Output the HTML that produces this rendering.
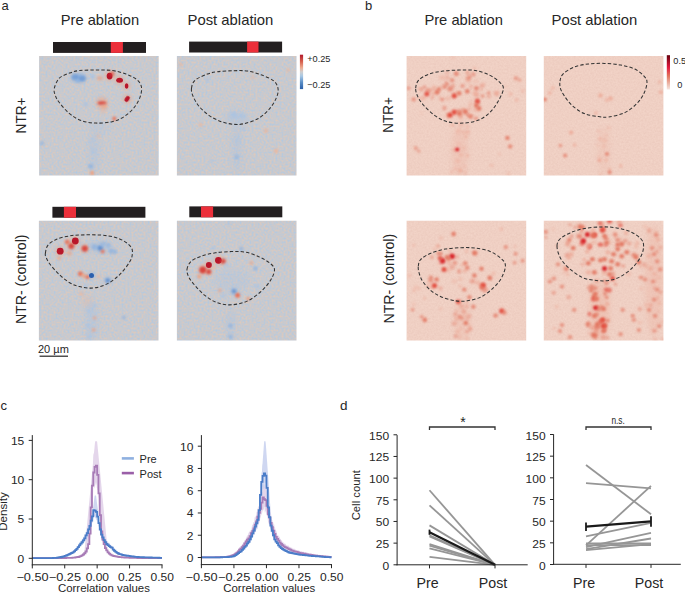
<!DOCTYPE html>
<html><head><meta charset="utf-8"><style>
html,body{margin:0;padding:0;background:#fff;}
body{width:685px;height:593px;overflow:hidden;}
svg{display:block;font-family:"Liberation Sans",sans-serif;}
</style></head><body>
<svg width="685" height="593" viewBox="0 0 685 593">

<defs>
<filter id="b0" x="-50%" y="-50%" width="200%" height="200%"><feGaussianBlur stdDeviation="0.6"/></filter>
<filter id="b1" x="-50%" y="-50%" width="200%" height="200%"><feGaussianBlur stdDeviation="0.9"/></filter>
<filter id="b2" x="-50%" y="-50%" width="200%" height="200%"><feGaussianBlur stdDeviation="1.6"/></filter>
<filter id="b3" x="-50%" y="-50%" width="200%" height="200%"><feGaussianBlur stdDeviation="2.6"/></filter>
<filter id="nA" x="0" y="0" width="100%" height="100%" filterUnits="objectBoundingBox" color-interpolation-filters="sRGB">
<feTurbulence type="fractalNoise" baseFrequency="0.5" numOctaves="2" seed="3" result="n"/>
<feColorMatrix in="n" type="matrix" values="0.26 0 0 0 0.655  0 0 0 0 0.79  -0.22 0 0 0 0.918  0 0 0 0 1"/>
<feGaussianBlur stdDeviation="0.4"/>
</filter>
<filter id="nB" x="0" y="0" width="100%" height="100%" filterUnits="objectBoundingBox" color-interpolation-filters="sRGB">
<feTurbulence type="fractalNoise" baseFrequency="0.55" numOctaves="2" seed="7" result="n"/>
<feColorMatrix in="n" type="matrix" values="0.04 0 0 0 0.918  0.06 0 0 0 0.783  0.06 0 0 0 0.735  0 0 0 0 1"/>
<feGaussianBlur stdDeviation="0.35"/>
</filter>
<linearGradient id="cbA" x1="0" y1="0" x2="0" y2="1">
<stop offset="0" stop-color="#b2182b"/><stop offset="0.2" stop-color="#d6604d"/><stop offset="0.38" stop-color="#eeab8f"/>
<stop offset="0.5" stop-color="#cfcfcf"/><stop offset="0.62" stop-color="#a8c8e4"/><stop offset="0.8" stop-color="#5b8fc7"/><stop offset="1" stop-color="#2a5ea8"/>
</linearGradient>
<linearGradient id="cbB" x1="0" y1="0" x2="0" y2="1">
<stop offset="0" stop-color="#67000d"/><stop offset="0.35" stop-color="#e3183e"/><stop offset="0.6" stop-color="#e2735c"/>
<stop offset="0.85" stop-color="#edbcae"/><stop offset="1" stop-color="#f6e6e0"/>
</linearGradient>
</defs>

<text x="1.60" y="10.40" font-size="13" fill="#262626" text-anchor="start" >a</text>
<text x="365.00" y="10.40" font-size="13" fill="#262626" text-anchor="start" >b</text>
<text x="0.50" y="410.20" font-size="13" fill="#262626" text-anchor="start" >c</text>
<text x="340.00" y="409.80" font-size="13.5" fill="#262626" text-anchor="start" >d</text>
<text x="60.80" y="24.70" font-size="14.6" fill="#262626" text-anchor="start"  textLength="78.3" lengthAdjust="spacingAndGlyphs">Pre ablation</text>
<text x="187.50" y="24.70" font-size="14.6" fill="#262626" text-anchor="start"  textLength="85.9" lengthAdjust="spacingAndGlyphs">Post ablation</text>
<text x="424.40" y="24.70" font-size="14.6" fill="#262626" text-anchor="start"  textLength="78.6" lengthAdjust="spacingAndGlyphs">Pre ablation</text>
<text x="551.60" y="24.70" font-size="14.6" fill="#262626" text-anchor="start"  textLength="85.6" lengthAdjust="spacingAndGlyphs">Post ablation</text>
<text transform="translate(25.80,115.50) rotate(-90)" font-size="14.6" fill="#262626" text-anchor="middle" textLength="35.8" lengthAdjust="spacingAndGlyphs">NTR+</text>
<text transform="translate(25.60,279.30) rotate(-90)" font-size="14.6" fill="#262626" text-anchor="middle" textLength="89.6" lengthAdjust="spacingAndGlyphs">NTR- (control)</text>
<text transform="translate(393.20,115.00) rotate(-90)" font-size="14.6" fill="#262626" text-anchor="middle" textLength="35.4" lengthAdjust="spacingAndGlyphs">NTR+</text>
<text transform="translate(393.50,278.70) rotate(-90)" font-size="14.6" fill="#262626" text-anchor="middle" textLength="89.8" lengthAdjust="spacingAndGlyphs">NTR- (control)</text>
<rect x="53" y="42" width="93" height="10.9" fill="#231f20"/>
<rect x="110.8" y="42" width="12.1" height="10.9" fill="#ec2f3a"/>
<rect x="189.1" y="41.6" width="93" height="10.9" fill="#231f20"/>
<rect x="247.1" y="41.6" width="11.4" height="10.9" fill="#ec2f3a"/>
<rect x="52.4" y="206.8" width="93" height="10.9" fill="#231f20"/>
<rect x="63.9" y="206.8" width="12.1" height="10.9" fill="#ec2f3a"/>
<rect x="189.3" y="206.4" width="93" height="10.9" fill="#231f20"/>
<rect x="201" y="206.4" width="12.1" height="10.9" fill="#ec2f3a"/>
<clipPath id="ca1"><rect x="39.1" y="55.9" width="119.6" height="119.6"/></clipPath>
<g clip-path="url(#ca1)">
<rect x="39.1" y="55.9" width="119.6" height="119.6" fill="#ccc" filter="url(#nA)"/>
<circle cx="75.1" cy="76.9" r="4.7" fill="#8fb3e0" opacity="0.4" filter="url(#b2)"/>
<circle cx="82.1" cy="78.4" r="4.7" fill="#8fb3e0" opacity="0.4" filter="url(#b2)"/>
<circle cx="109.6" cy="76.1" r="5.1" fill="#f0a07f" opacity="0.4" filter="url(#b2)"/>
<circle cx="112.1" cy="73.9" r="3.4" fill="#f0a07f" opacity="0.4" filter="url(#b2)"/>
<circle cx="119.6" cy="80.2" r="5.1" fill="#f0a07f" opacity="0.4" filter="url(#b2)"/>
<circle cx="126.6" cy="86.0" r="4.1" fill="#f0a07f" opacity="0.4" filter="url(#b2)"/>
<circle cx="127.2" cy="98.9" r="4.8" fill="#f0a07f" opacity="0.4" filter="url(#b2)"/>
<circle cx="102.0" cy="103.0" r="6.5" fill="#f0a07f" opacity="0.4" filter="url(#b2)"/>
<ellipse cx="94.1" cy="152.9" rx="5.0" ry="20.0" fill="#a9c3e3" opacity="0.35" filter="url(#b3)"/>
<ellipse cx="99.1" cy="127.9" rx="10.0" ry="6.0" fill="#a9c3e3" opacity="0.25" filter="url(#b3)"/>
<ellipse cx="78.6" cy="77.9" rx="7.0" ry="4.5" fill="#8fb3e0" opacity="0.75" filter="url(#b2)"/>
<ellipse cx="75.1" cy="76.9" rx="3.5" ry="2.6" fill="#5e8fd0" opacity="0.55" filter="url(#b1)"/>
<ellipse cx="82.1" cy="78.4" rx="3.5" ry="2.6" fill="#5e8fd0" opacity="0.6" filter="url(#b1)"/>
<ellipse cx="78.1" cy="80.9" rx="2.2" ry="2.2" fill="#8fb3e0" opacity="0.5" filter="url(#b1)"/>
<ellipse cx="92.7" cy="76.7" rx="2.5" ry="2.5" fill="#a9c3e3" opacity="0.8" filter="url(#b1)"/>
<ellipse cx="99.8" cy="78.3" rx="3.0" ry="2.2" fill="#f0a07f" opacity="0.6" filter="url(#b1)"/>
<ellipse cx="109.6" cy="76.1" rx="2.9" ry="3.4" fill="#b8152a" opacity="1" filter="url(#b0)"/>
<ellipse cx="112.1" cy="73.9" rx="2.3" ry="2.3" fill="#d9453c" opacity="0.6" filter="url(#b1)"/>
<ellipse cx="119.6" cy="80.2" rx="3.4" ry="2.5" fill="#b8152a" opacity="1" filter="url(#b0)"/>
<ellipse cx="126.6" cy="86.0" rx="1.8" ry="2.8" fill="#b8152a" opacity="1" filter="url(#b0)"/>
<ellipse cx="127.2" cy="98.9" rx="2.1" ry="3.2" fill="#b8152a" opacity="1" filter="url(#b0)" transform="rotate(35 127.2 98.9)"/>
<ellipse cx="102.0" cy="103.0" rx="4.4" ry="1.8" fill="#d9453c" opacity="0.95" filter="url(#b1)"/>
<ellipse cx="104.1" cy="106.4" rx="3.0" ry="3.0" fill="#f0a07f" opacity="0.55" filter="url(#b2)"/>
<ellipse cx="103.1" cy="110.9" rx="3.0" ry="3.0" fill="#e9b8a0" opacity="0.45" filter="url(#b2)"/>
<ellipse cx="114.3" cy="118.7" rx="2.1" ry="2.1" fill="#e8735a" opacity="0.9" filter="url(#b1)"/>
<ellipse cx="85.7" cy="104.5" rx="2.5" ry="2.5" fill="#a9c3e3" opacity="0.7" filter="url(#b1)"/>
<ellipse cx="42.1" cy="143.3" rx="2.2" ry="2.2" fill="#8fb3e0" opacity="0.6" filter="url(#b1)"/>
<ellipse cx="93.1" cy="150.9" rx="2.0" ry="3.0" fill="#a9c3e3" opacity="0.55" filter="url(#b2)"/>
<ellipse cx="91.1" cy="140.9" rx="2.5" ry="2.5" fill="#a9c3e3" opacity="0.4" filter="url(#b2)"/>
<ellipse cx="90.7" cy="166.2" rx="2.5" ry="2.5" fill="#8fb3e0" opacity="0.8" filter="url(#b1)"/>
<ellipse cx="92.1" cy="172.9" rx="2.2" ry="2.2" fill="#f0a07f" opacity="0.9" filter="url(#b1)"/>
<ellipse cx="98.1" cy="135.9" rx="2.0" ry="2.0" fill="#e9b8a0" opacity="0.5" filter="url(#b1)"/>
</g>
<path d="M54.30,88.30 C54.97,85.43 56.77,80.73 59.30,78.20 C61.83,75.67 66.12,74.38 69.50,73.10 C72.88,71.82 75.22,71.00 79.60,70.50 C83.98,70.00 90.40,70.10 95.80,70.10 C101.20,70.10 106.95,69.83 112.00,70.50 C117.05,71.17 122.05,72.65 126.10,74.10 C130.15,75.55 133.77,77.17 136.30,79.20 C138.83,81.23 140.63,83.43 141.30,86.30 C141.97,89.17 141.48,92.87 140.30,96.40 C139.12,99.93 136.90,104.13 134.20,107.50 C131.50,110.87 127.80,114.23 124.10,116.60 C120.40,118.97 116.72,120.62 112.00,121.70 C107.28,122.78 100.87,123.27 95.80,123.10 C90.73,122.93 85.98,122.28 81.60,120.70 C77.22,119.12 73.22,116.63 69.50,113.60 C65.78,110.57 61.67,105.53 59.30,102.50 C56.93,99.47 56.13,97.77 55.30,95.40 C54.47,93.03 53.63,91.17 54.30,88.30Z" fill="none" stroke="#333" stroke-width="1.05" stroke-dasharray="3.4 2.1"/>
<clipPath id="ca2"><rect x="176.9" y="55.9" width="119.6" height="119.6"/></clipPath>
<g clip-path="url(#ca2)">
<rect x="176.9" y="55.9" width="119.6" height="119.6" fill="#ccc" filter="url(#nA)"/>
<ellipse cx="236.9" cy="147.9" rx="5.0" ry="24.0" fill="#a9c3e3" opacity="0.3" filter="url(#b3)"/>
<ellipse cx="236.9" cy="117.9" rx="12.0" ry="7.0" fill="#a9c3e3" opacity="0.35" filter="url(#b3)"/>
<ellipse cx="233.9" cy="114.9" rx="3.5" ry="3.5" fill="#a9c3e3" opacity="0.8" filter="url(#b2)"/>
<ellipse cx="241.9" cy="115.9" rx="3.0" ry="3.0" fill="#a9c3e3" opacity="0.7" filter="url(#b2)"/>
<ellipse cx="207.3" cy="79.8" rx="2.2" ry="2.2" fill="#a9c3e3" opacity="0.7" filter="url(#b1)"/>
<ellipse cx="243.7" cy="128.8" rx="2.2" ry="2.2" fill="#a9c3e3" opacity="0.6" filter="url(#b1)"/>
<ellipse cx="236.6" cy="157.1" rx="2.5" ry="2.5" fill="#8fb3e0" opacity="0.6" filter="url(#b1)"/>
<ellipse cx="265.9" cy="130.8" rx="2.2" ry="2.2" fill="#e9b8a0" opacity="0.9" filter="url(#b1)"/>
<ellipse cx="276.1" cy="151.0" rx="2.4" ry="2.4" fill="#e9b8a0" opacity="0.9" filter="url(#b1)"/>
<ellipse cx="200.8" cy="124.7" rx="2.0" ry="2.0" fill="#e9b8a0" opacity="0.8" filter="url(#b1)"/>
<ellipse cx="288.2" cy="70.1" rx="1.8" ry="1.8" fill="#e9b8a0" opacity="0.8" filter="url(#b1)"/>
<ellipse cx="180.9" cy="64.4" rx="1.8" ry="1.8" fill="#e9b8a0" opacity="0.8" filter="url(#b1)"/>
<ellipse cx="252.8" cy="77.2" rx="2.0" ry="2.0" fill="#e9b8a0" opacity="0.6" filter="url(#b1)"/>
<ellipse cx="236.9" cy="140.9" rx="3.0" ry="3.0" fill="#a9c3e3" opacity="0.4" filter="url(#b2)"/>
<ellipse cx="211.9" cy="160.9" rx="2.5" ry="2.5" fill="#a9c3e3" opacity="0.4" filter="url(#b2)"/>
</g>
<path d="M191.50,88.30 C191.83,85.60 192.47,82.57 195.10,80.20 C197.73,77.83 203.58,75.52 207.30,74.10 C211.02,72.68 213.02,72.27 217.40,71.70 C221.78,71.13 228.53,70.80 233.60,70.70 C238.67,70.60 243.08,70.37 247.80,71.10 C252.52,71.83 257.52,73.42 261.90,75.10 C266.28,76.78 271.40,78.83 274.10,81.20 C276.80,83.57 277.77,86.43 278.10,89.30 C278.43,92.17 277.62,95.03 276.10,98.40 C274.58,101.77 272.03,106.12 269.00,109.50 C265.97,112.88 262.12,116.33 257.90,118.70 C253.68,121.07 247.75,122.77 243.70,123.70 C239.65,124.63 237.32,124.63 233.60,124.30 C229.88,123.97 225.45,123.15 221.40,121.70 C217.35,120.25 213.00,118.13 209.30,115.60 C205.60,113.07 201.90,109.70 199.20,106.50 C196.50,103.30 194.38,99.43 193.10,96.40 C191.82,93.37 191.17,91.00 191.50,88.30Z" fill="none" stroke="#333" stroke-width="1.05" stroke-dasharray="3.4 2.1"/>
<clipPath id="ca3"><rect x="38.9" y="220.8" width="119.6" height="119.6"/></clipPath>
<g clip-path="url(#ca3)">
<rect x="38.9" y="220.8" width="119.6" height="119.6" fill="#ccc" filter="url(#nA)"/>
<circle cx="100.2" cy="248.1" r="4.7" fill="#8fb3e0" opacity="0.4" filter="url(#b2)"/>
<circle cx="75.3" cy="241.0" r="5.1" fill="#f0a07f" opacity="0.4" filter="url(#b2)"/>
<circle cx="60.2" cy="251.2" r="5.1" fill="#f0a07f" opacity="0.4" filter="url(#b2)"/>
<circle cx="71.3" cy="246.1" r="4.2" fill="#f0a07f" opacity="0.4" filter="url(#b2)"/>
<circle cx="84.8" cy="248.5" r="4.6" fill="#f0a07f" opacity="0.4" filter="url(#b2)"/>
<circle cx="91.5" cy="275.5" r="4.0" fill="#8fb3e0" opacity="0.4" filter="url(#b2)"/>
<circle cx="107.7" cy="280.5" r="4.0" fill="#8fb3e0" opacity="0.4" filter="url(#b2)"/>
<ellipse cx="91.9" cy="320.8" rx="6.0" ry="20.0" fill="#a9c3e3" opacity="0.4" filter="url(#b3)"/>
<ellipse cx="86.9" cy="300.8" rx="5.0" ry="6.0" fill="#e9b8a0" opacity="0.3" filter="url(#b3)"/>
<ellipse cx="100.9" cy="246.8" rx="13.0" ry="5.0" fill="#a9c3e3" opacity="0.45" filter="url(#b3)"/>
<ellipse cx="94.3" cy="247.0" rx="3.0" ry="3.0" fill="#8fb3e0" opacity="0.8" filter="url(#b1)"/>
<ellipse cx="100.2" cy="248.1" rx="2.6" ry="2.6" fill="#5e8fd0" opacity="0.9" filter="url(#b1)"/>
<ellipse cx="103.1" cy="243.8" rx="2.6" ry="2.6" fill="#8fb3e0" opacity="0.6" filter="url(#b1)"/>
<ellipse cx="108.2" cy="245.2" rx="2.6" ry="2.6" fill="#8fb3e0" opacity="0.6" filter="url(#b1)"/>
<ellipse cx="111.1" cy="251.1" rx="2.6" ry="2.6" fill="#8fb3e0" opacity="0.8" filter="url(#b1)"/>
<ellipse cx="114.8" cy="251.8" rx="2.4" ry="2.4" fill="#8fb3e0" opacity="0.75" filter="url(#b1)"/>
<ellipse cx="90.9" cy="243.8" rx="2.0" ry="2.0" fill="#a9c3e3" opacity="0.5" filter="url(#b1)"/>
<ellipse cx="75.3" cy="241.0" rx="3.4" ry="3.4" fill="#b8152a" opacity="1" filter="url(#b0)"/>
<ellipse cx="60.2" cy="251.2" rx="3.4" ry="3.4" fill="#b8152a" opacity="1" filter="url(#b0)"/>
<ellipse cx="71.3" cy="246.1" rx="2.9" ry="2.9" fill="#d9453c" opacity="0.95" filter="url(#b1)"/>
<ellipse cx="67.2" cy="242.1" rx="2.5" ry="2.5" fill="#e8735a" opacity="0.9" filter="url(#b1)"/>
<ellipse cx="84.8" cy="248.5" rx="3.1" ry="3.1" fill="#d9453c" opacity="0.95" filter="url(#b1)"/>
<ellipse cx="69.3" cy="253.2" rx="2.5" ry="2.5" fill="#f0a07f" opacity="0.6" filter="url(#b1)"/>
<ellipse cx="59.1" cy="258.2" rx="2.0" ry="2.0" fill="#f0a07f" opacity="0.6" filter="url(#b1)"/>
<ellipse cx="102.7" cy="251.6" rx="2.0" ry="2.0" fill="#e8735a" opacity="0.9" filter="url(#b1)"/>
<ellipse cx="80.4" cy="273.8" rx="2.5" ry="2.5" fill="#e8735a" opacity="0.95" filter="url(#b1)"/>
<ellipse cx="83.9" cy="275.8" rx="2.2" ry="2.2" fill="#f0a07f" opacity="0.8" filter="url(#b1)"/>
<ellipse cx="87.5" cy="277.1" rx="2.2" ry="2.2" fill="#e8735a" opacity="0.9" filter="url(#b1)"/>
<ellipse cx="91.5" cy="275.5" rx="2.5" ry="2.5" fill="#2c5fae" opacity="1" filter="url(#b0)"/>
<ellipse cx="98.6" cy="276.5" rx="2.0" ry="2.0" fill="#e9b8a0" opacity="0.7" filter="url(#b1)"/>
<ellipse cx="107.7" cy="280.5" rx="2.2" ry="2.2" fill="#5e8fd0" opacity="0.9" filter="url(#b1)"/>
<ellipse cx="85.5" cy="285.6" rx="2.2" ry="2.2" fill="#a9c3e3" opacity="0.6" filter="url(#b1)"/>
<ellipse cx="81.4" cy="293.7" rx="2.5" ry="2.5" fill="#e9b8a0" opacity="0.6" filter="url(#b1)"/>
<ellipse cx="123.9" cy="317.6" rx="2.0" ry="2.0" fill="#8fb3e0" opacity="0.7" filter="url(#b1)"/>
<ellipse cx="88.9" cy="310.8" rx="3.0" ry="3.0" fill="#a9c3e3" opacity="0.5" filter="url(#b2)"/>
<ellipse cx="94.6" cy="318.0" rx="2.0" ry="2.0" fill="#f0a07f" opacity="0.6" filter="url(#b1)"/>
<ellipse cx="93.6" cy="330.1" rx="2.0" ry="2.0" fill="#f0a07f" opacity="0.7" filter="url(#b1)"/>
<ellipse cx="87.9" cy="325.8" rx="2.5" ry="2.5" fill="#a9c3e3" opacity="0.6" filter="url(#b1)"/>
<ellipse cx="88.9" cy="336.8" rx="2.5" ry="2.5" fill="#a9c3e3" opacity="0.6" filter="url(#b1)"/>
<ellipse cx="94.9" cy="305.8" rx="2.0" ry="2.0" fill="#a9c3e3" opacity="0.5" filter="url(#b1)"/>
</g>
<path d="M45.40,253.20 C45.73,251.18 46.05,247.47 48.00,245.10 C49.95,242.73 53.55,240.52 57.10,239.00 C60.65,237.48 65.58,236.67 69.30,236.00 C73.02,235.33 74.35,235.17 79.40,235.00 C84.45,234.83 93.87,234.67 99.60,235.00 C105.33,235.33 109.75,236.00 113.80,237.00 C117.85,238.00 121.03,239.32 123.90,241.00 C126.77,242.68 129.58,245.07 131.00,247.10 C132.42,249.13 132.57,250.83 132.40,253.20 C132.23,255.57 132.08,257.77 130.00,261.30 C127.92,264.83 123.62,270.68 119.90,274.40 C116.18,278.12 112.08,281.33 107.70,283.60 C103.32,285.87 98.32,287.50 93.60,288.00 C88.88,288.50 83.45,287.52 79.40,286.60 C75.35,285.68 72.68,284.53 69.30,282.50 C65.92,280.47 62.32,277.43 59.10,274.40 C55.88,271.37 52.18,267.17 50.00,264.30 C47.82,261.43 46.77,259.05 46.00,257.20 C45.23,255.35 45.07,255.22 45.40,253.20Z" fill="none" stroke="#333" stroke-width="1.05" stroke-dasharray="3.4 2.1"/>
<clipPath id="ca4"><rect x="176.9" y="220.8" width="119.6" height="119.6"/></clipPath>
<g clip-path="url(#ca4)">
<rect x="176.9" y="220.8" width="119.6" height="119.6" fill="#ccc" filter="url(#nA)"/>
<circle cx="218.4" cy="260.3" r="5.1" fill="#f0a07f" opacity="0.4" filter="url(#b2)"/>
<circle cx="223.1" cy="261.3" r="3.7" fill="#f0a07f" opacity="0.4" filter="url(#b2)"/>
<circle cx="208.9" cy="264.9" r="4.4" fill="#f0a07f" opacity="0.4" filter="url(#b2)"/>
<circle cx="202.8" cy="270.0" r="5.1" fill="#f0a07f" opacity="0.4" filter="url(#b2)"/>
<circle cx="208.7" cy="271.8" r="3.7" fill="#f0a07f" opacity="0.4" filter="url(#b2)"/>
<circle cx="234.0" cy="291.2" r="4.0" fill="#8fb3e0" opacity="0.4" filter="url(#b2)"/>
<ellipse cx="230.9" cy="325.8" rx="4.0" ry="15.0" fill="#a9c3e3" opacity="0.35" filter="url(#b3)"/>
<ellipse cx="231.9" cy="280.8" rx="18.0" ry="12.0" fill="#a9c3e3" opacity="0.25" filter="url(#b3)"/>
<ellipse cx="218.4" cy="260.3" rx="3.4" ry="3.4" fill="#b8152a" opacity="1" filter="url(#b0)"/>
<ellipse cx="223.1" cy="261.3" rx="2.5" ry="2.5" fill="#d9453c" opacity="0.9" filter="url(#b1)"/>
<ellipse cx="208.9" cy="264.9" rx="3.0" ry="3.0" fill="#b8152a" opacity="1" filter="url(#b0)"/>
<ellipse cx="202.8" cy="270.0" rx="3.4" ry="3.4" fill="#d9453c" opacity="1" filter="url(#b1)"/>
<ellipse cx="208.7" cy="271.8" rx="2.5" ry="2.5" fill="#d9453c" opacity="0.9" filter="url(#b1)"/>
<ellipse cx="199.2" cy="276.5" rx="2.2" ry="2.2" fill="#f0a07f" opacity="0.8" filter="url(#b1)"/>
<ellipse cx="214.3" cy="267.4" rx="2.2" ry="2.2" fill="#e9b8a0" opacity="0.7" filter="url(#b1)"/>
<ellipse cx="237.6" cy="295.3" rx="2.5" ry="2.5" fill="#e8735a" opacity="1" filter="url(#b1)"/>
<ellipse cx="248.2" cy="298.7" rx="2.0" ry="2.0" fill="#f0a07f" opacity="0.9" filter="url(#b1)"/>
<ellipse cx="219.8" cy="290.6" rx="2.0" ry="2.0" fill="#f0a07f" opacity="0.6" filter="url(#b1)"/>
<ellipse cx="251.4" cy="262.9" rx="2.0" ry="2.0" fill="#f0a07f" opacity="0.6" filter="url(#b1)"/>
<ellipse cx="255.4" cy="268.4" rx="2.2" ry="2.2" fill="#8fb3e0" opacity="0.8" filter="url(#b1)"/>
<ellipse cx="241.3" cy="248.7" rx="2.2" ry="2.2" fill="#8fb3e0" opacity="0.7" filter="url(#b1)"/>
<ellipse cx="213.3" cy="248.1" rx="2.0" ry="2.0" fill="#a9c3e3" opacity="0.6" filter="url(#b1)"/>
<ellipse cx="234.0" cy="291.2" rx="2.2" ry="2.2" fill="#5e8fd0" opacity="0.8" filter="url(#b1)"/>
<ellipse cx="223.5" cy="295.7" rx="2.5" ry="2.5" fill="#a9c3e3" opacity="0.6" filter="url(#b1)"/>
<ellipse cx="256.9" cy="286.6" rx="2.5" ry="2.5" fill="#a9c3e3" opacity="0.6" filter="url(#b1)"/>
<ellipse cx="230.5" cy="325.8" rx="2.3" ry="2.3" fill="#8fb3e0" opacity="0.8" filter="url(#b1)"/>
<ellipse cx="230.5" cy="336.8" rx="2.3" ry="2.3" fill="#8fb3e0" opacity="0.7" filter="url(#b1)"/>
<ellipse cx="226.5" cy="265.3" rx="2.5" ry="2.5" fill="#a9c3e3" opacity="0.5" filter="url(#b1)"/>
<ellipse cx="228.9" cy="222.8" rx="2.0" ry="2.0" fill="#a9c3e3" opacity="0.5" filter="url(#b1)"/>
</g>
<path d="M187.00,269.40 C187.35,266.70 188.73,263.50 191.10,261.30 C193.47,259.10 197.15,257.62 201.20,256.20 C205.25,254.78 210.33,253.57 215.40,252.80 C220.47,252.03 226.55,251.70 231.60,251.60 C236.65,251.50 240.98,251.27 245.70,252.20 C250.42,253.13 255.85,255.35 259.90,257.20 C263.95,259.05 267.57,261.27 270.00,263.30 C272.43,265.33 274.33,266.70 274.50,269.40 C274.67,272.10 273.10,275.97 271.00,279.50 C268.90,283.03 265.77,287.05 261.90,290.60 C258.03,294.15 252.85,298.43 247.80,300.80 C242.75,303.17 236.67,304.47 231.60,304.80 C226.53,305.13 221.80,304.32 217.40,302.80 C213.00,301.28 208.92,298.57 205.20,295.70 C201.48,292.83 197.80,288.63 195.10,285.60 C192.40,282.57 190.35,280.20 189.00,277.50 C187.65,274.80 186.65,272.10 187.00,269.40Z" fill="none" stroke="#333" stroke-width="1.05" stroke-dasharray="3.4 2.1"/>
<clipPath id="cb1"><rect x="406.6" y="55.9" width="119.6" height="119.6"/></clipPath>
<g clip-path="url(#cb1)">
<rect x="406.6" y="55.9" width="119.6" height="119.6" fill="#ccc" filter="url(#nB)"/>
<ellipse cx="459.6" cy="150.9" rx="8.0" ry="26.0" fill="#eca592" opacity="0.22" filter="url(#b3)"/>
<ellipse cx="488.9" cy="96.6" rx="2.3" ry="1.9" fill="#e2705a" opacity="0.29" filter="url(#b1)"/>
<ellipse cx="450.1" cy="88.8" rx="2.7" ry="2.2" fill="#e2705a" opacity="0.26" filter="url(#b1)"/>
<ellipse cx="481.9" cy="85.9" rx="2.6" ry="2.1" fill="#e2705a" opacity="0.34" filter="url(#b1)"/>
<ellipse cx="427.1" cy="90.3" rx="2.4" ry="2.3" fill="#eca592" opacity="0.26" filter="url(#b1)"/>
<ellipse cx="450.2" cy="88.9" rx="2.7" ry="2.6" fill="#e2705a" opacity="0.5" filter="url(#b1)"/>
<ellipse cx="496.6" cy="93.6" rx="2.2" ry="2.4" fill="#e2705a" opacity="0.33" filter="url(#b1)"/>
<ellipse cx="442.7" cy="86.2" rx="2.8" ry="2.2" fill="#eca592" opacity="0.32" filter="url(#b1)"/>
<ellipse cx="428.6" cy="90.6" rx="3.1" ry="2.5" fill="#e2705a" opacity="0.43" filter="url(#b1)"/>
<ellipse cx="442.2" cy="99.5" rx="2.1" ry="2.0" fill="#e2705a" opacity="0.55" filter="url(#b1)"/>
<ellipse cx="421.5" cy="89.3" rx="2.0" ry="2.3" fill="#e2705a" opacity="0.4" filter="url(#b1)"/>
<ellipse cx="477.0" cy="95.3" rx="2.5" ry="2.2" fill="#e2705a" opacity="0.28" filter="url(#b1)"/>
<ellipse cx="432.2" cy="97.7" rx="1.5" ry="1.9" fill="#e2705a" opacity="0.42" filter="url(#b1)"/>
<ellipse cx="477.0" cy="99.7" rx="1.6" ry="1.8" fill="#e2705a" opacity="0.48" filter="url(#b1)"/>
<ellipse cx="419.6" cy="88.7" rx="1.9" ry="2.0" fill="#eca592" opacity="0.39" filter="url(#b1)"/>
<ellipse cx="447.9" cy="98.6" rx="3.0" ry="2.5" fill="#eca592" opacity="0.38" filter="url(#b1)"/>
<ellipse cx="496.5" cy="93.1" rx="2.8" ry="2.6" fill="#eca592" opacity="0.43" filter="url(#b1)"/>
<ellipse cx="423.3" cy="98.1" rx="2.2" ry="2.1" fill="#eca592" opacity="0.58" filter="url(#b1)"/>
<ellipse cx="453.0" cy="85.9" rx="2.0" ry="2.5" fill="#e2705a" opacity="0.41" filter="url(#b1)"/>
<ellipse cx="433.3" cy="94.1" rx="2.4" ry="2.0" fill="#eca592" opacity="0.53" filter="url(#b1)"/>
<ellipse cx="439.8" cy="97.7" rx="2.0" ry="2.5" fill="#eca592" opacity="0.28" filter="url(#b1)"/>
<ellipse cx="481.3" cy="89.4" rx="1.6" ry="1.8" fill="#eca592" opacity="0.53" filter="url(#b1)"/>
<ellipse cx="432.5" cy="89.5" rx="2.3" ry="2.0" fill="#eca592" opacity="0.48" filter="url(#b1)"/>
<ellipse cx="476.9" cy="92.9" rx="2.0" ry="2.0" fill="#eca592" opacity="0.26" filter="url(#b1)"/>
<ellipse cx="434.2" cy="87.4" rx="2.2" ry="2.1" fill="#eca592" opacity="0.59" filter="url(#b1)"/>
<ellipse cx="437.3" cy="91.5" rx="2.3" ry="2.6" fill="#eca592" opacity="0.5" filter="url(#b1)"/>
<ellipse cx="474.9" cy="93.5" rx="2.6" ry="2.4" fill="#eca592" opacity="0.59" filter="url(#b1)"/>
<ellipse cx="456.0" cy="93.2" rx="2.6" ry="2.4" fill="#eca592" opacity="0.39" filter="url(#b1)"/>
<ellipse cx="471.0" cy="86.7" rx="1.9" ry="2.1" fill="#e2705a" opacity="0.29" filter="url(#b1)"/>
<ellipse cx="424.5" cy="87.0" rx="1.9" ry="1.8" fill="#e2705a" opacity="0.51" filter="url(#b1)"/>
<ellipse cx="419.3" cy="98.2" rx="1.8" ry="2.0" fill="#eca592" opacity="0.46" filter="url(#b1)"/>
<ellipse cx="468.2" cy="81.2" rx="2.8" ry="2.2" fill="#eca592" opacity="0.33" filter="url(#b1)"/>
<ellipse cx="467.5" cy="78.3" rx="2.5" ry="2.2" fill="#eca592" opacity="0.4" filter="url(#b1)"/>
<ellipse cx="457.7" cy="74.2" rx="2.3" ry="1.9" fill="#eca592" opacity="0.22" filter="url(#b1)"/>
<ellipse cx="469.6" cy="76.6" rx="1.6" ry="1.9" fill="#e2705a" opacity="0.48" filter="url(#b1)"/>
<ellipse cx="475.9" cy="81.2" rx="3.3" ry="2.5" fill="#eca592" opacity="0.23" filter="url(#b1)"/>
<ellipse cx="442.0" cy="77.8" rx="3.2" ry="2.6" fill="#eca592" opacity="0.39" filter="url(#b1)"/>
<ellipse cx="483.5" cy="84.3" rx="1.9" ry="2.2" fill="#eca592" opacity="0.38" filter="url(#b1)"/>
<ellipse cx="468.7" cy="78.5" rx="2.6" ry="2.3" fill="#e2705a" opacity="0.39" filter="url(#b1)"/>
<ellipse cx="445.8" cy="82.9" rx="1.8" ry="1.9" fill="#e2705a" opacity="0.32" filter="url(#b1)"/>
<ellipse cx="468.9" cy="73.5" rx="2.3" ry="2.4" fill="#eca592" opacity="0.32" filter="url(#b1)"/>
<ellipse cx="473.3" cy="74.4" rx="2.3" ry="2.3" fill="#e2705a" opacity="0.49" filter="url(#b1)"/>
<ellipse cx="447.3" cy="77.9" rx="2.4" ry="2.2" fill="#e2705a" opacity="0.27" filter="url(#b1)"/>
<ellipse cx="447.2" cy="73.0" rx="2.3" ry="2.4" fill="#e2705a" opacity="0.21" filter="url(#b1)"/>
<ellipse cx="467.2" cy="72.6" rx="2.0" ry="2.1" fill="#e2705a" opacity="0.33" filter="url(#b1)"/>
<ellipse cx="471.4" cy="115.5" rx="2.3" ry="2.0" fill="#eca592" opacity="0.48" filter="url(#b1)"/>
<ellipse cx="469.5" cy="108.5" rx="2.3" ry="2.5" fill="#eca592" opacity="0.44" filter="url(#b1)"/>
<ellipse cx="460.7" cy="117.6" rx="2.5" ry="2.0" fill="#eca592" opacity="0.6" filter="url(#b1)"/>
<ellipse cx="476.0" cy="118.3" rx="2.2" ry="1.9" fill="#e2705a" opacity="0.54" filter="url(#b1)"/>
<ellipse cx="475.9" cy="109.5" rx="3.0" ry="2.6" fill="#eca592" opacity="0.42" filter="url(#b1)"/>
<ellipse cx="460.6" cy="111.0" rx="2.5" ry="2.3" fill="#e2705a" opacity="0.47" filter="url(#b1)"/>
<ellipse cx="467.6" cy="114.8" rx="2.2" ry="2.1" fill="#e2705a" opacity="0.49" filter="url(#b1)"/>
<ellipse cx="448.3" cy="115.4" rx="2.3" ry="2.4" fill="#e2705a" opacity="0.44" filter="url(#b1)"/>
<ellipse cx="457.6" cy="111.1" rx="1.9" ry="1.9" fill="#e2705a" opacity="0.46" filter="url(#b1)"/>
<ellipse cx="463.2" cy="109.2" rx="2.2" ry="1.9" fill="#eca592" opacity="0.56" filter="url(#b1)"/>
<ellipse cx="460.7" cy="114.7" rx="2.2" ry="1.9" fill="#e2705a" opacity="0.39" filter="url(#b1)"/>
<ellipse cx="444.4" cy="107.9" rx="2.2" ry="2.5" fill="#e2705a" opacity="0.47" filter="url(#b1)"/>
<ellipse cx="467.7" cy="126.8" rx="2.1" ry="2.4" fill="#eca592" opacity="0.31" filter="url(#b1)"/>
<ellipse cx="466.1" cy="136.7" rx="2.4" ry="2.2" fill="#eca592" opacity="0.38" filter="url(#b1)"/>
<ellipse cx="458.9" cy="144.0" rx="1.7" ry="1.6" fill="#eca592" opacity="0.36" filter="url(#b1)"/>
<ellipse cx="452.2" cy="125.3" rx="2.2" ry="1.7" fill="#eca592" opacity="0.48" filter="url(#b1)"/>
<ellipse cx="466.6" cy="132.3" rx="1.5" ry="1.9" fill="#eca592" opacity="0.27" filter="url(#b1)"/>
<ellipse cx="453.9" cy="149.9" rx="1.8" ry="1.8" fill="#eca592" opacity="0.5" filter="url(#b1)"/>
<ellipse cx="460.5" cy="170.2" rx="1.8" ry="1.9" fill="#eca592" opacity="0.44" filter="url(#b1)"/>
<ellipse cx="468.0" cy="132.1" rx="2.5" ry="2.4" fill="#eca592" opacity="0.41" filter="url(#b1)"/>
<ellipse cx="459.9" cy="171.1" rx="2.0" ry="2.0" fill="#eca592" opacity="0.4" filter="url(#b1)"/>
<ellipse cx="457.6" cy="160.9" rx="2.1" ry="2.3" fill="#eca592" opacity="0.35" filter="url(#b1)"/>
<ellipse cx="463.5" cy="132.4" rx="1.9" ry="1.8" fill="#eca592" opacity="0.43" filter="url(#b1)"/>
<ellipse cx="465.2" cy="166.3" rx="1.6" ry="1.8" fill="#eca592" opacity="0.29" filter="url(#b1)"/>
<ellipse cx="467.5" cy="155.7" rx="1.9" ry="2.0" fill="#eca592" opacity="0.44" filter="url(#b1)"/>
<ellipse cx="465.5" cy="174.8" rx="1.7" ry="1.5" fill="#eca592" opacity="0.22" filter="url(#b1)"/>
<ellipse cx="455.5" cy="168.6" rx="1.5" ry="1.7" fill="#eca592" opacity="0.43" filter="url(#b1)"/>
<ellipse cx="465.6" cy="172.0" rx="2.0" ry="1.7" fill="#eca592" opacity="0.33" filter="url(#b1)"/>
<ellipse cx="457.8" cy="132.7" rx="2.0" ry="1.5" fill="#eca592" opacity="0.22" filter="url(#b1)"/>
<ellipse cx="464.0" cy="125.0" rx="1.9" ry="1.5" fill="#eca592" opacity="0.24" filter="url(#b1)"/>
<ellipse cx="460.5" cy="124.0" rx="2.0" ry="2.2" fill="#eca592" opacity="0.44" filter="url(#b1)"/>
<ellipse cx="451.7" cy="171.8" rx="2.5" ry="2.4" fill="#eca592" opacity="0.29" filter="url(#b1)"/>
<ellipse cx="461.0" cy="154.8" rx="2.1" ry="1.8" fill="#eca592" opacity="0.47" filter="url(#b1)"/>
<ellipse cx="463.6" cy="148.0" rx="2.6" ry="2.3" fill="#eca592" opacity="0.23" filter="url(#b1)"/>
<ellipse cx="471.4" cy="99.9" rx="1.4" ry="1.7" fill="#eca592" opacity="0.31" filter="url(#b1)"/>
<ellipse cx="506.3" cy="86.8" rx="1.7" ry="1.5" fill="#eca592" opacity="0.2" filter="url(#b1)"/>
<ellipse cx="472.0" cy="103.2" rx="1.6" ry="1.9" fill="#eca592" opacity="0.21" filter="url(#b1)"/>
<ellipse cx="453.0" cy="57.7" rx="2.7" ry="2.1" fill="#eca592" opacity="0.19" filter="url(#b1)"/>
<ellipse cx="499.4" cy="153.9" rx="1.8" ry="1.5" fill="#eca592" opacity="0.27" filter="url(#b1)"/>
<ellipse cx="491.6" cy="165.5" rx="2.3" ry="2.1" fill="#eca592" opacity="0.33" filter="url(#b1)"/>
<ellipse cx="422.6" cy="99.4" rx="2.0" ry="2.2" fill="#eca592" opacity="0.18" filter="url(#b1)"/>
<ellipse cx="458.5" cy="130.5" rx="2.6" ry="2.2" fill="#eca592" opacity="0.26" filter="url(#b1)"/>
<ellipse cx="470.2" cy="104.4" rx="2.2" ry="1.9" fill="#eca592" opacity="0.38" filter="url(#b1)"/>
<ellipse cx="508.5" cy="173.8" rx="2.1" ry="2.2" fill="#eca592" opacity="0.32" filter="url(#b1)"/>
<ellipse cx="474.7" cy="68.3" rx="2.4" ry="1.9" fill="#eca592" opacity="0.31" filter="url(#b1)"/>
<ellipse cx="421.4" cy="113.3" rx="2.0" ry="1.7" fill="#eca592" opacity="0.17" filter="url(#b1)"/>
<ellipse cx="426.8" cy="94.0" rx="2.5" ry="2.5" fill="#e34c3e" opacity="0.9" filter="url(#b1)"/>
<ellipse cx="437.0" cy="92.3" rx="2.4" ry="2.4" fill="#e2705a" opacity="0.8" filter="url(#b1)"/>
<ellipse cx="439.0" cy="89.3" rx="2.3" ry="2.3" fill="#e2705a" opacity="0.7" filter="url(#b1)"/>
<ellipse cx="454.2" cy="95.8" rx="2.6" ry="2.6" fill="#e34c3e" opacity="0.95" filter="url(#b1)"/>
<ellipse cx="459.2" cy="93.3" rx="2.4" ry="2.4" fill="#e2705a" opacity="0.8" filter="url(#b1)"/>
<ellipse cx="467.3" cy="91.3" rx="2.4" ry="2.4" fill="#e2705a" opacity="0.8" filter="url(#b1)"/>
<ellipse cx="476.4" cy="88.3" rx="2.4" ry="2.4" fill="#e2705a" opacity="0.7" filter="url(#b1)"/>
<ellipse cx="477.5" cy="101.4" rx="2.6" ry="2.6" fill="#e34c3e" opacity="0.9" filter="url(#b1)"/>
<ellipse cx="476.4" cy="105.5" rx="2.4" ry="2.4" fill="#e2705a" opacity="0.9" filter="url(#b1)"/>
<ellipse cx="479.1" cy="108.5" rx="2.4" ry="2.4" fill="#e2705a" opacity="0.85" filter="url(#b1)"/>
<ellipse cx="450.1" cy="115.0" rx="2.6" ry="2.6" fill="#e34c3e" opacity="0.95" filter="url(#b1)"/>
<ellipse cx="454.2" cy="112.2" rx="2.6" ry="2.6" fill="#e34c3e" opacity="0.95" filter="url(#b1)"/>
<ellipse cx="459.2" cy="113.6" rx="2.4" ry="2.4" fill="#e2705a" opacity="0.85" filter="url(#b1)"/>
<ellipse cx="465.3" cy="111.6" rx="2.6" ry="2.6" fill="#e2705a" opacity="0.85" filter="url(#b1)"/>
<ellipse cx="470.4" cy="116.6" rx="2.4" ry="2.4" fill="#e2705a" opacity="0.7" filter="url(#b1)"/>
<ellipse cx="456.2" cy="73.7" rx="2.4" ry="2.4" fill="#e2705a" opacity="0.7" filter="url(#b1)"/>
<ellipse cx="452.1" cy="80.2" rx="2.2" ry="2.2" fill="#e2705a" opacity="0.6" filter="url(#b1)"/>
<ellipse cx="447.1" cy="84.2" rx="2.2" ry="2.2" fill="#e2705a" opacity="0.5" filter="url(#b1)"/>
<ellipse cx="457.2" cy="149.4" rx="2.0" ry="2.0" fill="#d9262b" opacity="1" filter="url(#b1)"/>
<ellipse cx="507.4" cy="137.9" rx="2.2" ry="2.2" fill="#e2705a" opacity="0.8" filter="url(#b1)"/>
<ellipse cx="510.2" cy="146.4" rx="2.2" ry="2.2" fill="#e2705a" opacity="0.7" filter="url(#b1)"/>
<ellipse cx="413.7" cy="99.4" rx="2.2" ry="2.2" fill="#e2705a" opacity="0.6" filter="url(#b1)"/>
<ellipse cx="408.6" cy="88.3" rx="2.0" ry="2.0" fill="#e2705a" opacity="0.5" filter="url(#b1)"/>
<ellipse cx="515.9" cy="78.2" rx="2.2" ry="2.2" fill="#e2705a" opacity="0.5" filter="url(#b1)"/>
<ellipse cx="519.6" cy="79.9" rx="2.0" ry="2.0" fill="#e2705a" opacity="0.4" filter="url(#b1)"/>
<ellipse cx="415.7" cy="148.0" rx="2.0" ry="2.0" fill="#e2705a" opacity="0.5" filter="url(#b1)"/>
<ellipse cx="418.6" cy="150.9" rx="2.0" ry="2.0" fill="#e2705a" opacity="0.4" filter="url(#b1)"/>
<ellipse cx="444.6" cy="86.9" rx="2.2" ry="2.2" fill="#e2705a" opacity="0.6" filter="url(#b1)"/>
<ellipse cx="462.6" cy="85.9" rx="2.2" ry="2.2" fill="#e2705a" opacity="0.5" filter="url(#b1)"/>
<ellipse cx="482.6" cy="95.9" rx="2.0" ry="2.0" fill="#e2705a" opacity="0.5" filter="url(#b1)"/>
<ellipse cx="488.6" cy="92.9" rx="2.0" ry="2.0" fill="#e2705a" opacity="0.5" filter="url(#b1)"/>
<ellipse cx="510.6" cy="93.9" rx="2.0" ry="2.0" fill="#eca592" opacity="0.5" filter="url(#b1)"/>
<ellipse cx="516.6" cy="99.9" rx="2.0" ry="2.0" fill="#eca592" opacity="0.5" filter="url(#b1)"/>
<ellipse cx="522.6" cy="90.9" rx="2.0" ry="2.0" fill="#eca592" opacity="0.4" filter="url(#b1)"/>
</g>
<path d="M415.70,88.30 C415.87,85.60 416.50,82.57 418.70,80.20 C420.90,77.83 424.85,75.62 428.90,74.10 C432.95,72.58 437.95,71.77 443.00,71.10 C448.05,70.43 453.80,70.20 459.20,70.10 C464.60,70.00 470.33,69.67 475.40,70.50 C480.47,71.33 485.55,73.15 489.60,75.10 C493.65,77.05 497.40,80.00 499.70,82.20 C502.00,84.40 503.40,85.60 503.40,88.30 C503.40,91.00 501.67,94.68 499.70,98.40 C497.73,102.12 494.97,107.05 491.60,110.60 C488.23,114.15 484.22,117.62 479.50,119.70 C474.78,121.78 468.70,122.77 463.30,123.10 C457.90,123.43 451.83,122.95 447.10,121.70 C442.37,120.45 438.78,118.30 434.90,115.60 C431.02,112.90 426.67,108.70 423.80,105.50 C420.93,102.30 419.05,99.27 417.70,96.40 C416.35,93.53 415.53,91.00 415.70,88.30Z" fill="none" stroke="#333" stroke-width="1.05" stroke-dasharray="3.4 2.1"/>
<clipPath id="cb2"><rect x="543.8" y="55.9" width="119.6" height="119.6"/></clipPath>
<g clip-path="url(#cb2)">
<rect x="543.8" y="55.9" width="119.6" height="119.6" fill="#ccc" filter="url(#nB)"/>
<ellipse cx="603.8" cy="150.9" rx="6.0" ry="24.0" fill="#eca592" opacity="0.15" filter="url(#b3)"/>
<ellipse cx="597.5" cy="145.3" rx="1.3" ry="1.7" fill="#eca592" opacity="0.22" filter="url(#b1)"/>
<ellipse cx="600.4" cy="174.4" rx="2.0" ry="1.9" fill="#eca592" opacity="0.26" filter="url(#b1)"/>
<ellipse cx="598.6" cy="131.1" rx="1.4" ry="1.7" fill="#eca592" opacity="0.44" filter="url(#b1)"/>
<ellipse cx="600.0" cy="139.2" rx="2.2" ry="1.9" fill="#eca592" opacity="0.28" filter="url(#b1)"/>
<ellipse cx="609.5" cy="169.0" rx="1.9" ry="2.0" fill="#eca592" opacity="0.41" filter="url(#b1)"/>
<ellipse cx="599.8" cy="138.0" rx="2.2" ry="1.8" fill="#eca592" opacity="0.22" filter="url(#b1)"/>
<ellipse cx="604.6" cy="140.6" rx="2.6" ry="2.1" fill="#eca592" opacity="0.34" filter="url(#b1)"/>
<ellipse cx="603.9" cy="146.2" rx="1.8" ry="2.1" fill="#eca592" opacity="0.31" filter="url(#b1)"/>
<ellipse cx="608.8" cy="128.0" rx="2.2" ry="1.7" fill="#eca592" opacity="0.32" filter="url(#b1)"/>
<ellipse cx="606.2" cy="160.2" rx="1.7" ry="1.9" fill="#eca592" opacity="0.45" filter="url(#b1)"/>
<ellipse cx="599.0" cy="156.9" rx="1.8" ry="1.8" fill="#eca592" opacity="0.25" filter="url(#b1)"/>
<ellipse cx="606.0" cy="135.6" rx="1.6" ry="1.9" fill="#eca592" opacity="0.23" filter="url(#b1)"/>
<ellipse cx="600.5" cy="95.4" rx="2.2" ry="2.2" fill="#eca592" opacity="0.8" filter="url(#b1)"/>
<ellipse cx="610.6" cy="98.4" rx="2.2" ry="2.2" fill="#eca592" opacity="0.8" filter="url(#b1)"/>
<ellipse cx="606.8" cy="99.9" rx="2.0" ry="2.0" fill="#eca592" opacity="0.6" filter="url(#b1)"/>
<ellipse cx="544.8" cy="99.4" rx="2.0" ry="2.0" fill="#e2705a" opacity="0.8" filter="url(#b1)"/>
<ellipse cx="549.8" cy="92.9" rx="2.0" ry="2.0" fill="#eca592" opacity="0.6" filter="url(#b1)"/>
<ellipse cx="552.8" cy="87.9" rx="2.0" ry="2.0" fill="#eca592" opacity="0.5" filter="url(#b1)"/>
<ellipse cx="571.1" cy="132.4" rx="2.0" ry="2.0" fill="#eca592" opacity="0.9" filter="url(#b1)"/>
<ellipse cx="560.4" cy="145.6" rx="1.8" ry="1.8" fill="#e2705a" opacity="0.6" filter="url(#b1)"/>
<ellipse cx="565.1" cy="155.5" rx="2.0" ry="2.0" fill="#e2705a" opacity="0.7" filter="url(#b1)"/>
<ellipse cx="574.6" cy="145.0" rx="1.8" ry="1.8" fill="#eca592" opacity="0.7" filter="url(#b1)"/>
<ellipse cx="607.0" cy="154.1" rx="2.0" ry="2.0" fill="#e2705a" opacity="0.7" filter="url(#b1)"/>
<ellipse cx="599.5" cy="160.2" rx="2.0" ry="2.0" fill="#eca592" opacity="0.8" filter="url(#b1)"/>
<ellipse cx="609.6" cy="172.3" rx="2.0" ry="2.0" fill="#e2705a" opacity="0.7" filter="url(#b1)"/>
<ellipse cx="660.8" cy="92.3" rx="2.0" ry="2.0" fill="#eca592" opacity="0.7" filter="url(#b1)"/>
<ellipse cx="659.8" cy="81.9" rx="2.0" ry="2.0" fill="#eca592" opacity="0.5" filter="url(#b1)"/>
<ellipse cx="595.8" cy="112.9" rx="2.0" ry="2.0" fill="#eca592" opacity="0.5" filter="url(#b1)"/>
<ellipse cx="620.8" cy="165.9" rx="1.8" ry="1.8" fill="#eca592" opacity="0.6" filter="url(#b1)"/>
</g>
<path d="M560.00,81.20 C560.43,78.83 560.63,76.47 563.00,74.10 C565.37,71.73 569.98,68.68 574.20,67.00 C578.42,65.32 583.25,64.60 588.30,64.00 C593.35,63.40 599.10,63.23 604.50,63.40 C609.90,63.57 615.63,64.05 620.70,65.00 C625.77,65.95 631.02,67.25 634.90,69.10 C638.78,70.95 641.98,73.92 644.00,76.10 C646.02,78.28 647.00,79.33 647.00,82.20 C647.00,85.07 645.68,89.75 644.00,93.30 C642.32,96.85 640.10,100.28 636.90,103.50 C633.70,106.72 629.52,110.35 624.80,112.60 C620.08,114.85 612.98,116.33 608.60,117.00 C604.22,117.67 602.55,117.17 598.50,116.60 C594.45,116.03 588.70,115.45 584.30,113.60 C579.90,111.75 575.48,108.53 572.10,105.50 C568.72,102.47 565.95,98.27 564.00,95.40 C562.05,92.53 561.07,90.67 560.40,88.30 C559.73,85.93 559.57,83.57 560.00,81.20Z" fill="none" stroke="#333" stroke-width="1.05" stroke-dasharray="3.4 2.1"/>
<clipPath id="cb3"><rect x="406.6" y="220.8" width="119.6" height="119.6"/></clipPath>
<g clip-path="url(#cb3)">
<rect x="406.6" y="220.8" width="119.6" height="119.6" fill="#ccc" filter="url(#nB)"/>
<ellipse cx="461.6" cy="320.8" rx="8.0" ry="20.0" fill="#eca592" opacity="0.2" filter="url(#b3)"/>
<ellipse cx="477.6" cy="282.6" rx="2.7" ry="2.3" fill="#eca592" opacity="0.5" filter="url(#b1)"/>
<ellipse cx="432.0" cy="257.1" rx="1.8" ry="2.0" fill="#e2705a" opacity="0.39" filter="url(#b1)"/>
<ellipse cx="466.5" cy="251.3" rx="2.0" ry="2.2" fill="#eca592" opacity="0.37" filter="url(#b1)"/>
<ellipse cx="454.3" cy="281.3" rx="2.8" ry="2.5" fill="#eca592" opacity="0.29" filter="url(#b1)"/>
<ellipse cx="428.7" cy="285.7" rx="2.4" ry="1.9" fill="#eca592" opacity="0.48" filter="url(#b1)"/>
<ellipse cx="439.6" cy="263.3" rx="2.2" ry="1.9" fill="#eca592" opacity="0.41" filter="url(#b1)"/>
<ellipse cx="490.7" cy="278.4" rx="1.9" ry="2.0" fill="#e2705a" opacity="0.34" filter="url(#b1)"/>
<ellipse cx="438.2" cy="253.4" rx="2.1" ry="1.9" fill="#e2705a" opacity="0.5" filter="url(#b1)"/>
<ellipse cx="475.3" cy="253.4" rx="2.4" ry="2.3" fill="#e2705a" opacity="0.5" filter="url(#b1)"/>
<ellipse cx="460.4" cy="279.0" rx="2.6" ry="2.1" fill="#eca592" opacity="0.33" filter="url(#b1)"/>
<ellipse cx="452.2" cy="267.0" rx="2.8" ry="2.6" fill="#e2705a" opacity="0.36" filter="url(#b1)"/>
<ellipse cx="431.7" cy="258.0" rx="1.7" ry="1.8" fill="#eca592" opacity="0.29" filter="url(#b1)"/>
<ellipse cx="459.1" cy="271.3" rx="2.1" ry="2.5" fill="#e2705a" opacity="0.48" filter="url(#b1)"/>
<ellipse cx="481.2" cy="285.2" rx="3.1" ry="2.4" fill="#eca592" opacity="0.38" filter="url(#b1)"/>
<ellipse cx="462.5" cy="265.3" rx="2.5" ry="2.0" fill="#eca592" opacity="0.35" filter="url(#b1)"/>
<ellipse cx="449.2" cy="263.5" rx="2.5" ry="2.2" fill="#eca592" opacity="0.49" filter="url(#b1)"/>
<ellipse cx="449.0" cy="270.2" rx="2.6" ry="2.4" fill="#eca592" opacity="0.27" filter="url(#b1)"/>
<ellipse cx="430.7" cy="280.4" rx="2.6" ry="2.5" fill="#e2705a" opacity="0.5" filter="url(#b1)"/>
<ellipse cx="432.3" cy="287.4" rx="2.1" ry="2.1" fill="#eca592" opacity="0.49" filter="url(#b1)"/>
<ellipse cx="493.4" cy="273.4" rx="2.3" ry="2.0" fill="#eca592" opacity="0.44" filter="url(#b1)"/>
<ellipse cx="457.3" cy="256.8" rx="1.9" ry="1.9" fill="#e2705a" opacity="0.34" filter="url(#b1)"/>
<ellipse cx="484.8" cy="289.8" rx="3.0" ry="2.6" fill="#e2705a" opacity="0.54" filter="url(#b1)"/>
<ellipse cx="446.7" cy="269.6" rx="2.5" ry="2.1" fill="#eca592" opacity="0.28" filter="url(#b1)"/>
<ellipse cx="440.4" cy="288.3" rx="2.3" ry="2.2" fill="#e2705a" opacity="0.3" filter="url(#b1)"/>
<ellipse cx="464.8" cy="270.9" rx="2.6" ry="2.2" fill="#eca592" opacity="0.49" filter="url(#b1)"/>
<ellipse cx="472.4" cy="281.2" rx="2.7" ry="2.4" fill="#e2705a" opacity="0.42" filter="url(#b1)"/>
<ellipse cx="467.4" cy="318.7" rx="2.0" ry="2.2" fill="#e2705a" opacity="0.21" filter="url(#b1)"/>
<ellipse cx="470.0" cy="328.9" rx="1.9" ry="2.1" fill="#e2705a" opacity="0.43" filter="url(#b1)"/>
<ellipse cx="465.7" cy="315.8" rx="2.4" ry="2.2" fill="#eca592" opacity="0.26" filter="url(#b1)"/>
<ellipse cx="457.4" cy="331.7" rx="2.2" ry="2.2" fill="#eca592" opacity="0.45" filter="url(#b1)"/>
<ellipse cx="467.0" cy="331.8" rx="2.0" ry="1.7" fill="#e2705a" opacity="0.41" filter="url(#b1)"/>
<ellipse cx="466.9" cy="302.8" rx="1.9" ry="2.2" fill="#eca592" opacity="0.38" filter="url(#b1)"/>
<ellipse cx="459.1" cy="337.0" rx="2.4" ry="2.1" fill="#eca592" opacity="0.35" filter="url(#b1)"/>
<ellipse cx="467.1" cy="338.8" rx="2.0" ry="2.2" fill="#eca592" opacity="0.39" filter="url(#b1)"/>
<ellipse cx="459.0" cy="303.7" rx="2.2" ry="1.9" fill="#eca592" opacity="0.24" filter="url(#b1)"/>
<ellipse cx="456.1" cy="318.6" rx="2.3" ry="1.8" fill="#eca592" opacity="0.38" filter="url(#b1)"/>
<ellipse cx="462.0" cy="306.5" rx="2.2" ry="2.3" fill="#eca592" opacity="0.21" filter="url(#b1)"/>
<ellipse cx="463.8" cy="311.4" rx="2.2" ry="2.3" fill="#e2705a" opacity="0.36" filter="url(#b1)"/>
<ellipse cx="461.4" cy="306.4" rx="2.2" ry="2.1" fill="#e2705a" opacity="0.23" filter="url(#b1)"/>
<ellipse cx="454.2" cy="323.5" rx="2.7" ry="2.2" fill="#e2705a" opacity="0.33" filter="url(#b1)"/>
<ellipse cx="461.9" cy="318.1" rx="2.0" ry="2.2" fill="#e2705a" opacity="0.48" filter="url(#b1)"/>
<ellipse cx="460.7" cy="328.4" rx="2.3" ry="2.1" fill="#eca592" opacity="0.21" filter="url(#b1)"/>
<ellipse cx="467.0" cy="306.5" rx="1.9" ry="1.8" fill="#e2705a" opacity="0.3" filter="url(#b1)"/>
<ellipse cx="469.3" cy="316.1" rx="2.5" ry="2.4" fill="#e2705a" opacity="0.28" filter="url(#b1)"/>
<ellipse cx="455.2" cy="314.3" rx="2.0" ry="2.0" fill="#e2705a" opacity="0.39" filter="url(#b1)"/>
<ellipse cx="455.5" cy="336.2" rx="1.8" ry="1.9" fill="#e2705a" opacity="0.41" filter="url(#b1)"/>
<ellipse cx="470.2" cy="328.7" rx="2.0" ry="2.1" fill="#eca592" opacity="0.48" filter="url(#b1)"/>
<ellipse cx="460.7" cy="301.1" rx="1.7" ry="1.6" fill="#eca592" opacity="0.38" filter="url(#b1)"/>
<ellipse cx="424.6" cy="298.3" rx="1.5" ry="1.8" fill="#eca592" opacity="0.41" filter="url(#b1)"/>
<ellipse cx="514.9" cy="246.3" rx="1.6" ry="1.9" fill="#eca592" opacity="0.31" filter="url(#b1)"/>
<ellipse cx="457.1" cy="319.2" rx="1.8" ry="1.7" fill="#eca592" opacity="0.44" filter="url(#b1)"/>
<ellipse cx="414.0" cy="290.5" rx="1.6" ry="1.9" fill="#eca592" opacity="0.44" filter="url(#b1)"/>
<ellipse cx="441.1" cy="238.0" rx="2.3" ry="2.1" fill="#eca592" opacity="0.34" filter="url(#b1)"/>
<ellipse cx="418.9" cy="288.8" rx="2.2" ry="2.0" fill="#eca592" opacity="0.29" filter="url(#b1)"/>
<ellipse cx="413.7" cy="245.3" rx="1.7" ry="1.6" fill="#eca592" opacity="0.39" filter="url(#b1)"/>
<ellipse cx="449.6" cy="250.4" rx="2.0" ry="2.2" fill="#eca592" opacity="0.37" filter="url(#b1)"/>
<ellipse cx="469.1" cy="324.9" rx="2.5" ry="1.9" fill="#eca592" opacity="0.27" filter="url(#b1)"/>
<ellipse cx="456.4" cy="310.9" rx="1.7" ry="1.7" fill="#eca592" opacity="0.43" filter="url(#b1)"/>
<ellipse cx="415.8" cy="287.2" rx="2.1" ry="2.2" fill="#eca592" opacity="0.29" filter="url(#b1)"/>
<ellipse cx="501.4" cy="229.0" rx="2.0" ry="1.9" fill="#eca592" opacity="0.44" filter="url(#b1)"/>
<ellipse cx="413.8" cy="304.3" rx="2.0" ry="2.0" fill="#eca592" opacity="0.27" filter="url(#b1)"/>
<ellipse cx="409.3" cy="275.7" rx="2.1" ry="2.0" fill="#eca592" opacity="0.35" filter="url(#b1)"/>
<ellipse cx="440.8" cy="308.7" rx="2.1" ry="1.7" fill="#eca592" opacity="0.3" filter="url(#b1)"/>
<ellipse cx="460.1" cy="286.2" rx="2.0" ry="1.6" fill="#eca592" opacity="0.4" filter="url(#b1)"/>
<ellipse cx="456.0" cy="263.5" rx="1.5" ry="1.8" fill="#eca592" opacity="0.44" filter="url(#b1)"/>
<ellipse cx="434.2" cy="248.6" rx="1.5" ry="1.7" fill="#eca592" opacity="0.41" filter="url(#b1)"/>
<ellipse cx="452.1" cy="256.2" rx="2.8" ry="2.8" fill="#d9262b" opacity="1" filter="url(#b1)"/>
<ellipse cx="442.6" cy="260.9" rx="2.8" ry="2.8" fill="#d9262b" opacity="0.95" filter="url(#b1)"/>
<ellipse cx="440.0" cy="258.2" rx="2.4" ry="2.4" fill="#e34c3e" opacity="0.8" filter="url(#b1)"/>
<ellipse cx="447.1" cy="257.2" rx="2.4" ry="2.4" fill="#e2705a" opacity="0.8" filter="url(#b1)"/>
<ellipse cx="444.0" cy="269.4" rx="2.5" ry="2.5" fill="#e34c3e" opacity="0.95" filter="url(#b1)"/>
<ellipse cx="474.4" cy="252.8" rx="2.4" ry="2.4" fill="#e2705a" opacity="0.8" filter="url(#b1)"/>
<ellipse cx="465.3" cy="263.3" rx="2.3" ry="2.3" fill="#e2705a" opacity="0.7" filter="url(#b1)"/>
<ellipse cx="467.3" cy="267.8" rx="2.3" ry="2.3" fill="#e2705a" opacity="0.7" filter="url(#b1)"/>
<ellipse cx="481.5" cy="268.8" rx="2.3" ry="2.3" fill="#e2705a" opacity="0.8" filter="url(#b1)"/>
<ellipse cx="474.4" cy="275.5" rx="2.3" ry="2.3" fill="#e2705a" opacity="0.8" filter="url(#b1)"/>
<ellipse cx="489.6" cy="277.9" rx="2.3" ry="2.3" fill="#e2705a" opacity="0.8" filter="url(#b1)"/>
<ellipse cx="483.1" cy="285.2" rx="2.8" ry="2.8" fill="#e34c3e" opacity="0.95" filter="url(#b1)"/>
<ellipse cx="481.6" cy="287.8" rx="2.2" ry="2.2" fill="#e2705a" opacity="0.8" filter="url(#b1)"/>
<ellipse cx="434.5" cy="285.6" rx="2.6" ry="2.6" fill="#e34c3e" opacity="0.95" filter="url(#b1)"/>
<ellipse cx="436.6" cy="279.5" rx="2.3" ry="2.3" fill="#e2705a" opacity="0.8" filter="url(#b1)"/>
<ellipse cx="430.9" cy="277.5" rx="2.2" ry="2.2" fill="#e2705a" opacity="0.6" filter="url(#b1)"/>
<ellipse cx="458.2" cy="301.8" rx="2.4" ry="2.4" fill="#e34c3e" opacity="0.9" filter="url(#b1)"/>
<ellipse cx="464.3" cy="289.6" rx="2.2" ry="2.2" fill="#e2705a" opacity="0.7" filter="url(#b1)"/>
<ellipse cx="469.4" cy="297.3" rx="2.2" ry="2.2" fill="#e2705a" opacity="0.7" filter="url(#b1)"/>
<ellipse cx="453.6" cy="234.0" rx="2.4" ry="2.4" fill="#e2705a" opacity="0.8" filter="url(#b1)"/>
<ellipse cx="438.0" cy="246.1" rx="2.2" ry="2.2" fill="#eca592" opacity="0.7" filter="url(#b1)"/>
<ellipse cx="505.8" cy="247.1" rx="2.2" ry="2.2" fill="#e2705a" opacity="0.6" filter="url(#b1)"/>
<ellipse cx="501.7" cy="310.9" rx="2.6" ry="2.6" fill="#e34c3e" opacity="0.9" filter="url(#b1)"/>
<ellipse cx="504.6" cy="312.8" rx="2.2" ry="2.2" fill="#e2705a" opacity="0.6" filter="url(#b1)"/>
<ellipse cx="495.6" cy="315.5" rx="2.3" ry="2.3" fill="#e2705a" opacity="0.7" filter="url(#b1)"/>
<ellipse cx="473.4" cy="306.8" rx="2.2" ry="2.2" fill="#e2705a" opacity="0.7" filter="url(#b1)"/>
<ellipse cx="424.8" cy="320.0" rx="2.4" ry="2.4" fill="#e2705a" opacity="0.8" filter="url(#b1)"/>
<ellipse cx="421.6" cy="316.8" rx="2.0" ry="2.0" fill="#e2705a" opacity="0.5" filter="url(#b1)"/>
<ellipse cx="465.7" cy="323.0" rx="2.3" ry="2.3" fill="#e2705a" opacity="0.8" filter="url(#b1)"/>
<ellipse cx="459.6" cy="316.8" rx="2.0" ry="2.0" fill="#e2705a" opacity="0.6" filter="url(#b1)"/>
<ellipse cx="515.6" cy="253.8" rx="2.0" ry="2.0" fill="#e2705a" opacity="0.6" filter="url(#b1)"/>
<ellipse cx="514.6" cy="262.8" rx="2.0" ry="2.0" fill="#e2705a" opacity="0.5" filter="url(#b1)"/>
<ellipse cx="522.6" cy="260.8" rx="2.0" ry="2.0" fill="#e2705a" opacity="0.6" filter="url(#b1)"/>
<ellipse cx="412.6" cy="309.8" rx="2.0" ry="2.0" fill="#e2705a" opacity="0.5" filter="url(#b1)"/>
<ellipse cx="448.6" cy="258.8" rx="2.4" ry="2.4" fill="#e2705a" opacity="0.7" filter="url(#b1)"/>
<ellipse cx="454.6" cy="262.8" rx="2.2" ry="2.2" fill="#e2705a" opacity="0.5" filter="url(#b1)"/>
<ellipse cx="440.6" cy="253.8" rx="2.2" ry="2.2" fill="#e2705a" opacity="0.6" filter="url(#b1)"/>
</g>
<path d="M418.30,266.30 C418.57,263.95 418.70,261.48 420.80,259.30 C422.90,257.12 426.85,254.90 430.90,253.20 C434.95,251.50 440.03,250.02 445.10,249.10 C450.17,248.18 456.25,247.87 461.30,247.70 C466.35,247.53 470.68,247.52 475.40,248.10 C480.12,248.68 485.38,249.52 489.60,251.20 C493.82,252.88 498.07,255.85 500.70,258.20 C503.33,260.55 505.23,262.08 505.40,265.30 C505.57,268.52 503.67,273.78 501.70,277.50 C499.73,281.22 496.97,284.40 493.60,287.60 C490.23,290.80 485.88,294.50 481.50,296.70 C477.12,298.90 471.68,300.12 467.30,300.80 C462.92,301.48 459.58,301.48 455.20,300.80 C450.82,300.12 445.05,298.40 441.00,296.70 C436.95,295.00 433.93,293.13 430.90,290.60 C427.87,288.07 424.75,284.37 422.80,281.50 C420.85,278.63 419.95,275.93 419.20,273.40 C418.45,270.87 418.03,268.65 418.30,266.30Z" fill="none" stroke="#333" stroke-width="1.05" stroke-dasharray="3.4 2.1"/>
<clipPath id="cb4"><rect x="543.8" y="220.8" width="119.6" height="119.6"/></clipPath>
<g clip-path="url(#cb4)">
<rect x="543.8" y="220.8" width="119.6" height="119.6" fill="#ccc" filter="url(#nB)"/>
<ellipse cx="599.8" cy="310.8" rx="10.0" ry="30.0" fill="#eca592" opacity="0.3" filter="url(#b3)"/>
<ellipse cx="653.8" cy="280.8" rx="9.0" ry="55.0" fill="#eca592" opacity="0.25" filter="url(#b3)"/>
<ellipse cx="658.3" cy="235.8" rx="1.6" ry="1.8" fill="#eca592" opacity="0.23" filter="url(#b1)"/>
<ellipse cx="568.7" cy="297.2" rx="2.4" ry="2.4" fill="#e2705a" opacity="0.35" filter="url(#b1)"/>
<ellipse cx="650.6" cy="268.7" rx="1.7" ry="2.1" fill="#e2705a" opacity="0.27" filter="url(#b1)"/>
<ellipse cx="592.3" cy="328.1" rx="2.1" ry="1.8" fill="#e2705a" opacity="0.42" filter="url(#b1)"/>
<ellipse cx="640.7" cy="266.8" rx="1.4" ry="1.7" fill="#e2705a" opacity="0.23" filter="url(#b1)"/>
<ellipse cx="554.0" cy="328.3" rx="1.6" ry="1.8" fill="#eca592" opacity="0.37" filter="url(#b1)"/>
<ellipse cx="656.4" cy="279.0" rx="2.0" ry="1.7" fill="#eca592" opacity="0.24" filter="url(#b1)"/>
<ellipse cx="613.3" cy="273.8" rx="2.0" ry="2.0" fill="#e2705a" opacity="0.46" filter="url(#b1)"/>
<ellipse cx="615.4" cy="284.1" rx="2.2" ry="1.7" fill="#e2705a" opacity="0.41" filter="url(#b1)"/>
<ellipse cx="603.7" cy="244.3" rx="2.1" ry="2.3" fill="#eca592" opacity="0.31" filter="url(#b1)"/>
<ellipse cx="640.0" cy="322.7" rx="2.7" ry="2.1" fill="#eca592" opacity="0.3" filter="url(#b1)"/>
<ellipse cx="570.0" cy="224.8" rx="2.2" ry="1.8" fill="#e2705a" opacity="0.31" filter="url(#b1)"/>
<ellipse cx="564.7" cy="268.0" rx="2.8" ry="2.3" fill="#eca592" opacity="0.48" filter="url(#b1)"/>
<ellipse cx="659.6" cy="239.9" rx="1.9" ry="1.6" fill="#eca592" opacity="0.2" filter="url(#b1)"/>
<ellipse cx="564.0" cy="272.6" rx="2.0" ry="1.9" fill="#eca592" opacity="0.24" filter="url(#b1)"/>
<ellipse cx="553.3" cy="229.1" rx="2.2" ry="1.9" fill="#eca592" opacity="0.21" filter="url(#b1)"/>
<ellipse cx="606.5" cy="239.1" rx="2.9" ry="2.2" fill="#e2705a" opacity="0.41" filter="url(#b1)"/>
<ellipse cx="545.8" cy="237.5" rx="1.4" ry="1.7" fill="#e2705a" opacity="0.4" filter="url(#b1)"/>
<ellipse cx="582.5" cy="264.4" rx="2.3" ry="1.8" fill="#e2705a" opacity="0.26" filter="url(#b1)"/>
<ellipse cx="658.7" cy="311.2" rx="2.1" ry="1.6" fill="#eca592" opacity="0.25" filter="url(#b1)"/>
<ellipse cx="553.7" cy="292.8" rx="2.3" ry="2.0" fill="#e2705a" opacity="0.44" filter="url(#b1)"/>
<ellipse cx="556.7" cy="306.6" rx="2.0" ry="1.9" fill="#eca592" opacity="0.42" filter="url(#b1)"/>
<ellipse cx="654.3" cy="287.9" rx="1.4" ry="1.7" fill="#e2705a" opacity="0.34" filter="url(#b1)"/>
<ellipse cx="557.1" cy="245.9" rx="1.8" ry="1.6" fill="#eca592" opacity="0.41" filter="url(#b1)"/>
<ellipse cx="587.1" cy="272.3" rx="1.9" ry="1.6" fill="#eca592" opacity="0.49" filter="url(#b1)"/>
<ellipse cx="641.3" cy="288.5" rx="2.1" ry="2.1" fill="#eca592" opacity="0.3" filter="url(#b1)"/>
<ellipse cx="567.1" cy="255.3" rx="2.4" ry="2.0" fill="#e2705a" opacity="0.47" filter="url(#b1)"/>
<ellipse cx="660.6" cy="247.4" rx="2.4" ry="2.3" fill="#e2705a" opacity="0.22" filter="url(#b1)"/>
<ellipse cx="639.8" cy="309.0" rx="2.4" ry="2.2" fill="#e2705a" opacity="0.35" filter="url(#b1)"/>
<ellipse cx="637.0" cy="256.0" rx="2.3" ry="2.4" fill="#eca592" opacity="0.26" filter="url(#b1)"/>
<ellipse cx="592.2" cy="231.9" rx="2.2" ry="2.2" fill="#eca592" opacity="0.44" filter="url(#b1)"/>
<ellipse cx="589.2" cy="272.6" rx="2.0" ry="2.3" fill="#eca592" opacity="0.59" filter="url(#b1)"/>
<ellipse cx="636.1" cy="246.4" rx="2.2" ry="2.6" fill="#eca592" opacity="0.4" filter="url(#b1)"/>
<ellipse cx="634.0" cy="254.9" rx="2.7" ry="2.2" fill="#e2705a" opacity="0.62" filter="url(#b1)"/>
<ellipse cx="579.4" cy="236.2" rx="3.0" ry="2.5" fill="#e2705a" opacity="0.66" filter="url(#b1)"/>
<ellipse cx="593.9" cy="242.2" rx="3.1" ry="2.5" fill="#eca592" opacity="0.38" filter="url(#b1)"/>
<ellipse cx="568.0" cy="244.1" rx="2.3" ry="2.5" fill="#e2705a" opacity="0.36" filter="url(#b1)"/>
<ellipse cx="628.5" cy="274.0" rx="2.6" ry="2.4" fill="#eca592" opacity="0.35" filter="url(#b1)"/>
<ellipse cx="579.2" cy="225.2" rx="3.2" ry="2.5" fill="#eca592" opacity="0.35" filter="url(#b1)"/>
<ellipse cx="607.3" cy="252.2" rx="2.2" ry="2.2" fill="#eca592" opacity="0.47" filter="url(#b1)"/>
<ellipse cx="570.9" cy="254.4" rx="2.7" ry="2.3" fill="#eca592" opacity="0.68" filter="url(#b1)"/>
<ellipse cx="584.3" cy="259.6" rx="2.1" ry="1.8" fill="#eca592" opacity="0.6" filter="url(#b1)"/>
<ellipse cx="566.4" cy="269.1" rx="2.1" ry="2.3" fill="#e2705a" opacity="0.68" filter="url(#b1)"/>
<ellipse cx="567.1" cy="243.5" rx="2.0" ry="2.3" fill="#eca592" opacity="0.65" filter="url(#b1)"/>
<ellipse cx="591.6" cy="235.5" rx="2.7" ry="2.5" fill="#eca592" opacity="0.69" filter="url(#b1)"/>
<ellipse cx="624.6" cy="241.6" rx="1.7" ry="1.8" fill="#e2705a" opacity="0.34" filter="url(#b1)"/>
<ellipse cx="625.7" cy="240.5" rx="2.4" ry="2.0" fill="#e2705a" opacity="0.34" filter="url(#b1)"/>
<ellipse cx="623.1" cy="266.0" rx="2.2" ry="1.8" fill="#e2705a" opacity="0.44" filter="url(#b1)"/>
<ellipse cx="568.8" cy="257.8" rx="2.3" ry="2.3" fill="#eca592" opacity="0.69" filter="url(#b1)"/>
<ellipse cx="629.2" cy="243.6" rx="2.6" ry="2.1" fill="#e2705a" opacity="0.37" filter="url(#b1)"/>
<ellipse cx="567.6" cy="274.5" rx="1.8" ry="2.0" fill="#eca592" opacity="0.41" filter="url(#b1)"/>
<ellipse cx="575.1" cy="227.3" rx="1.9" ry="1.9" fill="#e2705a" opacity="0.38" filter="url(#b1)"/>
<ellipse cx="637.2" cy="242.9" rx="2.1" ry="2.3" fill="#eca592" opacity="0.49" filter="url(#b1)"/>
<ellipse cx="620.6" cy="239.9" rx="2.6" ry="2.6" fill="#eca592" opacity="0.33" filter="url(#b1)"/>
<ellipse cx="621.9" cy="244.3" rx="2.2" ry="2.4" fill="#eca592" opacity="0.57" filter="url(#b1)"/>
<ellipse cx="610.0" cy="242.6" rx="2.0" ry="2.3" fill="#eca592" opacity="0.41" filter="url(#b1)"/>
<ellipse cx="626.1" cy="233.1" rx="2.2" ry="2.4" fill="#eca592" opacity="0.64" filter="url(#b1)"/>
<ellipse cx="608.8" cy="252.6" rx="2.3" ry="2.2" fill="#eca592" opacity="0.37" filter="url(#b1)"/>
<ellipse cx="604.5" cy="272.8" rx="2.8" ry="2.6" fill="#eca592" opacity="0.53" filter="url(#b1)"/>
<ellipse cx="587.3" cy="251.7" rx="2.3" ry="2.1" fill="#eca592" opacity="0.65" filter="url(#b1)"/>
<ellipse cx="605.7" cy="237.8" rx="1.9" ry="2.1" fill="#e2705a" opacity="0.52" filter="url(#b1)"/>
<ellipse cx="603.4" cy="228.7" rx="2.6" ry="2.6" fill="#eca592" opacity="0.79" filter="url(#b1)"/>
<ellipse cx="582.0" cy="243.4" rx="2.5" ry="2.7" fill="#e34c3e" opacity="0.56" filter="url(#b1)"/>
<ellipse cx="601.9" cy="224.7" rx="2.5" ry="2.6" fill="#eca592" opacity="0.7" filter="url(#b1)"/>
<ellipse cx="571.6" cy="236.3" rx="1.8" ry="2.0" fill="#e2705a" opacity="0.44" filter="url(#b1)"/>
<ellipse cx="589.6" cy="246.6" rx="2.4" ry="2.8" fill="#e34c3e" opacity="0.8" filter="url(#b1)"/>
<ellipse cx="615.7" cy="235.8" rx="2.2" ry="2.5" fill="#eca592" opacity="0.69" filter="url(#b1)"/>
<ellipse cx="615.0" cy="234.2" rx="2.3" ry="2.1" fill="#e2705a" opacity="0.52" filter="url(#b1)"/>
<ellipse cx="583.0" cy="227.4" rx="2.0" ry="2.4" fill="#e2705a" opacity="0.77" filter="url(#b1)"/>
<ellipse cx="569.3" cy="240.0" rx="2.4" ry="2.2" fill="#e2705a" opacity="0.71" filter="url(#b1)"/>
<ellipse cx="620.4" cy="225.2" rx="2.4" ry="2.3" fill="#e34c3e" opacity="0.6" filter="url(#b1)"/>
<ellipse cx="600.0" cy="223.3" rx="2.4" ry="2.3" fill="#e34c3e" opacity="0.58" filter="url(#b1)"/>
<ellipse cx="594.2" cy="235.6" rx="2.7" ry="2.5" fill="#e34c3e" opacity="0.72" filter="url(#b1)"/>
<ellipse cx="605.9" cy="245.3" rx="2.3" ry="2.0" fill="#e34c3e" opacity="0.41" filter="url(#b1)"/>
<ellipse cx="593.2" cy="230.0" rx="2.6" ry="2.3" fill="#eca592" opacity="0.48" filter="url(#b1)"/>
<ellipse cx="581.6" cy="230.9" rx="1.9" ry="2.4" fill="#e2705a" opacity="0.49" filter="url(#b1)"/>
<ellipse cx="595.2" cy="234.4" rx="1.7" ry="2.0" fill="#e34c3e" opacity="0.85" filter="url(#b1)"/>
<ellipse cx="609.6" cy="220.8" rx="2.6" ry="2.8" fill="#e34c3e" opacity="0.79" filter="url(#b1)"/>
<ellipse cx="600.4" cy="244.6" rx="2.7" ry="2.2" fill="#e34c3e" opacity="0.72" filter="url(#b1)"/>
<ellipse cx="617.6" cy="240.1" rx="2.5" ry="2.0" fill="#e2705a" opacity="0.63" filter="url(#b1)"/>
<ellipse cx="588.5" cy="245.8" rx="2.9" ry="2.3" fill="#eca592" opacity="0.65" filter="url(#b1)"/>
<ellipse cx="619.2" cy="221.6" rx="2.5" ry="2.4" fill="#eca592" opacity="0.82" filter="url(#b1)"/>
<ellipse cx="588.1" cy="324.2" rx="2.5" ry="2.8" fill="#e2705a" opacity="0.77" filter="url(#b1)"/>
<ellipse cx="605.5" cy="289.5" rx="2.0" ry="2.0" fill="#e34c3e" opacity="0.5" filter="url(#b1)"/>
<ellipse cx="594.0" cy="296.3" rx="2.3" ry="2.6" fill="#e2705a" opacity="0.77" filter="url(#b1)"/>
<ellipse cx="594.7" cy="298.8" rx="2.3" ry="2.3" fill="#e34c3e" opacity="0.49" filter="url(#b1)"/>
<ellipse cx="589.5" cy="314.1" rx="2.2" ry="2.3" fill="#e34c3e" opacity="0.58" filter="url(#b1)"/>
<ellipse cx="597.7" cy="326.6" rx="3.3" ry="2.6" fill="#e2705a" opacity="0.6" filter="url(#b1)"/>
<ellipse cx="590.9" cy="291.0" rx="2.1" ry="2.0" fill="#e2705a" opacity="0.51" filter="url(#b1)"/>
<ellipse cx="590.0" cy="287.7" rx="3.2" ry="2.7" fill="#e2705a" opacity="0.43" filter="url(#b1)"/>
<ellipse cx="594.3" cy="335.2" rx="3.5" ry="2.7" fill="#e2705a" opacity="0.47" filter="url(#b1)"/>
<ellipse cx="593.0" cy="299.2" rx="2.4" ry="2.3" fill="#e34c3e" opacity="0.55" filter="url(#b1)"/>
<ellipse cx="605.0" cy="325.5" rx="2.3" ry="2.7" fill="#e34c3e" opacity="0.59" filter="url(#b1)"/>
<ellipse cx="596.1" cy="330.4" rx="2.0" ry="2.4" fill="#e2705a" opacity="0.51" filter="url(#b1)"/>
<ellipse cx="608.6" cy="290.1" rx="3.4" ry="2.7" fill="#e34c3e" opacity="0.63" filter="url(#b1)"/>
<ellipse cx="598.8" cy="308.8" rx="2.5" ry="2.4" fill="#e2705a" opacity="0.63" filter="url(#b1)"/>
<ellipse cx="600.9" cy="321.7" rx="2.9" ry="2.6" fill="#e34c3e" opacity="0.67" filter="url(#b1)"/>
<ellipse cx="604.4" cy="330.1" rx="2.3" ry="2.0" fill="#e34c3e" opacity="0.54" filter="url(#b1)"/>
<ellipse cx="596.9" cy="314.1" rx="2.4" ry="2.3" fill="#eca592" opacity="0.49" filter="url(#b1)"/>
<ellipse cx="604.2" cy="280.9" rx="1.9" ry="2.0" fill="#e2705a" opacity="0.43" filter="url(#b1)"/>
<ellipse cx="607.7" cy="281.5" rx="2.5" ry="2.6" fill="#eca592" opacity="0.54" filter="url(#b1)"/>
<ellipse cx="601.6" cy="306.7" rx="1.8" ry="2.0" fill="#e2705a" opacity="0.56" filter="url(#b1)"/>
<ellipse cx="607.5" cy="337.9" rx="1.9" ry="2.4" fill="#e2705a" opacity="0.32" filter="url(#b1)"/>
<ellipse cx="606.7" cy="297.3" rx="1.8" ry="1.9" fill="#e2705a" opacity="0.61" filter="url(#b1)"/>
<ellipse cx="597.4" cy="307.5" rx="2.0" ry="2.3" fill="#e2705a" opacity="0.64" filter="url(#b1)"/>
<ellipse cx="596.6" cy="281.1" rx="2.2" ry="2.0" fill="#e2705a" opacity="0.42" filter="url(#b1)"/>
<ellipse cx="606.4" cy="283.7" rx="1.8" ry="1.9" fill="#e2705a" opacity="0.53" filter="url(#b1)"/>
<ellipse cx="590.9" cy="326.1" rx="2.9" ry="2.3" fill="#eca592" opacity="0.48" filter="url(#b1)"/>
<ellipse cx="595.4" cy="338.0" rx="1.8" ry="2.0" fill="#e2705a" opacity="0.4" filter="url(#b1)"/>
<ellipse cx="592.2" cy="286.1" rx="2.6" ry="2.3" fill="#e2705a" opacity="0.42" filter="url(#b1)"/>
<ellipse cx="592.1" cy="289.5" rx="2.3" ry="2.6" fill="#e2705a" opacity="0.43" filter="url(#b1)"/>
<ellipse cx="589.6" cy="333.5" rx="2.3" ry="2.2" fill="#eca592" opacity="0.33" filter="url(#b1)"/>
<ellipse cx="596.2" cy="331.8" rx="2.9" ry="2.3" fill="#eca592" opacity="0.59" filter="url(#b1)"/>
<ellipse cx="598.0" cy="309.3" rx="2.1" ry="2.0" fill="#eca592" opacity="0.5" filter="url(#b1)"/>
<ellipse cx="596.8" cy="314.5" rx="1.9" ry="2.1" fill="#e2705a" opacity="0.5" filter="url(#b1)"/>
<ellipse cx="607.2" cy="304.1" rx="2.2" ry="2.2" fill="#eca592" opacity="0.65" filter="url(#b1)"/>
<ellipse cx="595.4" cy="288.1" rx="2.2" ry="1.9" fill="#e2705a" opacity="0.63" filter="url(#b1)"/>
<ellipse cx="605.2" cy="326.1" rx="1.8" ry="1.9" fill="#e2705a" opacity="0.44" filter="url(#b1)"/>
<ellipse cx="597.5" cy="298.8" rx="2.3" ry="2.4" fill="#eca592" opacity="0.6" filter="url(#b1)"/>
<ellipse cx="592.5" cy="334.0" rx="1.6" ry="1.8" fill="#e2705a" opacity="0.31" filter="url(#b1)"/>
<ellipse cx="605.0" cy="293.8" rx="1.7" ry="2.0" fill="#e2705a" opacity="0.66" filter="url(#b1)"/>
<ellipse cx="603.4" cy="337.5" rx="2.6" ry="2.5" fill="#e2705a" opacity="0.37" filter="url(#b1)"/>
<ellipse cx="596.4" cy="326.8" rx="2.3" ry="2.1" fill="#e2705a" opacity="0.37" filter="url(#b1)"/>
<ellipse cx="607.5" cy="320.5" rx="2.2" ry="2.1" fill="#e2705a" opacity="0.66" filter="url(#b1)"/>
<ellipse cx="654.4" cy="330.8" rx="2.4" ry="2.0" fill="#e2705a" opacity="0.46" filter="url(#b1)"/>
<ellipse cx="659.1" cy="277.4" rx="1.7" ry="1.8" fill="#eca592" opacity="0.33" filter="url(#b1)"/>
<ellipse cx="659.2" cy="303.3" rx="1.7" ry="1.7" fill="#eca592" opacity="0.51" filter="url(#b1)"/>
<ellipse cx="657.8" cy="298.2" rx="1.6" ry="2.0" fill="#eca592" opacity="0.59" filter="url(#b1)"/>
<ellipse cx="660.5" cy="292.2" rx="1.8" ry="1.6" fill="#e2705a" opacity="0.41" filter="url(#b1)"/>
<ellipse cx="648.2" cy="255.8" rx="1.8" ry="1.8" fill="#eca592" opacity="0.53" filter="url(#b1)"/>
<ellipse cx="662.8" cy="339.3" rx="1.7" ry="1.8" fill="#eca592" opacity="0.55" filter="url(#b1)"/>
<ellipse cx="649.3" cy="229.2" rx="2.2" ry="1.8" fill="#eca592" opacity="0.44" filter="url(#b1)"/>
<ellipse cx="662.0" cy="321.6" rx="2.4" ry="1.9" fill="#eca592" opacity="0.37" filter="url(#b1)"/>
<ellipse cx="650.9" cy="305.2" rx="1.8" ry="1.6" fill="#e2705a" opacity="0.33" filter="url(#b1)"/>
<ellipse cx="648.9" cy="231.2" rx="2.2" ry="2.2" fill="#e2705a" opacity="0.31" filter="url(#b1)"/>
<ellipse cx="646.4" cy="304.9" rx="2.8" ry="2.3" fill="#eca592" opacity="0.32" filter="url(#b1)"/>
<ellipse cx="654.4" cy="274.0" rx="2.1" ry="1.7" fill="#eca592" opacity="0.64" filter="url(#b1)"/>
<ellipse cx="651.1" cy="267.8" rx="2.4" ry="1.9" fill="#eca592" opacity="0.3" filter="url(#b1)"/>
<ellipse cx="655.1" cy="339.6" rx="2.4" ry="2.4" fill="#eca592" opacity="0.37" filter="url(#b1)"/>
<ellipse cx="656.0" cy="232.7" rx="2.1" ry="2.3" fill="#eca592" opacity="0.37" filter="url(#b1)"/>
<ellipse cx="650.1" cy="256.1" rx="2.0" ry="2.2" fill="#eca592" opacity="0.33" filter="url(#b1)"/>
<ellipse cx="644.1" cy="264.7" rx="2.3" ry="2.1" fill="#e2705a" opacity="0.34" filter="url(#b1)"/>
<ellipse cx="646.4" cy="266.7" rx="2.1" ry="2.3" fill="#eca592" opacity="0.41" filter="url(#b1)"/>
<ellipse cx="657.6" cy="239.7" rx="2.1" ry="2.1" fill="#eca592" opacity="0.54" filter="url(#b1)"/>
<ellipse cx="645.3" cy="226.4" rx="2.5" ry="2.0" fill="#eca592" opacity="0.31" filter="url(#b1)"/>
<ellipse cx="657.2" cy="251.4" rx="1.6" ry="1.8" fill="#e2705a" opacity="0.4" filter="url(#b1)"/>
<ellipse cx="580.2" cy="226.9" rx="2.5" ry="2.3" fill="#e2705a" opacity="0.85" filter="url(#b1)"/>
<ellipse cx="593.4" cy="235.4" rx="2.5" ry="2.3" fill="#e2705a" opacity="0.85" filter="url(#b1)"/>
<ellipse cx="604.5" cy="236.0" rx="2.5" ry="2.3" fill="#e2705a" opacity="0.85" filter="url(#b1)"/>
<ellipse cx="606.6" cy="242.7" rx="2.5" ry="2.3" fill="#e2705a" opacity="0.85" filter="url(#b1)"/>
<ellipse cx="573.2" cy="248.1" rx="2.5" ry="2.3" fill="#e2705a" opacity="0.85" filter="url(#b1)"/>
<ellipse cx="617.7" cy="244.7" rx="2.5" ry="2.3" fill="#e2705a" opacity="0.85" filter="url(#b1)"/>
<ellipse cx="621.7" cy="244.1" rx="2.5" ry="2.3" fill="#e2705a" opacity="0.85" filter="url(#b1)"/>
<ellipse cx="617.7" cy="249.1" rx="2.5" ry="2.3" fill="#e2705a" opacity="0.85" filter="url(#b1)"/>
<ellipse cx="626.8" cy="252.2" rx="2.5" ry="2.3" fill="#e2705a" opacity="0.85" filter="url(#b1)"/>
<ellipse cx="621.7" cy="256.2" rx="2.5" ry="2.3" fill="#e2705a" opacity="0.85" filter="url(#b1)"/>
<ellipse cx="613.6" cy="254.2" rx="2.5" ry="2.3" fill="#e2705a" opacity="0.85" filter="url(#b1)"/>
<ellipse cx="592.4" cy="259.3" rx="2.5" ry="2.3" fill="#e2705a" opacity="0.85" filter="url(#b1)"/>
<ellipse cx="600.5" cy="260.3" rx="2.5" ry="2.3" fill="#e2705a" opacity="0.85" filter="url(#b1)"/>
<ellipse cx="604.5" cy="259.3" rx="2.5" ry="2.3" fill="#e2705a" opacity="0.85" filter="url(#b1)"/>
<ellipse cx="611.6" cy="261.3" rx="2.5" ry="2.3" fill="#e2705a" opacity="0.85" filter="url(#b1)"/>
<ellipse cx="610.6" cy="268.4" rx="2.5" ry="2.3" fill="#e2705a" opacity="0.85" filter="url(#b1)"/>
<ellipse cx="609.6" cy="274.4" rx="2.5" ry="2.3" fill="#e2705a" opacity="0.85" filter="url(#b1)"/>
<ellipse cx="594.4" cy="272.4" rx="2.5" ry="2.3" fill="#e2705a" opacity="0.85" filter="url(#b1)"/>
<ellipse cx="588.3" cy="263.3" rx="2.5" ry="2.3" fill="#e2705a" opacity="0.85" filter="url(#b1)"/>
<ellipse cx="617.7" cy="264.3" rx="2.5" ry="2.3" fill="#e2705a" opacity="0.85" filter="url(#b1)"/>
<ellipse cx="635.9" cy="257.2" rx="2.5" ry="2.3" fill="#e2705a" opacity="0.85" filter="url(#b1)"/>
<ellipse cx="638.9" cy="262.3" rx="2.5" ry="2.3" fill="#e2705a" opacity="0.85" filter="url(#b1)"/>
<ellipse cx="595.4" cy="293.7" rx="2.5" ry="2.3" fill="#e2705a" opacity="0.85" filter="url(#b1)"/>
<ellipse cx="596.4" cy="298.7" rx="2.5" ry="2.3" fill="#e2705a" opacity="0.85" filter="url(#b1)"/>
<ellipse cx="603.5" cy="308.9" rx="2.5" ry="2.3" fill="#e2705a" opacity="0.85" filter="url(#b1)"/>
<ellipse cx="602.5" cy="320.0" rx="2.5" ry="2.3" fill="#e2705a" opacity="0.85" filter="url(#b1)"/>
<ellipse cx="603.5" cy="326.1" rx="2.5" ry="2.3" fill="#e2705a" opacity="0.85" filter="url(#b1)"/>
<ellipse cx="597.4" cy="324.0" rx="2.5" ry="2.3" fill="#e2705a" opacity="0.85" filter="url(#b1)"/>
<ellipse cx="594.4" cy="335.2" rx="2.5" ry="2.3" fill="#e2705a" opacity="0.85" filter="url(#b1)"/>
<ellipse cx="603.5" cy="331.1" rx="2.5" ry="2.3" fill="#e2705a" opacity="0.85" filter="url(#b1)"/>
<ellipse cx="594.4" cy="315.9" rx="2.5" ry="2.3" fill="#e2705a" opacity="0.85" filter="url(#b1)"/>
<ellipse cx="553.9" cy="278.5" rx="2.3" ry="2.1" fill="#e2705a" opacity="0.6" filter="url(#b1)"/>
<ellipse cx="549.9" cy="281.5" rx="2.3" ry="2.1" fill="#e2705a" opacity="0.6" filter="url(#b1)"/>
<ellipse cx="558.0" cy="264.3" rx="2.3" ry="2.1" fill="#e2705a" opacity="0.6" filter="url(#b1)"/>
<ellipse cx="562.0" cy="286.6" rx="2.3" ry="2.1" fill="#e2705a" opacity="0.6" filter="url(#b1)"/>
<ellipse cx="574.2" cy="309.9" rx="2.3" ry="2.1" fill="#e2705a" opacity="0.6" filter="url(#b1)"/>
<ellipse cx="562.0" cy="325.1" rx="2.3" ry="2.1" fill="#e2705a" opacity="0.6" filter="url(#b1)"/>
<ellipse cx="560.0" cy="331.1" rx="2.3" ry="2.1" fill="#e2705a" opacity="0.6" filter="url(#b1)"/>
<ellipse cx="570.1" cy="337.2" rx="2.3" ry="2.1" fill="#e2705a" opacity="0.6" filter="url(#b1)"/>
<ellipse cx="545.8" cy="231.9" rx="2.3" ry="2.1" fill="#e2705a" opacity="0.6" filter="url(#b1)"/>
<ellipse cx="656.1" cy="235.0" rx="2.3" ry="2.1" fill="#e2705a" opacity="0.6" filter="url(#b1)"/>
<ellipse cx="652.1" cy="248.1" rx="2.3" ry="2.1" fill="#e2705a" opacity="0.6" filter="url(#b1)"/>
<ellipse cx="654.1" cy="254.2" rx="2.3" ry="2.1" fill="#e2705a" opacity="0.6" filter="url(#b1)"/>
<ellipse cx="657.2" cy="261.3" rx="2.3" ry="2.1" fill="#e2705a" opacity="0.6" filter="url(#b1)"/>
<ellipse cx="660.2" cy="269.4" rx="2.3" ry="2.1" fill="#e2705a" opacity="0.6" filter="url(#b1)"/>
<ellipse cx="653.1" cy="281.5" rx="2.3" ry="2.1" fill="#e2705a" opacity="0.6" filter="url(#b1)"/>
<ellipse cx="657.2" cy="289.6" rx="2.3" ry="2.1" fill="#e2705a" opacity="0.6" filter="url(#b1)"/>
<ellipse cx="654.1" cy="299.7" rx="2.3" ry="2.1" fill="#e2705a" opacity="0.6" filter="url(#b1)"/>
<ellipse cx="649.1" cy="309.9" rx="2.3" ry="2.1" fill="#e2705a" opacity="0.6" filter="url(#b1)"/>
<ellipse cx="655.1" cy="315.9" rx="2.3" ry="2.1" fill="#e2705a" opacity="0.6" filter="url(#b1)"/>
<ellipse cx="659.2" cy="326.1" rx="2.3" ry="2.1" fill="#e2705a" opacity="0.6" filter="url(#b1)"/>
<ellipse cx="645.0" cy="279.5" rx="2.3" ry="2.1" fill="#e2705a" opacity="0.6" filter="url(#b1)"/>
<ellipse cx="641.0" cy="277.5" rx="2.3" ry="2.1" fill="#e2705a" opacity="0.6" filter="url(#b1)"/>
<ellipse cx="632.8" cy="315.9" rx="2.3" ry="2.1" fill="#e2705a" opacity="0.6" filter="url(#b1)"/>
<ellipse cx="633.9" cy="320.0" rx="2.3" ry="2.1" fill="#e2705a" opacity="0.6" filter="url(#b1)"/>
<ellipse cx="622.7" cy="309.9" rx="2.3" ry="2.1" fill="#e2705a" opacity="0.6" filter="url(#b1)"/>
<ellipse cx="620.7" cy="334.2" rx="2.3" ry="2.1" fill="#e2705a" opacity="0.6" filter="url(#b1)"/>
<ellipse cx="638.9" cy="330.1" rx="2.3" ry="2.1" fill="#e2705a" opacity="0.6" filter="url(#b1)"/>
<ellipse cx="587.3" cy="234.6" rx="2.5" ry="2.5" fill="#d9262b" opacity="1" filter="url(#b1)"/>
<ellipse cx="583.3" cy="241.0" rx="2.7" ry="2.7" fill="#d9262b" opacity="1" filter="url(#b1)"/>
<ellipse cx="602.5" cy="229.9" rx="2.8" ry="2.8" fill="#e34c3e" opacity="0.95" filter="url(#b1)"/>
<ellipse cx="604.5" cy="268.4" rx="2.5" ry="2.5" fill="#d9262b" opacity="1" filter="url(#b1)"/>
<ellipse cx="595.4" cy="307.8" rx="2.3" ry="2.3" fill="#d9262b" opacity="1" filter="url(#b1)"/>
<ellipse cx="612.6" cy="278.5" rx="2.4" ry="2.4" fill="#e34c3e" opacity="0.95" filter="url(#b1)"/>
<ellipse cx="603.5" cy="326.1" rx="2.4" ry="2.4" fill="#e34c3e" opacity="0.9" filter="url(#b1)"/>
<ellipse cx="602.8" cy="319.8" rx="2.3" ry="2.3" fill="#e34c3e" opacity="0.85" filter="url(#b1)"/>
</g>
<path d="M557.00,246.10 C557.00,243.07 557.82,241.20 560.00,239.00 C562.18,236.80 566.05,234.65 570.10,232.90 C574.15,231.15 578.90,229.50 584.30,228.50 C589.70,227.50 597.10,227.00 602.50,226.90 C607.90,226.80 611.98,227.07 616.70,227.90 C621.42,228.73 626.75,230.05 630.80,231.90 C634.85,233.75 638.87,236.63 641.00,239.00 C643.13,241.37 643.60,243.23 643.60,246.10 C643.60,248.97 642.80,252.65 641.00,256.20 C639.20,259.75 636.18,264.02 632.80,267.40 C629.42,270.78 624.73,274.32 620.70,276.50 C616.67,278.68 612.65,279.83 608.60,280.50 C604.55,281.17 600.78,281.00 596.40,280.50 C592.02,280.00 587.02,279.68 582.30,277.50 C577.58,275.32 571.82,270.78 568.10,267.40 C564.38,264.02 561.85,260.75 560.00,257.20 C558.15,253.65 557.00,249.13 557.00,246.10Z" fill="none" stroke="#333" stroke-width="1.05" stroke-dasharray="3.4 2.1"/>
<rect x="299.9" y="54.7" width="3.2" height="34.4" fill="url(#cbA)"/>
<text x="307.20" y="62.00" font-size="9.2" fill="#262626" text-anchor="start" >+0.25</text>
<text x="307.20" y="88.00" font-size="9.2" fill="#262626" text-anchor="start" >−0.25</text>
<rect x="666.8" y="55.2" width="3.2" height="34.3" fill="url(#cbB)"/>
<text x="673.30" y="64.00" font-size="9.2" fill="#262626" text-anchor="start" >0.5</text>
<text x="677.20" y="87.60" font-size="9.2" fill="#262626" text-anchor="start" >0</text>
<text x="38.00" y="353.00" font-size="11" fill="#262626" text-anchor="start" >20 µm</text>
<rect x="39.6" y="355.6" width="28.4" height="1.2" fill="#262626"/>
<path d="M32.30,557.58 L32.62,557.57 L32.95,557.58 L33.27,557.58 L33.60,557.57 L33.92,557.58 L34.25,557.58 L34.57,557.57 L34.89,557.57 L35.22,557.57 L35.54,557.57 L35.87,557.57 L36.19,557.57 L36.52,557.57 L36.84,557.57 L37.16,557.57 L37.49,557.56 L37.81,557.56 L38.14,557.56 L38.46,557.56 L38.78,557.56 L39.11,557.56 L39.43,557.56 L39.76,557.55 L40.08,557.55 L40.41,557.56 L40.73,557.55 L41.05,557.55 L41.38,557.56 L41.70,557.55 L42.03,557.56 L42.35,557.54 L42.68,557.55 L43.00,557.55 L43.32,557.54 L43.65,557.54 L43.97,557.55 L44.30,557.55 L44.62,557.55 L44.95,557.54 L45.27,557.53 L45.59,557.54 L45.92,557.54 L46.24,557.53 L46.57,557.54 L46.89,557.54 L47.22,557.53 L47.54,557.53 L47.86,557.54 L48.19,557.53 L48.51,557.53 L48.84,557.52 L49.16,557.52 L49.49,557.53 L49.81,557.52 L50.13,557.53 L50.46,557.52 L50.78,557.52 L51.11,557.51 L51.43,557.52 L51.75,557.52 L52.08,557.52 L52.40,557.52 L52.73,557.51 L53.05,557.51 L53.38,557.51 L53.70,557.51 L54.02,557.50 L54.35,557.50 L54.67,557.51 L55.00,557.50 L55.32,557.50 L55.65,557.50 L55.97,557.50 L56.29,557.49 L56.62,557.49 L56.94,557.50 L57.27,557.50 L57.59,557.49 L57.92,557.50 L58.24,557.49 L58.56,557.48 L58.89,557.48 L59.21,557.47 L59.54,557.46 L59.86,557.45 L60.19,557.46 L60.51,557.44 L60.83,557.44 L61.16,557.43 L61.48,557.42 L61.81,557.42 L62.13,557.42 L62.46,557.39 L62.78,557.39 L63.10,557.39 L63.43,557.38 L63.75,557.39 L64.08,557.38 L64.40,557.36 L64.72,557.34 L65.05,557.34 L65.37,557.34 L65.70,557.33 L66.02,557.32 L66.35,557.29 L66.67,557.29 L66.99,557.29 L67.32,557.28 L67.64,557.25 L67.97,557.23 L68.29,557.23 L68.62,557.24 L68.94,557.20 L69.26,557.19 L69.59,557.20 L69.91,557.17 L70.24,557.17 L70.56,557.14 L70.89,557.14 L71.21,557.09 L71.53,557.11 L71.86,557.04 L72.18,557.02 L72.51,557.01 L72.83,557.00 L73.16,556.94 L73.48,556.87 L73.80,556.89 L74.13,556.81 L74.45,556.77 L74.78,556.71 L75.10,556.68 L75.43,556.65 L75.75,556.64 L76.07,556.52 L76.40,556.51 L76.72,556.41 L77.05,556.36 L77.37,556.32 L77.69,556.19 L78.02,556.12 L78.34,556.16 L78.67,556.01 L78.99,555.97 L79.32,555.81 L79.64,555.69 L79.96,555.59 L80.29,555.43 L80.61,555.28 L80.94,555.20 L81.26,554.83 L81.59,554.74 L81.91,554.58 L82.23,554.19 L82.56,554.19 L82.88,553.77 L83.21,553.50 L83.53,553.06 L83.86,552.73 L84.18,552.58 L84.50,550.93 L84.83,547.58 L85.15,544.23 L85.48,540.88 L85.80,537.53 L86.13,534.18 L86.45,530.83 L86.77,527.48 L87.10,524.13 L87.42,520.78 L87.75,517.43 L88.07,514.08 L88.40,510.73 L88.72,507.38 L89.04,504.03 L89.37,500.68 L89.69,497.33 L90.02,493.98 L90.34,490.63 L90.66,487.28 L90.99,483.93 L91.31,480.58 L91.64,477.23 L91.96,473.88 L92.29,470.53 L92.61,467.18 L92.93,463.83 L93.26,455.83 L93.58,453.26 L93.91,453.78 L94.23,450.43 L94.56,447.08 L94.88,443.73 L95.20,441.19 L95.53,441.19 L95.85,441.19 L96.18,441.19 L96.50,441.19 L96.83,441.19 L97.15,441.72 L97.47,445.07 L97.80,448.42 L98.12,451.77 L98.45,455.12 L98.77,458.47 L99.10,461.82 L99.42,465.17 L99.74,468.52 L100.07,471.87 L100.39,475.22 L100.72,478.57 L101.04,481.92 L101.37,485.27 L101.69,488.62 L102.01,491.97 L102.34,495.32 L102.66,498.67 L102.99,502.02 L103.31,505.37 L103.63,508.72 L103.96,512.07 L104.28,515.42 L104.61,518.77 L104.93,522.12 L105.26,525.47 L105.58,528.82 L105.90,532.17 L106.23,535.52 L106.55,538.87 L106.88,542.22 L107.20,545.57 L107.53,548.92 L107.85,550.40 L108.17,550.63 L108.50,550.82 L108.82,551.34 L109.15,551.76 L109.47,552.14 L109.80,552.29 L110.12,552.93 L110.44,553.02 L110.77,553.27 L111.09,553.50 L111.42,553.82 L111.74,554.03 L112.07,554.26 L112.39,554.49 L112.71,554.70 L113.04,554.63 L113.36,554.84 L113.69,554.82 L114.01,554.92 L114.34,555.05 L114.66,555.03 L114.98,555.19 L115.31,555.21 L115.63,555.37 L115.96,555.52 L116.28,555.64 L116.60,555.65 L116.93,555.74 L117.25,555.75 L117.58,555.75 L117.90,555.81 L118.23,555.90 L118.55,555.99 L118.87,556.13 L119.20,556.17 L119.52,556.22 L119.85,556.21 L120.17,556.22 L120.50,556.32 L120.82,556.39 L121.14,556.40 L121.47,556.48 L121.79,556.51 L122.12,556.55 L122.44,556.59 L122.77,556.59 L123.09,556.58 L123.41,556.59 L123.74,556.70 L124.06,556.69 L124.39,556.67 L124.71,556.73 L125.04,556.74 L125.36,556.74 L125.68,556.80 L126.01,556.82 L126.33,556.87 L126.66,556.87 L126.98,556.90 L127.31,556.91 L127.63,556.93 L127.95,556.93 L128.28,556.94 L128.60,556.97 L128.93,557.03 L129.25,557.00 L129.57,557.05 L129.90,557.04 L130.22,557.06 L130.55,557.07 L130.87,557.11 L131.20,557.09 L131.52,557.15 L131.84,557.15 L132.17,557.15 L132.49,557.17 L132.82,557.20 L133.14,557.19 L133.47,557.21 L133.79,557.23 L134.11,557.21 L134.44,557.25 L134.76,557.23 L135.09,557.24 L135.41,557.26 L135.74,557.25 L136.06,557.26 L136.38,557.28 L136.71,557.28 L137.03,557.29 L137.36,557.31 L137.68,557.32 L138.01,557.31 L138.33,557.31 L138.65,557.32 L138.98,557.34 L139.30,557.35 L139.63,557.34 L139.95,557.36 L140.28,557.36 L140.60,557.36 L140.92,557.36 L141.25,557.36 L141.57,557.37 L141.90,557.37 L142.22,557.39 L142.54,557.38 L142.87,557.40 L143.19,557.41 L143.52,557.41 L143.84,557.42 L144.17,557.41 L144.49,557.41 L144.81,557.43 L145.14,557.42 L145.46,557.45 L145.79,557.44 L146.11,557.43 L146.44,557.44 L146.76,557.45 L147.08,557.46 L147.41,557.46 L147.73,557.47 L148.06,557.47 L148.38,557.47 L148.71,557.48 L149.03,557.48 L149.35,557.48 L149.68,557.48 L150.00,557.49 L150.33,557.49 L150.65,557.49 L150.98,557.49 L151.30,557.50 L151.62,557.50 L151.95,557.50 L152.27,557.51 L152.60,557.51 L152.92,557.52 L153.25,557.52 L153.57,557.52 L153.89,557.53 L154.22,557.53 L154.54,557.54 L154.87,557.54 L155.19,557.53 L155.51,557.54 L155.84,557.54 L156.16,557.55 L156.49,557.55 L156.81,557.55 L157.14,557.55 L157.46,557.55 L157.78,557.56 L158.11,557.56 L158.43,557.55 L158.76,557.56 L159.08,557.56 L159.41,557.56 L159.73,557.57 L160.05,557.57 L160.38,557.57 L160.70,557.57 L161.03,557.58 L161.35,557.57 L161.68,557.58 L162.00,557.58 L162.00,558.24 L161.68,558.24 L161.35,558.23 L161.03,558.24 L160.70,558.23 L160.38,558.23 L160.05,558.23 L159.73,558.23 L159.41,558.23 L159.08,558.22 L158.76,558.23 L158.43,558.22 L158.11,558.22 L157.78,558.22 L157.46,558.22 L157.14,558.21 L156.81,558.22 L156.49,558.21 L156.16,558.21 L155.84,558.22 L155.51,558.21 L155.19,558.20 L154.87,558.21 L154.54,558.20 L154.22,558.21 L153.89,558.20 L153.57,558.19 L153.25,558.20 L152.92,558.19 L152.60,558.19 L152.27,558.19 L151.95,558.19 L151.62,558.19 L151.30,558.19 L150.98,558.19 L150.65,558.18 L150.33,558.18 L150.00,558.18 L149.68,558.18 L149.35,558.17 L149.03,558.17 L148.71,558.17 L148.38,558.16 L148.06,558.17 L147.73,558.16 L147.41,558.17 L147.08,558.15 L146.76,558.16 L146.44,558.14 L146.11,558.15 L145.79,558.14 L145.46,558.14 L145.14,558.13 L144.81,558.14 L144.49,558.13 L144.17,558.13 L143.84,558.13 L143.52,558.12 L143.19,558.11 L142.87,558.11 L142.54,558.12 L142.22,558.11 L141.90,558.10 L141.57,558.10 L141.25,558.11 L140.92,558.10 L140.60,558.08 L140.28,558.09 L139.95,558.07 L139.63,558.08 L139.30,558.07 L138.98,558.08 L138.65,558.05 L138.33,558.05 L138.01,558.06 L137.68,558.04 L137.36,558.06 L137.03,558.04 L136.71,558.05 L136.38,558.04 L136.06,558.05 L135.74,558.02 L135.41,558.01 L135.09,558.00 L134.76,558.01 L134.44,557.99 L134.11,558.01 L133.79,557.98 L133.47,557.98 L133.14,557.98 L132.82,557.98 L132.49,557.94 L132.17,557.93 L131.84,557.94 L131.52,557.91 L131.20,557.94 L130.87,557.94 L130.55,557.88 L130.22,557.90 L129.90,557.89 L129.57,557.86 L129.25,557.87 L128.93,557.87 L128.60,557.82 L128.28,557.86 L127.95,557.81 L127.63,557.79 L127.31,557.77 L126.98,557.78 L126.66,557.73 L126.33,557.71 L126.01,557.72 L125.68,557.68 L125.36,557.73 L125.04,557.68 L124.71,557.71 L124.39,557.62 L124.06,557.63 L123.74,557.66 L123.41,557.64 L123.09,557.53 L122.77,557.60 L122.44,557.57 L122.12,557.47 L121.79,557.44 L121.47,557.50 L121.14,557.46 L120.82,557.39 L120.50,557.40 L120.17,557.34 L119.85,557.26 L119.52,557.28 L119.20,557.24 L118.87,557.28 L118.55,557.22 L118.23,557.06 L117.90,557.12 L117.58,557.06 L117.25,557.01 L116.93,557.04 L116.60,556.83 L116.28,556.80 L115.96,556.79 L115.63,556.81 L115.31,556.59 L114.98,556.71 L114.66,556.62 L114.34,556.50 L114.01,556.48 L113.69,556.35 L113.36,556.46 L113.04,556.30 L112.71,556.14 L112.39,556.10 L112.07,555.89 L111.74,555.86 L111.42,555.84 L111.09,555.73 L110.77,555.36 L110.44,555.34 L110.12,555.22 L109.80,554.96 L109.47,554.58 L109.15,554.29 L108.82,554.32 L108.50,554.02 L108.17,553.19 L107.85,552.97 L107.53,552.83 L107.20,552.48 L106.88,552.40 L106.55,551.13 L106.23,551.04 L105.90,550.53 L105.58,550.32 L105.26,549.96 L104.93,548.10 L104.61,548.72 L104.28,546.68 L103.96,545.71 L103.63,545.42 L103.31,543.38 L102.99,542.25 L102.66,542.46 L102.34,541.37 L102.01,538.10 L101.69,538.59 L101.37,534.15 L101.04,533.58 L100.72,527.57 L100.39,523.71 L100.07,515.69 L99.74,515.46 L99.42,507.46 L99.10,509.85 L98.77,505.01 L98.45,496.58 L98.12,498.28 L97.80,489.68 L97.47,490.31 L97.15,487.99 L96.83,488.04 L96.50,482.21 L96.18,484.77 L95.85,484.82 L95.53,482.00 L95.20,485.22 L94.88,488.47 L94.56,488.09 L94.23,485.75 L93.91,485.61 L93.58,484.34 L93.26,488.15 L92.93,497.86 L92.61,499.77 L92.29,508.72 L91.96,509.42 L91.64,513.82 L91.31,520.32 L90.99,525.15 L90.66,530.17 L90.34,535.53 L90.02,539.60 L89.69,541.48 L89.37,542.75 L89.04,545.80 L88.72,546.49 L88.40,547.99 L88.07,549.33 L87.75,550.16 L87.42,550.23 L87.10,551.11 L86.77,551.69 L86.45,552.44 L86.13,552.77 L85.80,552.90 L85.48,553.64 L85.15,554.09 L84.83,554.40 L84.50,554.34 L84.18,554.95 L83.86,554.88 L83.53,555.06 L83.21,555.27 L82.88,555.77 L82.56,555.82 L82.23,555.96 L81.91,556.30 L81.59,556.40 L81.26,556.59 L80.94,556.68 L80.61,556.75 L80.29,556.88 L79.96,556.85 L79.64,557.00 L79.32,557.13 L78.99,557.15 L78.67,557.26 L78.34,557.23 L78.02,557.32 L77.69,557.27 L77.37,557.42 L77.05,557.45 L76.72,557.46 L76.40,557.48 L76.07,557.50 L75.75,557.57 L75.43,557.57 L75.10,557.61 L74.78,557.71 L74.45,557.71 L74.13,557.72 L73.80,557.71 L73.48,557.75 L73.16,557.76 L72.83,557.80 L72.51,557.86 L72.18,557.87 L71.86,557.86 L71.53,557.88 L71.21,557.92 L70.89,557.95 L70.56,557.94 L70.24,557.95 L69.91,557.95 L69.59,557.95 L69.26,558.00 L68.94,558.00 L68.62,558.00 L68.29,558.00 L67.97,558.01 L67.64,558.04 L67.32,558.03 L66.99,558.04 L66.67,558.06 L66.35,558.06 L66.02,558.04 L65.70,558.07 L65.37,558.05 L65.05,558.09 L64.72,558.08 L64.40,558.08 L64.08,558.10 L63.75,558.11 L63.43,558.11 L63.10,558.11 L62.78,558.11 L62.46,558.13 L62.13,558.13 L61.81,558.13 L61.48,558.13 L61.16,558.14 L60.83,558.15 L60.51,558.16 L60.19,558.16 L59.86,558.16 L59.54,558.16 L59.21,558.17 L58.89,558.17 L58.56,558.18 L58.24,558.18 L57.92,558.18 L57.59,558.18 L57.27,558.19 L56.94,558.17 L56.62,558.18 L56.29,558.18 L55.97,558.19 L55.65,558.18 L55.32,558.18 L55.00,558.18 L54.67,558.18 L54.35,558.18 L54.02,558.18 L53.70,558.19 L53.38,558.19 L53.05,558.19 L52.73,558.19 L52.40,558.20 L52.08,558.20 L51.75,558.20 L51.43,558.19 L51.11,558.20 L50.78,558.20 L50.46,558.20 L50.13,558.19 L49.81,558.20 L49.49,558.20 L49.16,558.21 L48.84,558.20 L48.51,558.20 L48.19,558.21 L47.86,558.21 L47.54,558.20 L47.22,558.20 L46.89,558.20 L46.57,558.21 L46.24,558.21 L45.92,558.21 L45.59,558.22 L45.27,558.22 L44.95,558.21 L44.62,558.21 L44.30,558.22 L43.97,558.22 L43.65,558.21 L43.32,558.21 L43.00,558.21 L42.68,558.21 L42.35,558.22 L42.03,558.22 L41.70,558.22 L41.38,558.22 L41.05,558.22 L40.73,558.22 L40.41,558.22 L40.08,558.23 L39.76,558.22 L39.43,558.22 L39.11,558.22 L38.78,558.22 L38.46,558.23 L38.14,558.23 L37.81,558.22 L37.49,558.23 L37.16,558.23 L36.84,558.23 L36.52,558.23 L36.19,558.23 L35.87,558.23 L35.54,558.23 L35.22,558.23 L34.89,558.24 L34.57,558.23 L34.25,558.24 L33.92,558.23 L33.60,558.24 L33.27,558.24 L32.95,558.24 L32.62,558.24 L32.30,558.24Z" fill="#dfcfe8" opacity="0.85"/>
<path d="M32.30,557.58 L32.62,557.58 L32.95,557.58 L33.27,557.57 L33.60,557.57 L33.92,557.57 L34.25,557.57 L34.57,557.57 L34.89,557.56 L35.22,557.57 L35.54,557.56 L35.87,557.56 L36.19,557.55 L36.52,557.55 L36.84,557.55 L37.16,557.55 L37.49,557.55 L37.81,557.55 L38.14,557.55 L38.46,557.55 L38.78,557.55 L39.11,557.54 L39.43,557.54 L39.76,557.54 L40.08,557.53 L40.41,557.52 L40.73,557.53 L41.05,557.52 L41.38,557.52 L41.70,557.52 L42.03,557.51 L42.35,557.51 L42.68,557.51 L43.00,557.51 L43.32,557.50 L43.65,557.50 L43.97,557.49 L44.30,557.49 L44.62,557.49 L44.95,557.48 L45.27,557.49 L45.59,557.48 L45.92,557.48 L46.24,557.47 L46.57,557.48 L46.89,557.47 L47.22,557.46 L47.54,557.45 L47.86,557.45 L48.19,557.44 L48.51,557.45 L48.84,557.44 L49.16,557.44 L49.49,557.42 L49.81,557.43 L50.13,557.43 L50.46,557.42 L50.78,557.42 L51.11,557.41 L51.43,557.40 L51.75,557.41 L52.08,557.37 L52.40,557.37 L52.73,557.36 L53.05,557.32 L53.38,557.30 L53.70,557.30 L54.02,557.26 L54.35,557.26 L54.67,557.21 L55.00,557.20 L55.32,557.17 L55.65,557.15 L55.97,557.12 L56.29,557.06 L56.62,557.03 L56.94,556.97 L57.27,556.93 L57.59,556.93 L57.92,556.88 L58.24,556.83 L58.56,556.74 L58.89,556.71 L59.21,556.69 L59.54,556.55 L59.86,556.52 L60.19,556.45 L60.51,556.40 L60.83,556.28 L61.16,556.28 L61.48,556.22 L61.81,556.09 L62.13,556.02 L62.46,555.93 L62.78,555.83 L63.10,555.74 L63.43,555.60 L63.75,555.57 L64.08,555.44 L64.40,555.31 L64.72,555.24 L65.05,555.05 L65.37,555.01 L65.70,554.84 L66.02,554.71 L66.35,554.58 L66.67,554.46 L66.99,554.19 L67.32,554.01 L67.64,553.82 L67.97,553.70 L68.29,553.71 L68.62,553.44 L68.94,553.44 L69.26,553.12 L69.59,553.04 L69.91,552.90 L70.24,552.47 L70.56,552.38 L70.89,552.29 L71.21,552.19 L71.53,551.84 L71.86,551.85 L72.18,551.63 L72.51,550.99 L72.83,551.12 L73.16,550.85 L73.48,550.28 L73.80,550.29 L74.13,549.88 L74.45,549.92 L74.78,549.43 L75.10,548.68 L75.43,548.64 L75.75,548.41 L76.07,547.58 L76.40,547.23 L76.72,547.11 L77.05,546.34 L77.37,546.49 L77.69,546.06 L78.02,545.73 L78.34,544.57 L78.67,543.86 L78.99,543.52 L79.32,542.97 L79.64,542.75 L79.96,542.62 L80.29,541.61 L80.61,541.84 L80.94,540.79 L81.26,540.72 L81.59,539.56 L81.91,539.99 L82.23,538.50 L82.56,538.95 L82.88,538.73 L83.21,537.67 L83.53,536.98 L83.86,536.31 L84.18,536.32 L84.50,536.03 L84.83,534.25 L85.15,534.49 L85.48,534.04 L85.80,531.73 L86.13,531.98 L86.45,531.34 L86.77,530.26 L87.10,529.28 L87.42,528.84 L87.75,526.94 L88.07,526.65 L88.40,525.23 L88.72,523.52 L89.04,522.89 L89.37,522.16 L89.69,521.40 L90.02,519.12 L90.34,519.47 L90.66,518.19 L90.99,515.92 L91.31,514.14 L91.64,512.88 L91.96,512.90 L92.29,512.12 L92.61,509.12 L92.93,508.29 L93.26,506.27 L93.58,503.72 L93.91,501.17 L94.23,498.62 L94.56,496.07 L94.88,495.42 L95.20,495.42 L95.53,495.42 L95.85,495.42 L96.18,496.58 L96.50,499.13 L96.83,501.68 L97.15,504.23 L97.47,506.26 L97.80,509.33 L98.12,510.21 L98.45,513.91 L98.77,516.99 L99.10,515.94 L99.42,519.69 L99.74,521.66 L100.07,524.65 L100.39,524.59 L100.72,527.66 L101.04,528.32 L101.37,529.52 L101.69,530.69 L102.01,530.35 L102.34,533.16 L102.66,532.82 L102.99,534.24 L103.31,534.11 L103.63,534.88 L103.96,536.45 L104.28,537.04 L104.61,537.85 L104.93,538.42 L105.26,538.96 L105.58,539.38 L105.90,539.74 L106.23,539.26 L106.55,539.93 L106.88,541.03 L107.20,541.08 L107.53,542.00 L107.85,542.43 L108.17,542.49 L108.50,542.43 L108.82,543.15 L109.15,542.80 L109.47,543.29 L109.80,543.43 L110.12,544.34 L110.44,544.87 L110.77,544.88 L111.09,544.95 L111.42,545.34 L111.74,545.93 L112.07,545.65 L112.39,546.39 L112.71,546.64 L113.04,546.95 L113.36,547.36 L113.69,548.22 L114.01,548.50 L114.34,548.78 L114.66,548.83 L114.98,549.55 L115.31,549.93 L115.63,550.35 L115.96,550.33 L116.28,550.40 L116.60,550.86 L116.93,551.35 L117.25,551.32 L117.58,551.42 L117.90,551.72 L118.23,551.99 L118.55,552.33 L118.87,552.38 L119.20,552.56 L119.52,552.67 L119.85,552.91 L120.17,553.03 L120.50,553.13 L120.82,553.34 L121.14,553.29 L121.47,553.42 L121.79,553.61 L122.12,553.79 L122.44,553.87 L122.77,553.78 L123.09,553.93 L123.41,554.09 L123.74,553.92 L124.06,554.16 L124.39,554.25 L124.71,554.20 L125.04,554.34 L125.36,554.25 L125.68,554.39 L126.01,554.51 L126.33,554.61 L126.66,554.52 L126.98,554.57 L127.31,554.81 L127.63,554.83 L127.95,554.73 L128.28,554.96 L128.60,554.91 L128.93,555.10 L129.25,555.07 L129.57,555.10 L129.90,555.14 L130.22,555.19 L130.55,555.17 L130.87,555.34 L131.20,555.39 L131.52,555.38 L131.84,555.38 L132.17,555.56 L132.49,555.55 L132.82,555.62 L133.14,555.60 L133.47,555.73 L133.79,555.75 L134.11,555.77 L134.44,555.87 L134.76,555.91 L135.09,555.94 L135.41,555.89 L135.74,556.01 L136.06,555.95 L136.38,556.07 L136.71,556.04 L137.03,556.08 L137.36,556.11 L137.68,556.19 L138.01,556.17 L138.33,556.23 L138.65,556.24 L138.98,556.26 L139.30,556.36 L139.63,556.32 L139.95,556.38 L140.28,556.36 L140.60,556.33 L140.92,556.38 L141.25,556.40 L141.57,556.38 L141.90,556.48 L142.22,556.49 L142.54,556.48 L142.87,556.43 L143.19,556.51 L143.52,556.50 L143.84,556.53 L144.17,556.50 L144.49,556.56 L144.81,556.54 L145.14,556.53 L145.46,556.56 L145.79,556.57 L146.11,556.63 L146.44,556.58 L146.76,556.63 L147.08,556.65 L147.41,556.64 L147.73,556.65 L148.06,556.69 L148.38,556.69 L148.71,556.73 L149.03,556.68 L149.35,556.75 L149.68,556.73 L150.00,556.76 L150.33,556.75 L150.65,556.74 L150.98,556.80 L151.30,556.77 L151.62,556.81 L151.95,556.78 L152.27,556.82 L152.60,556.82 L152.92,556.88 L153.25,556.88 L153.57,556.88 L153.89,556.89 L154.22,556.92 L154.54,556.88 L154.87,556.91 L155.19,556.91 L155.51,556.94 L155.84,556.93 L156.16,556.93 L156.49,556.95 L156.81,556.97 L157.14,556.97 L157.46,557.00 L157.78,557.02 L158.11,557.01 L158.43,557.04 L158.76,557.05 L159.08,557.03 L159.41,557.08 L159.73,557.06 L160.05,557.07 L160.38,557.08 L160.70,557.11 L161.03,557.11 L161.35,557.13 L161.68,557.12 L162.00,557.13 L162.00,557.92 L161.68,557.89 L161.35,557.89 L161.03,557.88 L160.70,557.86 L160.38,557.85 L160.05,557.86 L159.73,557.84 L159.41,557.84 L159.08,557.83 L158.76,557.82 L158.43,557.83 L158.11,557.84 L157.78,557.81 L157.46,557.79 L157.14,557.77 L156.81,557.78 L156.49,557.78 L156.16,557.75 L155.84,557.78 L155.51,557.78 L155.19,557.76 L154.87,557.76 L154.54,557.70 L154.22,557.71 L153.89,557.72 L153.57,557.72 L153.25,557.67 L152.92,557.67 L152.60,557.66 L152.27,557.69 L151.95,557.69 L151.62,557.68 L151.30,557.65 L150.98,557.64 L150.65,557.62 L150.33,557.61 L150.00,557.64 L149.68,557.64 L149.35,557.57 L149.03,557.57 L148.71,557.54 L148.38,557.55 L148.06,557.56 L147.73,557.54 L147.41,557.52 L147.08,557.50 L146.76,557.50 L146.44,557.50 L146.11,557.48 L145.79,557.47 L145.46,557.50 L145.14,557.47 L144.81,557.50 L144.49,557.46 L144.17,557.49 L143.84,557.43 L143.52,557.44 L143.19,557.38 L142.87,557.38 L142.54,557.43 L142.22,557.35 L141.90,557.41 L141.57,557.42 L141.25,557.36 L140.92,557.35 L140.60,557.31 L140.28,557.38 L139.95,557.27 L139.63,557.29 L139.30,557.29 L138.98,557.32 L138.65,557.28 L138.33,557.23 L138.01,557.25 L137.68,557.22 L137.36,557.15 L137.03,557.11 L136.71,557.10 L136.38,557.09 L136.06,557.01 L135.74,557.09 L135.41,557.01 L135.09,556.98 L134.76,556.98 L134.44,556.86 L134.11,556.84 L133.79,556.81 L133.47,556.79 L133.14,556.81 L132.82,556.73 L132.49,556.74 L132.17,556.72 L131.84,556.72 L131.52,556.66 L131.20,556.63 L130.87,556.63 L130.55,556.48 L130.22,556.54 L129.90,556.46 L129.57,556.43 L129.25,556.31 L128.93,556.33 L128.60,556.23 L128.28,556.19 L127.95,556.13 L127.63,556.13 L127.31,556.13 L126.98,555.97 L126.66,556.01 L126.33,556.07 L126.01,555.93 L125.68,555.93 L125.36,555.93 L125.04,555.83 L124.71,555.88 L124.39,555.70 L124.06,555.71 L123.74,555.63 L123.41,555.51 L123.09,555.43 L122.77,555.44 L122.44,555.39 L122.12,555.30 L121.79,555.23 L121.47,555.05 L121.14,555.13 L120.82,555.04 L120.50,554.88 L120.17,554.65 L119.85,554.75 L119.52,554.56 L119.20,554.32 L118.87,554.33 L118.55,554.16 L118.23,554.03 L117.90,553.76 L117.58,553.68 L117.25,553.89 L116.93,553.62 L116.60,553.55 L116.28,553.01 L115.96,553.08 L115.63,552.76 L115.31,552.16 L114.98,552.10 L114.66,551.76 L114.34,551.60 L114.01,551.56 L113.69,550.89 L113.36,550.95 L113.04,550.30 L112.71,549.86 L112.39,549.77 L112.07,549.04 L111.74,548.96 L111.42,548.85 L111.09,548.47 L110.77,548.99 L110.44,548.91 L110.12,548.19 L109.80,547.58 L109.47,548.13 L109.15,547.51 L108.82,547.05 L108.50,546.95 L108.17,547.49 L107.85,546.46 L107.53,545.90 L107.20,546.04 L106.88,545.32 L106.55,545.15 L106.23,545.45 L105.90,544.77 L105.58,544.43 L105.26,543.65 L104.93,543.79 L104.61,543.07 L104.28,543.36 L103.96,543.06 L103.63,541.88 L103.31,541.53 L102.99,541.13 L102.66,539.30 L102.34,539.31 L102.01,539.06 L101.69,537.80 L101.37,538.39 L101.04,536.10 L100.72,535.05 L100.39,534.94 L100.07,534.30 L99.74,530.32 L99.42,529.38 L99.10,527.23 L98.77,526.28 L98.45,526.69 L98.12,523.23 L97.80,524.08 L97.47,519.88 L97.15,519.71 L96.83,519.81 L96.50,520.67 L96.18,519.61 L95.85,517.07 L95.53,518.90 L95.20,517.73 L94.88,517.29 L94.56,516.20 L94.23,516.26 L93.91,517.01 L93.58,519.31 L93.26,521.76 L92.93,522.29 L92.61,522.01 L92.29,523.30 L91.96,523.11 L91.64,526.68 L91.31,527.09 L90.99,525.92 L90.66,528.72 L90.34,529.44 L90.02,531.29 L89.69,532.15 L89.37,531.54 L89.04,532.25 L88.72,533.08 L88.40,534.71 L88.07,536.22 L87.75,536.12 L87.42,537.11 L87.10,537.73 L86.77,537.36 L86.45,539.55 L86.13,539.76 L85.80,538.92 L85.48,541.15 L85.15,540.96 L84.83,540.87 L84.50,541.40 L84.18,542.72 L83.86,542.27 L83.53,542.31 L83.21,543.49 L82.88,544.58 L82.56,544.43 L82.23,544.83 L81.91,544.67 L81.59,545.43 L81.26,545.86 L80.94,546.36 L80.61,545.97 L80.29,546.24 L79.96,546.69 L79.64,546.73 L79.32,548.09 L78.99,547.61 L78.67,548.79 L78.34,548.60 L78.02,548.77 L77.69,549.86 L77.37,549.96 L77.05,550.59 L76.72,550.21 L76.40,550.66 L76.07,550.83 L75.75,551.66 L75.43,551.41 L75.10,552.19 L74.78,552.12 L74.45,552.61 L74.13,552.31 L73.80,552.72 L73.48,553.18 L73.16,552.95 L72.83,553.26 L72.51,553.28 L72.18,553.72 L71.86,553.99 L71.53,554.19 L71.21,554.27 L70.89,554.43 L70.56,554.59 L70.24,554.76 L69.91,554.54 L69.59,554.79 L69.26,554.85 L68.94,555.13 L68.62,555.14 L68.29,555.27 L67.97,555.25 L67.64,555.45 L67.32,555.67 L66.99,555.88 L66.67,555.78 L66.35,556.10 L66.02,556.12 L65.70,556.31 L65.37,556.30 L65.05,556.48 L64.72,556.60 L64.40,556.63 L64.08,556.70 L63.75,556.73 L63.43,556.84 L63.10,556.84 L62.78,556.89 L62.46,557.00 L62.13,557.05 L61.81,557.10 L61.48,557.18 L61.16,557.24 L60.83,557.25 L60.51,557.36 L60.19,557.43 L59.86,557.44 L59.54,557.54 L59.21,557.52 L58.89,557.56 L58.56,557.61 L58.24,557.67 L57.92,557.73 L57.59,557.76 L57.27,557.77 L56.94,557.82 L56.62,557.81 L56.29,557.85 L55.97,557.89 L55.65,557.92 L55.32,557.92 L55.00,557.96 L54.67,557.97 L54.35,557.97 L54.02,557.99 L53.70,558.03 L53.38,558.04 L53.05,558.05 L52.73,558.07 L52.40,558.08 L52.08,558.09 L51.75,558.11 L51.43,558.11 L51.11,558.11 L50.78,558.11 L50.46,558.12 L50.13,558.11 L49.81,558.12 L49.49,558.13 L49.16,558.13 L48.84,558.12 L48.51,558.13 L48.19,558.14 L47.86,558.14 L47.54,558.14 L47.22,558.14 L46.89,558.14 L46.57,558.15 L46.24,558.15 L45.92,558.15 L45.59,558.16 L45.27,558.16 L44.95,558.16 L44.62,558.16 L44.30,558.17 L43.97,558.17 L43.65,558.17 L43.32,558.18 L43.00,558.18 L42.68,558.18 L42.35,558.18 L42.03,558.18 L41.70,558.19 L41.38,558.19 L41.05,558.19 L40.73,558.19 L40.41,558.20 L40.08,558.20 L39.76,558.20 L39.43,558.20 L39.11,558.20 L38.78,558.20 L38.46,558.20 L38.14,558.21 L37.81,558.21 L37.49,558.21 L37.16,558.21 L36.84,558.21 L36.52,558.21 L36.19,558.22 L35.87,558.22 L35.54,558.22 L35.22,558.22 L34.89,558.23 L34.57,558.23 L34.25,558.23 L33.92,558.23 L33.60,558.23 L33.27,558.23 L32.95,558.23 L32.62,558.23 L32.30,558.23Z" fill="#c3cdee" opacity="0.8"/>
<path d="M32.30,558.22 L33.60,558.22 L33.60,558.22 L34.89,558.22 L34.89,558.22 L36.19,558.22 L36.19,558.21 L37.49,558.21 L37.49,558.21 L38.78,558.21 L38.78,558.20 L40.08,558.20 L40.08,558.20 L41.38,558.20 L41.38,558.20 L42.68,558.20 L42.68,558.20 L43.97,558.20 L43.97,558.19 L45.27,558.19 L45.27,558.19 L46.57,558.19 L46.57,558.18 L47.86,558.18 L47.86,558.18 L49.16,558.18 L49.16,558.17 L50.46,558.17 L50.46,558.17 L51.75,558.17 L51.75,558.17 L53.05,558.17 L53.05,558.16 L54.35,558.16 L54.35,558.16 L55.65,558.16 L55.65,558.15 L56.94,558.15 L56.94,558.15 L58.24,558.15 L58.24,558.13 L59.54,558.13 L59.54,558.12 L60.83,558.12 L60.83,558.09 L62.13,558.09 L62.13,558.07 L63.43,558.07 L63.43,558.04 L64.72,558.04 L64.72,558.01 L66.02,558.01 L66.02,557.97 L67.32,557.97 L67.32,557.94 L68.62,557.94 L68.62,557.90 L69.91,557.90 L69.91,557.85 L71.21,557.85 L71.21,557.79 L72.51,557.79 L72.51,557.66 L73.80,557.66 L73.80,557.54 L75.10,557.54 L75.10,557.39 L76.40,557.39 L76.40,557.19 L77.69,557.19 L77.69,556.98 L78.99,556.98 L78.99,556.69 L80.29,556.69 L80.29,556.18 L81.59,556.18 L81.59,555.43 L82.88,555.43 L82.88,554.49 L84.18,554.49 L84.18,553.25 L85.48,553.25 L85.48,551.52 L86.77,551.52 L86.77,548.33 L88.07,548.33 L88.07,544.21 L89.37,544.21 L89.37,533.71 L90.66,533.71 L90.66,507.36 L91.96,507.36 L91.96,485.55 L93.26,485.55 L93.26,472.52 L94.56,472.52 L94.56,466.95 L95.85,466.95 L95.85,465.58 L97.15,465.58 L97.15,474.85 L98.45,474.85 L98.45,493.46 L99.74,493.46 L99.74,515.05 L101.04,515.05 L101.04,531.40 L102.34,531.40 L102.34,539.54 L103.63,539.54 L103.63,544.14 L104.93,544.14 L104.93,548.10 L106.23,548.10 L106.23,550.34 L107.53,550.34 L107.53,552.34 L108.82,552.34 L108.82,553.71 L110.12,553.71 L110.12,554.61 L111.42,554.61 L111.42,555.45 L112.71,555.45 L112.71,555.79 L114.01,555.79 L114.01,556.12 L115.31,556.12 L115.31,556.41 L116.60,556.41 L116.60,556.68 L117.90,556.68 L117.90,556.86 L119.20,556.86 L119.20,557.10 L120.50,557.10 L120.50,557.21 L121.79,557.21 L121.79,557.34 L123.09,557.34 L123.09,557.45 L124.39,557.45 L124.39,557.52 L125.68,557.52 L125.68,557.61 L126.98,557.61 L126.98,557.67 L128.28,557.67 L128.28,557.72 L129.57,557.72 L129.57,557.80 L130.87,557.80 L130.87,557.85 L132.17,557.85 L132.17,557.88 L133.47,557.88 L133.47,557.93 L134.76,557.93 L134.76,557.95 L136.06,557.95 L136.06,557.97 L137.36,557.97 L137.36,558.00 L138.65,558.00 L138.65,558.02 L139.95,558.02 L139.95,558.03 L141.25,558.03 L141.25,558.05 L142.54,558.05 L142.54,558.07 L143.84,558.07 L143.84,558.09 L145.14,558.09 L145.14,558.10 L146.44,558.10 L146.44,558.11 L147.73,558.11 L147.73,558.13 L149.03,558.13 L149.03,558.14 L150.33,558.14 L150.33,558.16 L151.62,558.16 L151.62,558.17 L152.92,558.17 L152.92,558.17 L154.22,558.17 L154.22,558.18 L155.51,558.18 L155.51,558.19 L156.81,558.19 L156.81,558.20 L158.11,558.20 L158.11,558.21 L159.41,558.21 L159.41,558.21 L160.70,558.21 L160.70,558.22 L162.00,558.22" fill="none" stroke="#a77bb6" stroke-width="1.8" stroke-linejoin="miter"/>
<path d="M32.30,558.22 L33.60,558.22 L33.60,558.21 L34.89,558.21 L34.89,558.21 L36.19,558.21 L36.19,558.20 L37.49,558.20 L37.49,558.19 L38.78,558.19 L38.78,558.18 L40.08,558.18 L40.08,558.17 L41.38,558.17 L41.38,558.16 L42.68,558.16 L42.68,558.16 L43.97,558.16 L43.97,558.14 L45.27,558.14 L45.27,558.13 L46.57,558.13 L46.57,558.12 L47.86,558.12 L47.86,558.11 L49.16,558.11 L49.16,558.09 L50.46,558.09 L50.46,558.07 L51.75,558.07 L51.75,558.04 L53.05,558.04 L53.05,557.97 L54.35,557.97 L54.35,557.88 L55.65,557.88 L55.65,557.78 L56.94,557.78 L56.94,557.65 L58.24,557.65 L58.24,557.46 L59.54,557.46 L59.54,557.25 L60.83,557.25 L60.83,557.02 L62.13,557.02 L62.13,556.75 L63.43,556.75 L63.43,556.34 L64.72,556.34 L64.72,555.95 L66.02,555.95 L66.02,555.48 L67.32,555.48 L67.32,554.92 L68.62,554.92 L68.62,554.26 L69.91,554.26 L69.91,553.71 L71.21,553.71 L71.21,553.01 L72.51,553.01 L72.51,552.32 L73.80,552.32 L73.80,551.37 L75.10,551.37 L75.10,550.16 L76.40,550.16 L76.40,548.90 L77.69,548.90 L77.69,547.03 L78.99,547.03 L78.99,545.32 L80.29,545.32 L80.29,543.57 L81.59,543.57 L81.59,542.24 L82.88,542.24 L82.88,540.39 L84.18,540.39 L84.18,538.32 L85.48,538.32 L85.48,535.40 L86.77,535.40 L86.77,533.15 L88.07,533.15 L88.07,529.33 L89.37,529.33 L89.37,525.95 L90.66,525.95 L90.66,520.58 L91.96,520.58 L91.96,516.32 L93.26,516.32 L93.26,510.15 L94.56,510.15 L94.56,510.63 L95.85,510.63 L95.85,511.84 L97.15,511.84 L97.15,516.53 L98.45,516.53 L98.45,523.17 L99.74,523.17 L99.74,529.51 L101.04,529.51 L101.04,534.72 L102.34,534.72 L102.34,537.42 L103.63,537.42 L103.63,540.10 L104.93,540.10 L104.93,542.08 L106.23,542.08 L106.23,544.01 L107.53,544.01 L107.53,545.04 L108.82,545.04 L108.82,546.18 L110.12,546.18 L110.12,547.06 L111.42,547.06 L111.42,547.69 L112.71,547.69 L112.71,549.58 L114.01,549.58 L114.01,550.75 L115.31,550.75 L115.31,551.90 L116.60,551.90 L116.60,552.92 L117.90,552.92 L117.90,553.51 L119.20,553.51 L119.20,554.13 L120.50,554.13 L120.50,554.47 L121.79,554.47 L121.79,554.92 L123.09,554.92 L123.09,555.14 L124.39,555.14 L124.39,555.39 L125.68,555.39 L125.68,555.54 L126.98,555.54 L126.98,555.75 L128.28,555.75 L128.28,555.97 L129.57,555.97 L129.57,556.15 L130.87,556.15 L130.87,556.37 L132.17,556.37 L132.17,556.46 L133.47,556.46 L133.47,556.68 L134.76,556.68 L134.76,556.79 L136.06,556.79 L136.06,556.92 L137.36,556.92 L137.36,557.01 L138.65,557.01 L138.65,557.12 L139.95,557.12 L139.95,557.19 L141.25,557.19 L141.25,557.20 L142.54,557.20 L142.54,557.25 L143.84,557.25 L143.84,557.34 L145.14,557.34 L145.14,557.35 L146.44,557.35 L146.44,557.40 L147.73,557.40 L147.73,557.45 L149.03,557.45 L149.03,557.48 L150.33,557.48 L150.33,557.52 L151.62,557.52 L151.62,557.55 L152.92,557.55 L152.92,557.60 L154.22,557.60 L154.22,557.63 L155.51,557.63 L155.51,557.67 L156.81,557.67 L156.81,557.70 L158.11,557.70 L158.11,557.75 L159.41,557.75 L159.41,557.78 L160.70,557.78 L160.70,557.81 L162.00,557.81" fill="none" stroke="#4a7cc8" stroke-width="1.8" stroke-linejoin="miter"/>
<line x1="32.30" y1="435.10" x2="32.30" y2="565.30" stroke="#262626" stroke-width="1.0"/>
<line x1="31.80" y1="564.80" x2="162.50" y2="564.80" stroke="#262626" stroke-width="1.0"/>
<line x1="28.70" y1="558.30" x2="32.30" y2="558.30" stroke="#262626" stroke-width="1.0"/>
<text x="24.30" y="562.70" font-size="10.7" fill="#262626" text-anchor="end"  textLength="6.68" lengthAdjust="spacingAndGlyphs">0</text>
<line x1="28.70" y1="519.00" x2="32.30" y2="519.00" stroke="#262626" stroke-width="1.0"/>
<text x="24.30" y="523.40" font-size="10.7" fill="#262626" text-anchor="end"  textLength="6.68" lengthAdjust="spacingAndGlyphs">5</text>
<line x1="28.70" y1="479.70" x2="32.30" y2="479.70" stroke="#262626" stroke-width="1.0"/>
<text x="24.30" y="484.10" font-size="10.7" fill="#262626" text-anchor="end"  textLength="13.36" lengthAdjust="spacingAndGlyphs">10</text>
<line x1="28.70" y1="440.40" x2="32.30" y2="440.40" stroke="#262626" stroke-width="1.0"/>
<text x="24.30" y="444.80" font-size="10.7" fill="#262626" text-anchor="end"  textLength="13.36" lengthAdjust="spacingAndGlyphs">15</text>
<line x1="32.30" y1="564.80" x2="32.30" y2="568.40" stroke="#262626" stroke-width="1.0"/>
<text x="32.50" y="580.70" font-size="10.7" fill="#262626" text-anchor="middle"  textLength="32.17" lengthAdjust="spacingAndGlyphs">−0.50</text>
<line x1="64.72" y1="564.80" x2="64.72" y2="568.40" stroke="#262626" stroke-width="1.0"/>
<text x="64.92" y="580.70" font-size="10.7" fill="#262626" text-anchor="middle"  textLength="32.17" lengthAdjust="spacingAndGlyphs">−0.25</text>
<line x1="97.15" y1="564.80" x2="97.15" y2="568.40" stroke="#262626" stroke-width="1.0"/>
<text x="97.35" y="580.70" font-size="10.7" fill="#262626" text-anchor="middle"  textLength="23.37" lengthAdjust="spacingAndGlyphs">0.00</text>
<line x1="129.57" y1="564.80" x2="129.57" y2="568.40" stroke="#262626" stroke-width="1.0"/>
<text x="129.77" y="580.70" font-size="10.7" fill="#262626" text-anchor="middle"  textLength="23.37" lengthAdjust="spacingAndGlyphs">0.25</text>
<line x1="162.00" y1="564.80" x2="162.00" y2="568.40" stroke="#262626" stroke-width="1.0"/>
<text x="162.20" y="580.70" font-size="10.7" fill="#262626" text-anchor="middle"  textLength="23.37" lengthAdjust="spacingAndGlyphs">0.50</text>
<text x="103.95" y="592.00" font-size="11.3" fill="#262626" text-anchor="middle"  textLength="92.0" lengthAdjust="spacingAndGlyphs">Correlation values</text>
<text transform="translate(7.20,511.50) rotate(-90)" font-size="11.3" fill="#262626" text-anchor="middle" textLength="38.5" lengthAdjust="spacingAndGlyphs">Density</text>
<line x1="121.8" y1="458.4" x2="133.9" y2="458.4" stroke="#8fb0e0" stroke-width="2.6"/>
<line x1="121.8" y1="473.1" x2="133.9" y2="473.1" stroke="#9a5fa8" stroke-width="2.6"/>
<text x="139.60" y="462.90" font-size="11" fill="#262626" text-anchor="start" >Pre</text>
<text x="139.60" y="477.60" font-size="11" fill="#262626" text-anchor="start" >Post</text>
<path d="M201.40,556.48 L201.73,556.47 L202.05,556.48 L202.38,556.47 L202.70,556.46 L203.03,556.46 L203.35,556.47 L203.68,556.47 L204.00,556.46 L204.33,556.46 L204.65,556.46 L204.98,556.44 L205.30,556.45 L205.63,556.44 L205.95,556.43 L206.28,556.45 L206.60,556.44 L206.93,556.43 L207.25,556.43 L207.58,556.43 L207.91,556.43 L208.23,556.42 L208.56,556.42 L208.88,556.41 L209.21,556.40 L209.53,556.41 L209.86,556.40 L210.18,556.41 L210.51,556.40 L210.83,556.39 L211.16,556.40 L211.48,556.39 L211.81,556.39 L212.13,556.38 L212.46,556.39 L212.78,556.38 L213.11,556.38 L213.43,556.37 L213.76,556.37 L214.08,556.37 L214.41,556.36 L214.74,556.35 L215.06,556.36 L215.39,556.35 L215.71,556.33 L216.04,556.35 L216.36,556.32 L216.69,556.33 L217.01,556.33 L217.34,556.30 L217.66,556.31 L217.99,556.31 L218.31,556.29 L218.64,556.30 L218.96,556.29 L219.29,556.29 L219.61,556.27 L219.94,556.28 L220.26,556.28 L220.59,556.26 L220.92,556.25 L221.24,556.26 L221.57,556.24 L221.89,556.25 L222.22,556.24 L222.54,556.23 L222.87,556.22 L223.19,556.20 L223.52,556.20 L223.84,556.18 L224.17,556.14 L224.49,556.13 L224.82,556.08 L225.14,556.08 L225.47,555.99 L225.79,555.95 L226.12,555.93 L226.44,555.90 L226.77,555.85 L227.09,555.76 L227.42,555.73 L227.75,555.71 L228.07,555.60 L228.40,555.58 L228.72,555.50 L229.05,555.44 L229.37,555.34 L229.70,555.20 L230.02,555.08 L230.35,555.12 L230.67,554.95 L231.00,554.80 L231.32,554.76 L231.65,554.49 L231.97,554.47 L232.30,554.37 L232.62,554.21 L232.95,553.99 L233.27,553.91 L233.60,553.60 L233.93,553.52 L234.25,553.12 L234.58,553.12 L234.90,552.69 L235.23,552.48 L235.55,552.08 L235.88,551.92 L236.20,551.60 L236.53,551.39 L236.85,551.16 L237.18,550.86 L237.50,550.47 L237.83,549.71 L238.15,549.17 L238.48,549.11 L238.80,548.21 L239.13,548.33 L239.45,547.29 L239.78,547.01 L240.10,546.82 L240.43,546.68 L240.76,546.34 L241.08,545.51 L241.41,545.77 L241.73,544.49 L242.06,545.15 L242.38,543.71 L242.71,543.91 L243.03,543.52 L243.36,542.26 L243.68,542.68 L244.01,542.45 L244.33,541.95 L244.66,541.17 L244.98,540.39 L245.31,539.99 L245.63,538.18 L245.96,538.91 L246.28,537.59 L246.61,537.10 L246.94,536.05 L247.26,535.84 L247.59,535.30 L247.91,535.21 L248.24,533.99 L248.56,532.91 L248.89,532.45 L249.21,531.58 L249.54,532.22 L249.86,531.12 L250.19,529.85 L250.51,531.21 L250.84,530.49 L251.16,530.01 L251.49,529.01 L251.81,526.80 L252.14,524.98 L252.46,524.18 L252.79,525.62 L253.11,523.96 L253.44,522.12 L253.77,521.92 L254.09,522.05 L254.42,519.77 L254.74,517.35 L255.07,516.48 L255.39,517.90 L255.72,515.61 L256.04,516.95 L256.37,513.85 L256.69,511.18 L257.02,512.19 L257.34,508.64 L257.67,509.22 L257.99,507.34 L258.32,507.40 L258.64,506.04 L258.97,506.11 L259.29,500.40 L259.62,502.83 L259.94,502.32 L260.27,497.88 L260.60,496.89 L260.92,495.24 L261.25,495.58 L261.57,489.88 L261.90,491.65 L262.22,492.43 L262.55,490.82 L262.87,488.27 L263.20,482.75 L263.52,485.88 L263.85,485.69 L264.17,484.17 L264.50,484.28 L264.82,487.54 L265.15,482.67 L265.47,488.79 L265.80,488.37 L266.12,489.07 L266.45,488.57 L266.78,491.58 L267.10,491.86 L267.43,494.56 L267.75,499.71 L268.08,500.59 L268.40,505.32 L268.73,504.51 L269.05,506.29 L269.38,507.45 L269.70,510.73 L270.03,509.37 L270.35,512.90 L270.68,511.93 L271.00,513.45 L271.33,516.78 L271.65,517.51 L271.98,520.00 L272.30,520.06 L272.63,521.92 L272.96,522.15 L273.28,522.52 L273.61,525.12 L273.93,523.89 L274.26,524.73 L274.58,527.44 L274.91,526.84 L275.23,528.80 L275.56,530.48 L275.88,529.66 L276.21,531.26 L276.53,531.55 L276.86,532.82 L277.18,534.98 L277.51,534.78 L277.83,535.95 L278.16,535.54 L278.48,535.43 L278.81,536.55 L279.13,536.49 L279.46,536.90 L279.79,537.60 L280.11,538.40 L280.44,539.57 L280.76,539.02 L281.09,539.93 L281.41,540.11 L281.74,540.57 L282.06,541.54 L282.39,542.17 L282.71,541.30 L283.04,542.22 L283.36,542.04 L283.69,543.38 L284.01,542.71 L284.34,543.80 L284.66,543.47 L284.99,543.82 L285.31,543.83 L285.64,544.06 L285.97,544.28 L286.29,545.20 L286.62,544.88 L286.94,545.69 L287.27,545.53 L287.59,545.57 L287.92,545.81 L288.24,545.61 L288.57,545.84 L288.89,545.97 L289.22,546.79 L289.54,546.63 L289.87,547.25 L290.19,546.70 L290.52,547.61 L290.84,547.19 L291.17,547.20 L291.49,547.87 L291.82,548.13 L292.14,547.74 L292.47,548.15 L292.80,548.67 L293.12,548.92 L293.45,548.72 L293.77,548.49 L294.10,548.82 L294.42,548.87 L294.75,548.84 L295.07,549.20 L295.40,549.68 L295.72,549.60 L296.05,549.88 L296.37,550.01 L296.70,550.02 L297.02,549.89 L297.35,550.16 L297.67,550.41 L298.00,550.07 L298.32,550.34 L298.65,550.51 L298.98,550.73 L299.30,550.92 L299.63,550.69 L299.95,550.70 L300.28,551.24 L300.60,551.04 L300.93,551.16 L301.25,551.03 L301.58,551.15 L301.90,551.57 L302.23,551.66 L302.55,551.74 L302.88,551.87 L303.20,551.56 L303.53,551.78 L303.85,552.15 L304.18,552.19 L304.50,552.12 L304.83,552.30 L305.15,552.06 L305.48,552.21 L305.81,552.46 L306.13,552.47 L306.46,552.37 L306.78,552.75 L307.11,552.73 L307.43,552.55 L307.76,552.85 L308.08,553.00 L308.41,553.03 L308.73,553.11 L309.06,553.24 L309.38,553.29 L309.71,553.17 L310.03,553.34 L310.36,553.42 L310.68,553.33 L311.01,553.65 L311.33,553.53 L311.66,553.73 L311.99,553.73 L312.31,553.90 L312.64,553.92 L312.96,553.85 L313.29,553.85 L313.61,553.97 L313.94,554.02 L314.26,554.03 L314.59,554.19 L314.91,554.17 L315.24,554.33 L315.56,554.28 L315.89,554.30 L316.21,554.45 L316.54,554.43 L316.86,554.60 L317.19,554.64 L317.51,554.51 L317.84,554.66 L318.16,554.73 L318.49,554.81 L318.82,554.82 L319.14,554.88 L319.47,554.81 L319.79,554.84 L320.12,554.98 L320.44,554.90 L320.77,554.99 L321.09,555.02 L321.42,555.16 L321.74,555.07 L322.07,555.24 L322.39,555.18 L322.72,555.26 L323.04,555.33 L323.37,555.33 L323.69,555.40 L324.02,555.44 L324.34,555.42 L324.67,555.42 L325.00,555.46 L325.32,555.55 L325.65,555.55 L325.97,555.53 L326.30,555.54 L326.62,555.57 L326.95,555.61 L327.27,555.64 L327.60,555.68 L327.92,555.69 L328.25,555.74 L328.57,555.75 L328.90,555.75 L329.22,555.82 L329.55,555.85 L329.87,555.85 L330.20,555.90 L330.52,555.91 L330.85,555.93 L331.17,555.90 L331.50,555.96 L331.50,557.06 L331.17,557.04 L330.85,557.04 L330.52,557.03 L330.20,556.98 L329.87,557.01 L329.55,556.98 L329.22,556.98 L328.90,556.97 L328.57,556.94 L328.25,556.91 L327.92,556.91 L327.60,556.89 L327.27,556.88 L326.95,556.90 L326.62,556.80 L326.30,556.84 L325.97,556.76 L325.65,556.74 L325.32,556.76 L325.00,556.80 L324.67,556.76 L324.34,556.65 L324.02,556.63 L323.69,556.66 L323.37,556.60 L323.04,556.62 L322.72,556.55 L322.39,556.55 L322.07,556.49 L321.74,556.54 L321.42,556.45 L321.09,556.47 L320.77,556.38 L320.44,556.44 L320.12,556.32 L319.79,556.40 L319.47,556.41 L319.14,556.38 L318.82,556.19 L318.49,556.23 L318.16,556.19 L317.84,556.17 L317.51,556.07 L317.19,556.16 L316.86,556.02 L316.54,556.01 L316.21,556.00 L315.89,555.97 L315.56,555.88 L315.24,555.90 L314.91,555.99 L314.59,555.93 L314.26,555.76 L313.94,555.70 L313.61,555.81 L313.29,555.71 L312.96,555.79 L312.64,555.78 L312.31,555.48 L311.99,555.43 L311.66,555.61 L311.33,555.61 L311.01,555.38 L310.68,555.56 L310.36,555.50 L310.03,555.47 L309.71,555.39 L309.38,555.24 L309.06,555.22 L308.73,555.19 L308.41,555.20 L308.08,554.85 L307.76,555.13 L307.43,554.72 L307.11,554.97 L306.78,554.68 L306.46,554.78 L306.13,554.90 L305.81,554.55 L305.48,554.48 L305.15,554.37 L304.83,554.34 L304.50,554.65 L304.18,554.30 L303.85,554.54 L303.53,554.30 L303.20,554.46 L302.88,554.12 L302.55,553.96 L302.23,554.30 L301.90,554.09 L301.58,553.82 L301.25,553.94 L300.93,553.70 L300.60,553.93 L300.28,554.01 L299.95,553.51 L299.63,553.63 L299.30,553.42 L298.98,553.57 L298.65,553.24 L298.32,553.16 L298.00,553.41 L297.67,553.54 L297.35,553.10 L297.02,553.11 L296.70,553.35 L296.37,553.04 L296.05,552.82 L295.72,552.56 L295.40,552.70 L295.07,552.71 L294.75,552.82 L294.42,552.64 L294.10,552.37 L293.77,552.32 L293.45,552.54 L293.12,551.81 L292.80,551.82 L292.47,551.93 L292.14,552.17 L291.82,551.35 L291.49,552.00 L291.17,551.78 L290.84,551.58 L290.52,551.24 L290.19,550.78 L289.87,550.70 L289.54,551.15 L289.22,551.26 L288.89,550.26 L288.57,550.39 L288.24,550.24 L287.92,550.85 L287.59,550.23 L287.27,549.86 L286.94,549.90 L286.62,549.61 L286.29,549.07 L285.97,549.41 L285.64,549.08 L285.31,549.59 L284.99,549.29 L284.66,548.59 L284.34,548.59 L284.01,549.19 L283.69,548.83 L283.36,548.26 L283.04,547.48 L282.71,547.23 L282.39,546.81 L282.06,546.59 L281.74,546.75 L281.41,547.29 L281.09,546.87 L280.76,546.53 L280.44,545.65 L280.11,546.39 L279.79,545.24 L279.46,543.97 L279.13,544.29 L278.81,544.28 L278.48,544.66 L278.16,543.62 L277.83,544.03 L277.51,542.52 L277.18,542.34 L276.86,541.72 L276.53,542.16 L276.21,540.01 L275.88,539.22 L275.56,539.74 L275.23,539.86 L274.91,539.19 L274.58,536.87 L274.26,537.22 L273.93,537.74 L273.61,534.85 L273.28,536.47 L272.96,534.21 L272.63,534.66 L272.30,531.39 L271.98,530.47 L271.65,529.44 L271.33,529.47 L271.00,529.34 L270.68,527.37 L270.35,530.10 L270.03,528.51 L269.70,524.09 L269.38,524.72 L269.05,525.06 L268.73,523.54 L268.40,522.53 L268.08,522.32 L267.75,518.63 L267.43,517.22 L267.10,515.97 L266.78,514.39 L266.45,513.68 L266.12,509.13 L265.80,513.38 L265.47,510.32 L265.15,511.73 L264.82,512.47 L264.50,507.26 L264.17,506.87 L263.85,509.84 L263.52,510.68 L263.20,508.89 L262.87,510.29 L262.55,511.10 L262.22,512.60 L261.90,513.94 L261.57,514.04 L261.25,515.12 L260.92,516.16 L260.60,518.45 L260.27,516.96 L259.94,521.15 L259.62,520.29 L259.29,522.96 L258.97,522.75 L258.64,523.97 L258.32,522.89 L257.99,525.23 L257.67,524.41 L257.34,528.91 L257.02,526.87 L256.69,529.30 L256.37,529.93 L256.04,528.57 L255.72,531.13 L255.39,532.83 L255.07,531.33 L254.74,533.53 L254.42,534.85 L254.09,532.38 L253.77,533.84 L253.44,534.83 L253.11,534.72 L252.79,537.62 L252.46,535.35 L252.14,538.09 L251.81,539.23 L251.49,538.89 L251.16,538.15 L250.84,538.12 L250.51,538.75 L250.19,539.29 L249.86,541.33 L249.54,540.89 L249.21,541.98 L248.89,542.39 L248.56,542.33 L248.24,542.24 L247.91,543.15 L247.59,543.25 L247.26,543.77 L246.94,544.20 L246.61,544.83 L246.28,544.77 L245.96,545.55 L245.63,545.83 L245.31,545.74 L244.98,545.95 L244.66,547.20 L244.33,546.72 L244.01,547.30 L243.68,548.48 L243.36,548.73 L243.03,548.11 L242.71,549.21 L242.38,549.61 L242.06,549.91 L241.73,549.81 L241.41,549.78 L241.08,549.96 L240.76,550.47 L240.43,550.69 L240.10,550.82 L239.78,551.20 L239.45,551.59 L239.13,551.89 L238.80,551.97 L238.48,552.72 L238.15,552.82 L237.83,552.89 L237.50,553.02 L237.18,553.59 L236.85,553.60 L236.53,553.95 L236.20,554.15 L235.88,554.36 L235.55,554.64 L235.23,554.86 L234.90,554.92 L234.58,555.12 L234.25,555.37 L233.93,555.38 L233.60,555.62 L233.27,555.63 L232.95,555.80 L232.62,555.96 L232.30,555.94 L231.97,556.01 L231.65,556.05 L231.32,556.20 L231.00,556.28 L230.67,556.33 L230.35,556.45 L230.02,556.50 L229.70,556.60 L229.37,556.67 L229.05,556.65 L228.72,556.77 L228.40,556.78 L228.07,556.83 L227.75,556.88 L227.42,556.93 L227.09,556.97 L226.77,556.97 L226.44,556.99 L226.12,557.07 L225.79,557.11 L225.47,557.12 L225.14,557.14 L224.82,557.16 L224.49,557.17 L224.17,557.20 L223.84,557.23 L223.52,557.23 L223.19,557.26 L222.87,557.25 L222.54,557.26 L222.22,557.24 L221.89,557.27 L221.57,557.26 L221.24,557.25 L220.92,557.26 L220.59,557.28 L220.26,557.29 L219.94,557.29 L219.61,557.27 L219.29,557.30 L218.96,557.29 L218.64,557.29 L218.31,557.30 L217.99,557.31 L217.66,557.29 L217.34,557.32 L217.01,557.31 L216.69,557.30 L216.36,557.31 L216.04,557.31 L215.71,557.33 L215.39,557.31 L215.06,557.34 L214.74,557.34 L214.41,557.34 L214.08,557.33 L213.76,557.33 L213.43,557.34 L213.11,557.34 L212.78,557.35 L212.46,557.35 L212.13,557.35 L211.81,557.35 L211.48,557.35 L211.16,557.36 L210.83,557.36 L210.51,557.36 L210.18,557.36 L209.86,557.37 L209.53,557.36 L209.21,557.37 L208.88,557.38 L208.56,557.36 L208.23,557.37 L207.91,557.38 L207.58,557.38 L207.25,557.37 L206.93,557.38 L206.60,557.38 L206.28,557.39 L205.95,557.40 L205.63,557.38 L205.30,557.40 L204.98,557.39 L204.65,557.39 L204.33,557.40 L204.00,557.40 L203.68,557.41 L203.35,557.40 L203.03,557.41 L202.70,557.41 L202.38,557.41 L202.05,557.41 L201.73,557.40 L201.40,557.41Z" fill="#dfcfe8" opacity="0.85"/>
<path d="M201.40,556.48 L201.73,556.48 L202.05,556.48 L202.38,556.48 L202.70,556.47 L203.03,556.48 L203.35,556.48 L203.68,556.47 L204.00,556.47 L204.33,556.47 L204.65,556.47 L204.98,556.46 L205.30,556.46 L205.63,556.46 L205.95,556.46 L206.28,556.46 L206.60,556.46 L206.93,556.46 L207.25,556.45 L207.58,556.45 L207.91,556.45 L208.23,556.45 L208.56,556.45 L208.88,556.44 L209.21,556.44 L209.53,556.44 L209.86,556.43 L210.18,556.43 L210.51,556.43 L210.83,556.43 L211.16,556.43 L211.48,556.43 L211.81,556.42 L212.13,556.43 L212.46,556.42 L212.78,556.42 L213.11,556.42 L213.43,556.41 L213.76,556.40 L214.08,556.42 L214.41,556.41 L214.74,556.40 L215.06,556.39 L215.39,556.40 L215.71,556.40 L216.04,556.40 L216.36,556.39 L216.69,556.39 L217.01,556.38 L217.34,556.38 L217.66,556.38 L217.99,556.37 L218.31,556.38 L218.64,556.38 L218.96,556.37 L219.29,556.38 L219.61,556.37 L219.94,556.36 L220.26,556.35 L220.59,556.35 L220.92,556.36 L221.24,556.35 L221.57,556.34 L221.89,556.32 L222.22,556.32 L222.54,556.31 L222.87,556.29 L223.19,556.28 L223.52,556.26 L223.84,556.26 L224.17,556.25 L224.49,556.23 L224.82,556.23 L225.14,556.19 L225.47,556.20 L225.79,556.17 L226.12,556.15 L226.44,556.15 L226.77,556.14 L227.09,556.13 L227.42,556.08 L227.75,556.07 L228.07,556.05 L228.40,556.04 L228.72,556.02 L229.05,556.02 L229.37,555.96 L229.70,555.94 L230.02,555.92 L230.35,555.92 L230.67,555.87 L231.00,555.84 L231.32,555.81 L231.65,555.74 L231.97,555.63 L232.30,555.57 L232.62,555.48 L232.95,555.36 L233.27,555.28 L233.60,555.19 L233.93,554.97 L234.25,554.91 L234.58,554.68 L234.90,554.59 L235.23,554.39 L235.55,554.09 L235.88,553.92 L236.20,553.72 L236.53,553.29 L236.85,552.96 L237.18,552.89 L237.50,552.46 L237.83,552.06 L238.15,551.85 L238.48,551.49 L238.80,551.27 L239.13,550.90 L239.45,550.79 L239.78,550.72 L240.10,550.31 L240.43,550.13 L240.76,549.84 L241.08,549.49 L241.41,548.83 L241.73,548.77 L242.06,548.31 L242.38,547.67 L242.71,547.41 L243.03,547.25 L243.36,547.12 L243.68,546.55 L244.01,546.20 L244.33,545.21 L244.66,544.73 L244.98,544.05 L245.31,543.73 L245.63,543.24 L245.96,542.83 L246.28,542.10 L246.61,542.22 L246.94,541.61 L247.26,541.07 L247.59,540.32 L247.91,540.16 L248.24,539.42 L248.56,538.80 L248.89,538.08 L249.21,537.62 L249.54,536.72 L249.86,535.85 L250.19,535.54 L250.51,533.85 L250.84,533.28 L251.16,533.59 L251.49,531.95 L251.81,531.70 L252.14,530.92 L252.46,530.18 L252.79,529.18 L253.11,528.94 L253.44,527.50 L253.77,525.64 L254.09,526.05 L254.42,524.67 L254.74,522.85 L255.07,522.83 L255.39,521.52 L255.72,520.50 L256.04,519.90 L256.37,518.76 L256.69,516.66 L257.02,516.88 L257.34,514.75 L257.67,514.04 L257.99,513.84 L258.32,512.03 L258.64,511.05 L258.97,508.66 L259.29,502.32 L259.62,499.02 L259.94,493.02 L260.27,490.92 L260.60,484.35 L260.92,483.24 L261.25,477.93 L261.57,472.46 L261.90,472.22 L262.22,465.33 L262.55,463.59 L262.87,458.76 L263.20,454.56 L263.52,450.04 L263.85,445.53 L264.17,441.19 L264.50,441.19 L264.82,441.19 L265.15,441.19 L265.47,441.19 L265.80,443.72 L266.12,448.24 L266.45,452.75 L266.78,457.27 L267.10,461.78 L267.43,466.30 L267.75,470.81 L268.08,475.33 L268.40,479.84 L268.73,484.36 L269.05,488.87 L269.38,493.39 L269.70,497.90 L270.03,502.42 L270.35,506.93 L270.68,511.45 L271.00,515.96 L271.33,520.48 L271.65,522.75 L271.98,525.67 L272.30,527.02 L272.63,526.88 L272.96,529.78 L273.28,529.66 L273.61,531.94 L273.93,533.47 L274.26,533.77 L274.58,534.64 L274.91,535.47 L275.23,536.06 L275.56,537.22 L275.88,536.66 L276.21,538.33 L276.53,539.24 L276.86,538.89 L277.18,539.74 L277.51,540.66 L277.83,541.00 L278.16,541.28 L278.48,541.68 L278.81,542.36 L279.13,542.44 L279.46,543.66 L279.79,543.43 L280.11,544.50 L280.44,544.62 L280.76,545.21 L281.09,544.87 L281.41,545.72 L281.74,546.27 L282.06,546.44 L282.39,546.89 L282.71,547.01 L283.04,546.96 L283.36,547.52 L283.69,547.70 L284.01,547.75 L284.34,548.48 L284.66,548.03 L284.99,548.55 L285.31,548.58 L285.64,549.06 L285.97,549.39 L286.29,549.32 L286.62,549.78 L286.94,549.82 L287.27,549.60 L287.59,550.02 L287.92,549.98 L288.24,550.27 L288.57,550.28 L288.89,550.76 L289.22,550.60 L289.54,550.96 L289.87,550.87 L290.19,550.97 L290.52,551.35 L290.84,551.30 L291.17,551.50 L291.49,551.58 L291.82,551.35 L292.14,551.82 L292.47,551.70 L292.80,551.69 L293.12,551.97 L293.45,551.78 L293.77,551.97 L294.10,552.13 L294.42,552.13 L294.75,552.31 L295.07,552.48 L295.40,552.34 L295.72,552.46 L296.05,552.60 L296.37,552.54 L296.70,552.81 L297.02,552.78 L297.35,552.69 L297.67,552.88 L298.00,553.04 L298.32,552.96 L298.65,552.98 L298.98,553.17 L299.30,553.15 L299.63,553.22 L299.95,553.39 L300.28,553.22 L300.60,553.44 L300.93,553.38 L301.25,553.50 L301.58,553.58 L301.90,553.68 L302.23,553.73 L302.55,553.57 L302.88,553.72 L303.20,553.75 L303.53,553.90 L303.85,553.90 L304.18,553.88 L304.50,553.98 L304.83,554.06 L305.15,553.92 L305.48,554.09 L305.81,554.02 L306.13,554.13 L306.46,554.26 L306.78,554.16 L307.11,554.22 L307.43,554.36 L307.76,554.42 L308.08,554.35 L308.41,554.43 L308.73,554.39 L309.06,554.54 L309.38,554.59 L309.71,554.50 L310.03,554.59 L310.36,554.69 L310.68,554.69 L311.01,554.76 L311.33,554.70 L311.66,554.74 L311.99,554.80 L312.31,554.89 L312.64,554.93 L312.96,554.88 L313.29,554.90 L313.61,554.92 L313.94,554.99 L314.26,555.07 L314.59,555.08 L314.91,555.07 L315.24,555.11 L315.56,555.12 L315.89,555.13 L316.21,555.16 L316.54,555.23 L316.86,555.28 L317.19,555.28 L317.51,555.30 L317.84,555.36 L318.16,555.37 L318.49,555.40 L318.82,555.39 L319.14,555.39 L319.47,555.40 L319.79,555.49 L320.12,555.51 L320.44,555.59 L320.77,555.58 L321.09,555.68 L321.42,555.70 L321.74,555.69 L322.07,555.77 L322.39,555.82 L322.72,555.81 L323.04,555.87 L323.37,555.87 L323.69,555.92 L324.02,555.97 L324.34,555.99 L324.67,555.98 L325.00,556.01 L325.32,556.05 L325.65,556.06 L325.97,556.10 L326.30,556.13 L326.62,556.12 L326.95,556.14 L327.27,556.18 L327.60,556.18 L327.92,556.21 L328.25,556.22 L328.57,556.25 L328.90,556.26 L329.22,556.27 L329.55,556.27 L329.87,556.30 L330.20,556.30 L330.52,556.33 L330.85,556.32 L331.17,556.34 L331.50,556.35 L331.50,557.31 L331.17,557.31 L330.85,557.28 L330.52,557.28 L330.20,557.27 L329.87,557.26 L329.55,557.27 L329.22,557.24 L328.90,557.24 L328.57,557.22 L328.25,557.21 L327.92,557.21 L327.60,557.18 L327.27,557.18 L326.95,557.15 L326.62,557.16 L326.30,557.14 L325.97,557.13 L325.65,557.12 L325.32,557.10 L325.00,557.08 L324.67,557.07 L324.34,557.03 L324.02,557.00 L323.69,557.01 L323.37,556.95 L323.04,556.93 L322.72,556.94 L322.39,556.87 L322.07,556.85 L321.74,556.86 L321.42,556.83 L321.09,556.78 L320.77,556.73 L320.44,556.76 L320.12,556.66 L319.79,556.65 L319.47,556.60 L319.14,556.58 L318.82,556.57 L318.49,556.58 L318.16,556.53 L317.84,556.57 L317.51,556.53 L317.19,556.49 L316.86,556.49 L316.54,556.45 L316.21,556.45 L315.89,556.41 L315.56,556.45 L315.24,556.35 L314.91,556.43 L314.59,556.34 L314.26,556.31 L313.94,556.35 L313.61,556.29 L313.29,556.24 L312.96,556.29 L312.64,556.23 L312.31,556.14 L311.99,556.11 L311.66,556.10 L311.33,556.10 L311.01,556.11 L310.68,556.11 L310.36,556.08 L310.03,555.97 L309.71,556.07 L309.38,556.04 L309.06,555.97 L308.73,555.88 L308.41,555.85 L308.08,555.76 L307.76,555.73 L307.43,555.80 L307.11,555.80 L306.78,555.78 L306.46,555.62 L306.13,555.61 L305.81,555.71 L305.48,555.64 L305.15,555.62 L304.83,555.51 L304.50,555.50 L304.18,555.52 L303.85,555.52 L303.53,555.39 L303.20,555.31 L302.88,555.28 L302.55,555.34 L302.23,555.24 L301.90,555.14 L301.58,555.25 L301.25,555.28 L300.93,555.09 L300.60,555.14 L300.28,555.12 L299.95,555.12 L299.63,554.97 L299.30,555.01 L298.98,555.00 L298.65,554.77 L298.32,554.86 L298.00,554.72 L297.67,554.68 L297.35,554.62 L297.02,554.53 L296.70,554.65 L296.37,554.62 L296.05,554.57 L295.72,554.58 L295.40,554.40 L295.07,554.39 L294.75,554.39 L294.42,554.15 L294.10,554.26 L293.77,554.02 L293.45,554.16 L293.12,553.88 L292.80,553.91 L292.47,553.82 L292.14,553.65 L291.82,553.69 L291.49,553.86 L291.17,553.71 L290.84,553.54 L290.52,553.30 L290.19,553.31 L289.87,553.16 L289.54,553.40 L289.22,553.08 L288.89,553.20 L288.57,552.99 L288.24,552.96 L287.92,552.88 L287.59,552.56 L287.27,552.70 L286.94,552.56 L286.62,552.02 L286.29,552.08 L285.97,551.87 L285.64,551.70 L285.31,551.90 L284.99,551.31 L284.66,551.43 L284.34,551.02 L284.01,551.20 L283.69,551.03 L283.36,550.58 L283.04,550.74 L282.71,550.19 L282.39,550.21 L282.06,549.91 L281.74,549.33 L281.41,549.29 L281.09,548.83 L280.76,548.86 L280.44,548.80 L280.11,548.37 L279.79,547.81 L279.46,547.35 L279.13,547.52 L278.81,547.44 L278.48,546.56 L278.16,546.18 L277.83,546.38 L277.51,546.00 L277.18,545.23 L276.86,544.99 L276.53,543.71 L276.21,544.00 L275.88,543.60 L275.56,542.94 L275.23,542.59 L274.91,541.15 L274.58,540.79 L274.26,541.26 L273.93,540.09 L273.61,538.07 L273.28,537.78 L272.96,537.28 L272.63,537.20 L272.30,534.28 L271.98,535.32 L271.65,532.38 L271.33,531.82 L271.00,529.81 L270.68,528.98 L270.35,528.54 L270.03,526.65 L269.70,522.29 L269.38,520.93 L269.05,518.64 L268.73,518.23 L268.40,514.93 L268.08,512.38 L267.75,506.30 L267.43,500.47 L267.10,497.88 L266.78,493.99 L266.45,490.62 L266.12,487.90 L265.80,486.80 L265.47,483.52 L265.15,482.70 L264.82,482.72 L264.50,488.29 L264.17,487.92 L263.85,488.99 L263.52,489.09 L263.20,485.68 L262.87,486.45 L262.55,492.22 L262.22,488.51 L261.90,496.60 L261.57,494.34 L261.25,499.57 L260.92,501.18 L260.60,504.22 L260.27,506.01 L259.94,509.94 L259.62,514.97 L259.29,519.73 L258.97,522.91 L258.64,524.59 L258.32,523.17 L257.99,526.65 L257.67,526.64 L257.34,528.94 L257.02,529.19 L256.69,528.57 L256.37,528.67 L256.04,530.15 L255.72,531.92 L255.39,531.67 L255.07,531.89 L254.74,532.27 L254.42,534.42 L254.09,535.27 L253.77,534.33 L253.44,535.28 L253.11,537.36 L252.79,536.67 L252.46,537.44 L252.14,537.71 L251.81,538.22 L251.49,539.90 L251.16,540.99 L250.84,540.55 L250.51,541.98 L250.19,542.50 L249.86,542.81 L249.54,543.31 L249.21,544.06 L248.89,544.16 L248.56,544.89 L248.24,544.10 L247.91,545.39 L247.59,545.02 L247.26,545.80 L246.94,546.23 L246.61,546.88 L246.28,546.63 L245.96,547.02 L245.63,548.06 L245.31,548.59 L244.98,548.87 L244.66,548.46 L244.33,549.55 L244.01,549.56 L243.68,549.50 L243.36,550.52 L243.03,550.42 L242.71,551.12 L242.38,550.87 L242.06,551.58 L241.73,551.86 L241.41,552.05 L241.08,552.40 L240.76,552.42 L240.43,552.47 L240.10,552.89 L239.78,553.02 L239.45,553.39 L239.13,553.37 L238.80,553.43 L238.48,553.81 L238.15,553.76 L237.83,554.16 L237.50,554.33 L237.18,554.76 L236.85,554.83 L236.53,555.10 L236.20,555.33 L235.88,555.41 L235.55,555.62 L235.23,555.89 L234.90,555.97 L234.58,556.06 L234.25,556.27 L233.93,556.30 L233.60,556.43 L233.27,556.51 L232.95,556.58 L232.62,556.64 L232.30,556.74 L231.97,556.81 L231.65,556.85 L231.32,556.90 L231.00,556.94 L230.67,556.96 L230.35,557.00 L230.02,557.01 L229.70,557.02 L229.37,557.03 L229.05,557.05 L228.72,557.07 L228.40,557.09 L228.07,557.07 L227.75,557.09 L227.42,557.11 L227.09,557.15 L226.77,557.13 L226.44,557.17 L226.12,557.16 L225.79,557.18 L225.47,557.20 L225.14,557.21 L224.82,557.21 L224.49,557.23 L224.17,557.23 L223.84,557.25 L223.52,557.24 L223.19,557.25 L222.87,557.27 L222.54,557.28 L222.22,557.29 L221.89,557.30 L221.57,557.29 L221.24,557.31 L220.92,557.31 L220.59,557.32 L220.26,557.31 L219.94,557.33 L219.61,557.33 L219.29,557.32 L218.96,557.33 L218.64,557.33 L218.31,557.33 L217.99,557.33 L217.66,557.33 L217.34,557.33 L217.01,557.33 L216.69,557.34 L216.36,557.34 L216.04,557.35 L215.71,557.34 L215.39,557.35 L215.06,557.35 L214.74,557.34 L214.41,557.35 L214.08,557.35 L213.76,557.35 L213.43,557.35 L213.11,557.35 L212.78,557.35 L212.46,557.36 L212.13,557.36 L211.81,557.36 L211.48,557.36 L211.16,557.36 L210.83,557.37 L210.51,557.37 L210.18,557.37 L209.86,557.37 L209.53,557.37 L209.21,557.38 L208.88,557.37 L208.56,557.38 L208.23,557.39 L207.91,557.38 L207.58,557.39 L207.25,557.38 L206.93,557.38 L206.60,557.39 L206.28,557.39 L205.95,557.38 L205.63,557.39 L205.30,557.39 L204.98,557.39 L204.65,557.40 L204.33,557.40 L204.00,557.40 L203.68,557.39 L203.35,557.40 L203.03,557.40 L202.70,557.41 L202.38,557.40 L202.05,557.41 L201.73,557.41 L201.40,557.40Z" fill="#c3cdee" opacity="0.8"/>
<path d="M201.40,557.38 L202.70,557.38 L202.70,557.38 L204.00,557.38 L204.00,557.37 L205.30,557.37 L205.30,557.36 L206.60,557.36 L206.60,557.35 L207.91,557.35 L207.91,557.34 L209.21,557.34 L209.21,557.33 L210.51,557.33 L210.51,557.32 L211.81,557.32 L211.81,557.31 L213.11,557.31 L213.11,557.30 L214.41,557.30 L214.41,557.28 L215.71,557.28 L215.71,557.27 L217.01,557.27 L217.01,557.25 L218.31,557.25 L218.31,557.23 L219.61,557.23 L219.61,557.22 L220.92,557.22 L220.92,557.19 L222.22,557.19 L222.22,557.17 L223.52,557.17 L223.52,557.12 L224.82,557.12 L224.82,557.02 L226.12,557.02 L226.12,556.86 L227.42,556.86 L227.42,556.68 L228.72,556.68 L228.72,556.42 L230.02,556.42 L230.02,556.14 L231.32,556.14 L231.32,555.67 L232.62,555.67 L232.62,555.13 L233.93,555.13 L233.93,554.56 L235.23,554.56 L235.23,553.60 L236.53,553.60 L236.53,552.67 L237.83,552.67 L237.83,551.29 L239.13,551.29 L239.13,549.70 L240.43,549.70 L240.43,548.64 L241.73,548.64 L241.73,547.20 L243.03,547.20 L243.03,545.62 L244.33,545.62 L244.33,543.52 L245.63,543.52 L245.63,541.49 L246.94,541.49 L246.94,539.64 L248.24,539.64 L248.24,538.31 L249.54,538.31 L249.54,536.19 L250.84,536.19 L250.84,533.18 L252.14,533.18 L252.14,531.08 L253.44,531.08 L253.44,528.50 L254.74,528.50 L254.74,524.57 L256.04,524.57 L256.04,521.31 L257.34,521.31 L257.34,516.68 L258.64,516.68 L258.64,512.90 L259.94,512.90 L259.94,508.81 L261.25,508.81 L261.25,502.70 L262.55,502.70 L262.55,497.38 L263.85,497.38 L263.85,499.27 L265.15,499.27 L265.15,500.21 L266.45,500.21 L266.45,505.91 L267.75,505.91 L267.75,514.35 L269.05,514.35 L269.05,517.62 L270.35,517.62 L270.35,522.82 L271.65,522.82 L271.65,527.11 L272.96,527.11 L272.96,530.70 L274.26,530.70 L274.26,534.00 L275.56,534.00 L275.56,536.88 L276.86,536.88 L276.86,538.95 L278.16,538.95 L278.16,540.55 L279.46,540.55 L279.46,542.59 L280.76,542.59 L280.76,543.95 L282.06,543.95 L282.06,545.04 L283.36,545.04 L283.36,546.32 L284.66,546.32 L284.66,547.17 L285.97,547.17 L285.97,547.66 L287.27,547.66 L287.27,548.45 L288.57,548.45 L288.57,549.20 L289.87,549.20 L289.87,549.63 L291.17,549.63 L291.17,550.39 L292.47,550.39 L292.47,550.93 L293.77,550.93 L293.77,551.31 L295.07,551.31 L295.07,551.67 L296.37,551.67 L296.37,551.90 L297.67,551.90 L297.67,552.41 L298.98,552.41 L298.98,552.78 L300.28,552.78 L300.28,553.07 L301.58,553.07 L301.58,553.21 L302.88,553.21 L302.88,553.54 L304.18,553.54 L304.18,553.71 L305.48,553.71 L305.48,554.06 L306.78,554.06 L306.78,554.31 L308.08,554.31 L308.08,554.56 L309.38,554.56 L309.38,554.73 L310.68,554.73 L310.68,554.99 L311.99,554.99 L311.99,555.15 L313.29,555.15 L313.29,555.34 L314.59,555.34 L314.59,555.56 L315.89,555.56 L315.89,555.76 L317.19,555.76 L317.19,555.84 L318.49,555.84 L318.49,555.97 L319.79,555.97 L319.79,556.14 L321.09,556.14 L321.09,556.27 L322.39,556.27 L322.39,556.38 L323.69,556.38 L323.69,556.52 L325.00,556.52 L325.00,556.63 L326.30,556.63 L326.30,556.68 L327.60,556.68 L327.60,556.78 L328.90,556.78 L328.90,556.85 L330.20,556.85 L330.20,556.90 L331.50,556.90" fill="none" stroke="#a77bb6" stroke-width="1.8" stroke-linejoin="miter"/>
<path d="M201.40,557.38 L202.70,557.38 L202.70,557.38 L204.00,557.38 L204.00,557.37 L205.30,557.37 L205.30,557.37 L206.60,557.37 L206.60,557.36 L207.91,557.36 L207.91,557.36 L209.21,557.36 L209.21,557.35 L210.51,557.35 L210.51,557.35 L211.81,557.35 L211.81,557.33 L213.11,557.33 L213.11,557.33 L214.41,557.33 L214.41,557.32 L215.71,557.32 L215.71,557.31 L217.01,557.31 L217.01,557.31 L218.31,557.31 L218.31,557.29 L219.61,557.29 L219.61,557.28 L220.92,557.28 L220.92,557.26 L222.22,557.26 L222.22,557.22 L223.52,557.22 L223.52,557.18 L224.82,557.18 L224.82,557.14 L226.12,557.14 L226.12,557.09 L227.42,557.09 L227.42,557.01 L228.72,557.01 L228.72,556.94 L230.02,556.94 L230.02,556.87 L231.32,556.87 L231.32,556.68 L232.62,556.68 L232.62,556.30 L233.93,556.30 L233.93,555.86 L235.23,555.86 L235.23,555.19 L236.53,555.19 L236.53,554.21 L237.83,554.21 L237.83,553.03 L239.13,553.03 L239.13,552.15 L240.43,552.15 L240.43,551.28 L241.73,551.28 L241.73,549.93 L243.03,549.93 L243.03,548.50 L244.33,548.50 L244.33,546.85 L245.63,546.85 L245.63,545.55 L246.94,545.55 L246.94,543.32 L248.24,543.32 L248.24,541.73 L249.54,541.73 L249.54,539.38 L250.84,539.38 L250.84,536.49 L252.14,536.49 L252.14,533.37 L253.44,533.37 L253.44,530.49 L254.74,530.49 L254.74,526.69 L256.04,526.69 L256.04,523.25 L257.34,523.25 L257.34,519.79 L258.64,519.79 L258.64,510.19 L259.94,510.19 L259.94,494.83 L261.25,494.83 L261.25,481.96 L262.55,481.96 L262.55,475.96 L263.85,475.96 L263.85,473.37 L265.15,473.37 L265.15,475.56 L266.45,475.56 L266.45,487.90 L267.75,487.90 L267.75,507.43 L269.05,507.43 L269.05,517.18 L270.35,517.18 L270.35,525.53 L271.65,525.53 L271.65,530.73 L272.96,530.73 L272.96,535.25 L274.26,535.25 L274.26,539.39 L275.56,539.39 L275.56,541.54 L276.86,541.54 L276.86,543.13 L278.16,543.13 L278.16,545.47 L279.46,545.47 L279.46,546.73 L280.76,546.73 L280.76,548.10 L282.06,548.10 L282.06,549.00 L283.36,549.00 L283.36,549.97 L284.66,549.97 L284.66,550.55 L285.97,550.55 L285.97,551.18 L287.27,551.18 L287.27,551.80 L288.57,551.80 L288.57,552.49 L289.87,552.49 L289.87,552.75 L291.17,552.75 L291.17,552.99 L292.47,552.99 L292.47,553.40 L293.77,553.40 L293.77,553.66 L295.07,553.66 L295.07,553.82 L296.37,553.82 L296.37,554.13 L297.67,554.13 L297.67,554.43 L298.98,554.43 L298.98,554.54 L300.28,554.54 L300.28,554.78 L301.58,554.78 L301.58,554.96 L302.88,554.96 L302.88,555.01 L304.18,555.01 L304.18,555.18 L305.48,555.18 L305.48,555.36 L306.78,555.36 L306.78,555.44 L308.08,555.44 L308.08,555.65 L309.38,555.65 L309.38,555.80 L310.68,555.80 L310.68,555.92 L311.99,555.92 L311.99,556.00 L313.29,556.00 L313.29,556.13 L314.59,556.13 L314.59,556.20 L315.89,556.20 L315.89,556.27 L317.19,556.27 L317.19,556.39 L318.49,556.39 L318.49,556.45 L319.79,556.45 L319.79,556.61 L321.09,556.61 L321.09,556.72 L322.39,556.72 L322.39,556.86 L323.69,556.86 L323.69,556.94 L325.00,556.94 L325.00,557.03 L326.30,557.03 L326.30,557.11 L327.60,557.11 L327.60,557.17 L328.90,557.17 L328.90,557.22 L330.20,557.22 L330.20,557.26 L331.50,557.26" fill="none" stroke="#4a7cc8" stroke-width="1.8" stroke-linejoin="miter"/>
<line x1="201.40" y1="435.10" x2="201.40" y2="565.10" stroke="#262626" stroke-width="1.0"/>
<line x1="200.90" y1="564.60" x2="332.00" y2="564.60" stroke="#262626" stroke-width="1.0"/>
<line x1="197.80" y1="557.50" x2="201.40" y2="557.50" stroke="#262626" stroke-width="1.0"/>
<text x="193.40" y="561.90" font-size="10.7" fill="#262626" text-anchor="end"  textLength="6.68" lengthAdjust="spacingAndGlyphs">0</text>
<line x1="197.80" y1="535.24" x2="201.40" y2="535.24" stroke="#262626" stroke-width="1.0"/>
<text x="193.40" y="539.64" font-size="10.7" fill="#262626" text-anchor="end"  textLength="6.68" lengthAdjust="spacingAndGlyphs">2</text>
<line x1="197.80" y1="512.98" x2="201.40" y2="512.98" stroke="#262626" stroke-width="1.0"/>
<text x="193.40" y="517.38" font-size="10.7" fill="#262626" text-anchor="end"  textLength="6.68" lengthAdjust="spacingAndGlyphs">4</text>
<line x1="197.80" y1="490.72" x2="201.40" y2="490.72" stroke="#262626" stroke-width="1.0"/>
<text x="193.40" y="495.12" font-size="10.7" fill="#262626" text-anchor="end"  textLength="6.68" lengthAdjust="spacingAndGlyphs">6</text>
<line x1="197.80" y1="468.46" x2="201.40" y2="468.46" stroke="#262626" stroke-width="1.0"/>
<text x="193.40" y="472.86" font-size="10.7" fill="#262626" text-anchor="end"  textLength="6.68" lengthAdjust="spacingAndGlyphs">8</text>
<line x1="197.80" y1="446.20" x2="201.40" y2="446.20" stroke="#262626" stroke-width="1.0"/>
<text x="193.40" y="450.60" font-size="10.7" fill="#262626" text-anchor="end"  textLength="13.36" lengthAdjust="spacingAndGlyphs">10</text>
<line x1="201.40" y1="564.60" x2="201.40" y2="568.20" stroke="#262626" stroke-width="1.0"/>
<text x="201.60" y="580.70" font-size="10.7" fill="#262626" text-anchor="middle"  textLength="32.17" lengthAdjust="spacingAndGlyphs">−0.50</text>
<line x1="233.93" y1="564.60" x2="233.93" y2="568.20" stroke="#262626" stroke-width="1.0"/>
<text x="234.12" y="580.70" font-size="10.7" fill="#262626" text-anchor="middle"  textLength="32.17" lengthAdjust="spacingAndGlyphs">−0.25</text>
<line x1="266.45" y1="564.60" x2="266.45" y2="568.20" stroke="#262626" stroke-width="1.0"/>
<text x="266.65" y="580.70" font-size="10.7" fill="#262626" text-anchor="middle"  textLength="23.37" lengthAdjust="spacingAndGlyphs">0.00</text>
<line x1="298.98" y1="564.60" x2="298.98" y2="568.20" stroke="#262626" stroke-width="1.0"/>
<text x="299.18" y="580.70" font-size="10.7" fill="#262626" text-anchor="middle"  textLength="23.37" lengthAdjust="spacingAndGlyphs">0.25</text>
<line x1="331.50" y1="564.60" x2="331.50" y2="568.20" stroke="#262626" stroke-width="1.0"/>
<text x="331.70" y="580.70" font-size="10.7" fill="#262626" text-anchor="middle"  textLength="23.37" lengthAdjust="spacingAndGlyphs">0.50</text>
<text x="269.25" y="592.00" font-size="11.3" fill="#262626" text-anchor="middle"  textLength="92.0" lengthAdjust="spacingAndGlyphs">Correlation values</text>
<line x1="429.50" y1="490.26" x2="495.00" y2="564.80" stroke="#969696" stroke-width="1.8"/>
<line x1="429.50" y1="505.34" x2="495.00" y2="564.80" stroke="#969696" stroke-width="1.8"/>
<line x1="429.50" y1="525.37" x2="495.00" y2="564.80" stroke="#969696" stroke-width="1.8"/>
<line x1="429.50" y1="535.33" x2="495.00" y2="564.80" stroke="#969696" stroke-width="1.8"/>
<line x1="429.50" y1="536.46" x2="495.00" y2="564.80" stroke="#969696" stroke-width="1.8"/>
<line x1="429.50" y1="544.17" x2="495.00" y2="564.80" stroke="#969696" stroke-width="1.8"/>
<line x1="429.50" y1="545.73" x2="495.00" y2="564.80" stroke="#969696" stroke-width="1.8"/>
<line x1="429.50" y1="548.33" x2="495.00" y2="564.80" stroke="#969696" stroke-width="1.8"/>
<line x1="429.50" y1="556.83" x2="495.00" y2="564.80" stroke="#969696" stroke-width="1.8"/>
<line x1="429.50" y1="532.21" x2="495.00" y2="564.80" stroke="#1a1a1a" stroke-width="2.2"/>
<line x1="429.50" y1="534.81" x2="429.50" y2="529.61" stroke="#1a1a1a" stroke-width="1.8"/>
<line x1="397.10" y1="435.10" x2="397.10" y2="565.30" stroke="#262626" stroke-width="1.0"/>
<line x1="396.60" y1="564.80" x2="527.70" y2="564.80" stroke="#262626" stroke-width="1.0"/>
<line x1="393.50" y1="564.80" x2="397.10" y2="564.80" stroke="#262626" stroke-width="1.0"/>
<text x="389.10" y="569.80" font-size="10.7" fill="#262626" text-anchor="end"  textLength="6.68" lengthAdjust="spacingAndGlyphs">0</text>
<line x1="393.50" y1="543.13" x2="397.10" y2="543.13" stroke="#262626" stroke-width="1.0"/>
<text x="389.10" y="548.13" font-size="10.7" fill="#262626" text-anchor="end"  textLength="13.36" lengthAdjust="spacingAndGlyphs">25</text>
<line x1="393.50" y1="521.46" x2="397.10" y2="521.46" stroke="#262626" stroke-width="1.0"/>
<text x="389.10" y="526.46" font-size="10.7" fill="#262626" text-anchor="end"  textLength="13.36" lengthAdjust="spacingAndGlyphs">50</text>
<line x1="393.50" y1="499.80" x2="397.10" y2="499.80" stroke="#262626" stroke-width="1.0"/>
<text x="389.10" y="504.80" font-size="10.7" fill="#262626" text-anchor="end"  textLength="13.36" lengthAdjust="spacingAndGlyphs">75</text>
<line x1="393.50" y1="478.13" x2="397.10" y2="478.13" stroke="#262626" stroke-width="1.0"/>
<text x="389.10" y="483.13" font-size="10.7" fill="#262626" text-anchor="end"  textLength="20.03" lengthAdjust="spacingAndGlyphs">100</text>
<line x1="393.50" y1="456.46" x2="397.10" y2="456.46" stroke="#262626" stroke-width="1.0"/>
<text x="389.10" y="461.46" font-size="10.7" fill="#262626" text-anchor="end"  textLength="20.03" lengthAdjust="spacingAndGlyphs">125</text>
<line x1="393.50" y1="434.79" x2="397.10" y2="434.79" stroke="#262626" stroke-width="1.0"/>
<text x="389.10" y="439.79" font-size="10.7" fill="#262626" text-anchor="end"  textLength="20.03" lengthAdjust="spacingAndGlyphs">150</text>
<line x1="429.50" y1="564.80" x2="429.50" y2="568.40" stroke="#262626" stroke-width="1.0"/>
<text x="427.50" y="588.20" font-size="14.2" fill="#262626" text-anchor="middle" >Pre</text>
<line x1="495.00" y1="564.80" x2="495.00" y2="568.40" stroke="#262626" stroke-width="1.0"/>
<text x="493.00" y="588.20" font-size="14.2" fill="#262626" text-anchor="middle" >Post</text>
<path d="M429.50,430 V427 H495.00 V430" fill="none" stroke="#333" stroke-width="1.3"/>
<text x="463.00" y="426.80" font-size="14" fill="#262626" text-anchor="middle" >*</text>
<line x1="586.00" y1="465.00" x2="651.00" y2="514.23" stroke="#969696" stroke-width="1.8"/>
<line x1="586.00" y1="483.20" x2="651.00" y2="488.32" stroke="#969696" stroke-width="1.8"/>
<line x1="586.00" y1="545.43" x2="651.00" y2="485.89" stroke="#969696" stroke-width="1.8"/>
<line x1="586.00" y1="536.33" x2="651.00" y2="522.90" stroke="#969696" stroke-width="1.8"/>
<line x1="586.00" y1="547.17" x2="651.00" y2="532.95" stroke="#969696" stroke-width="1.8"/>
<line x1="586.00" y1="549.16" x2="651.00" y2="538.50" stroke="#969696" stroke-width="1.8"/>
<line x1="586.00" y1="543.44" x2="651.00" y2="543.44" stroke="#969696" stroke-width="1.8"/>
<line x1="586.00" y1="545.09" x2="651.00" y2="545.09" stroke="#969696" stroke-width="1.8"/>
<line x1="586.00" y1="550.20" x2="651.00" y2="544.05" stroke="#969696" stroke-width="1.8"/>
<line x1="586.00" y1="526.71" x2="651.00" y2="521.43" stroke="#1a1a1a" stroke-width="2.2"/>
<line x1="586.00" y1="531.05" x2="586.00" y2="522.38" stroke="#1a1a1a" stroke-width="1.8"/>
<line x1="651.00" y1="526.63" x2="651.00" y2="516.22" stroke="#1a1a1a" stroke-width="1.8"/>
<line x1="553.60" y1="434.30" x2="553.60" y2="564.80" stroke="#262626" stroke-width="1.0"/>
<line x1="553.10" y1="564.30" x2="680.80" y2="564.30" stroke="#262626" stroke-width="1.0"/>
<line x1="550.00" y1="564.50" x2="553.60" y2="564.50" stroke="#262626" stroke-width="1.0"/>
<text x="545.60" y="569.50" font-size="10.7" fill="#262626" text-anchor="end"  textLength="6.68" lengthAdjust="spacingAndGlyphs">0</text>
<line x1="550.00" y1="542.83" x2="553.60" y2="542.83" stroke="#262626" stroke-width="1.0"/>
<text x="545.60" y="547.83" font-size="10.7" fill="#262626" text-anchor="end"  textLength="13.36" lengthAdjust="spacingAndGlyphs">25</text>
<line x1="550.00" y1="521.16" x2="553.60" y2="521.16" stroke="#262626" stroke-width="1.0"/>
<text x="545.60" y="526.16" font-size="10.7" fill="#262626" text-anchor="end"  textLength="13.36" lengthAdjust="spacingAndGlyphs">50</text>
<line x1="550.00" y1="499.50" x2="553.60" y2="499.50" stroke="#262626" stroke-width="1.0"/>
<text x="545.60" y="504.50" font-size="10.7" fill="#262626" text-anchor="end"  textLength="13.36" lengthAdjust="spacingAndGlyphs">75</text>
<line x1="550.00" y1="477.83" x2="553.60" y2="477.83" stroke="#262626" stroke-width="1.0"/>
<text x="545.60" y="482.83" font-size="10.7" fill="#262626" text-anchor="end"  textLength="20.03" lengthAdjust="spacingAndGlyphs">100</text>
<line x1="550.00" y1="456.16" x2="553.60" y2="456.16" stroke="#262626" stroke-width="1.0"/>
<text x="545.60" y="461.16" font-size="10.7" fill="#262626" text-anchor="end"  textLength="20.03" lengthAdjust="spacingAndGlyphs">125</text>
<line x1="550.00" y1="434.50" x2="553.60" y2="434.50" stroke="#262626" stroke-width="1.0"/>
<text x="545.60" y="439.50" font-size="10.7" fill="#262626" text-anchor="end"  textLength="20.03" lengthAdjust="spacingAndGlyphs">150</text>
<line x1="586.00" y1="564.30" x2="586.00" y2="567.90" stroke="#262626" stroke-width="1.0"/>
<text x="584.00" y="588.20" font-size="14.2" fill="#262626" text-anchor="middle" >Pre</text>
<line x1="651.00" y1="564.30" x2="651.00" y2="567.90" stroke="#262626" stroke-width="1.0"/>
<text x="649.00" y="588.20" font-size="14.2" fill="#262626" text-anchor="middle" >Post</text>
<path d="M586.00,430 V427 H651.00 V430" fill="none" stroke="#333" stroke-width="1.3"/>
<text x="618.10" y="424.00" font-size="10" fill="#262626" text-anchor="middle"  textLength="13.4" lengthAdjust="spacingAndGlyphs">n.s.</text>
<text transform="translate(360.40,495.20) rotate(-90)" font-size="11.3" fill="#262626" text-anchor="middle">Cell count</text>
</svg>
</body></html>
